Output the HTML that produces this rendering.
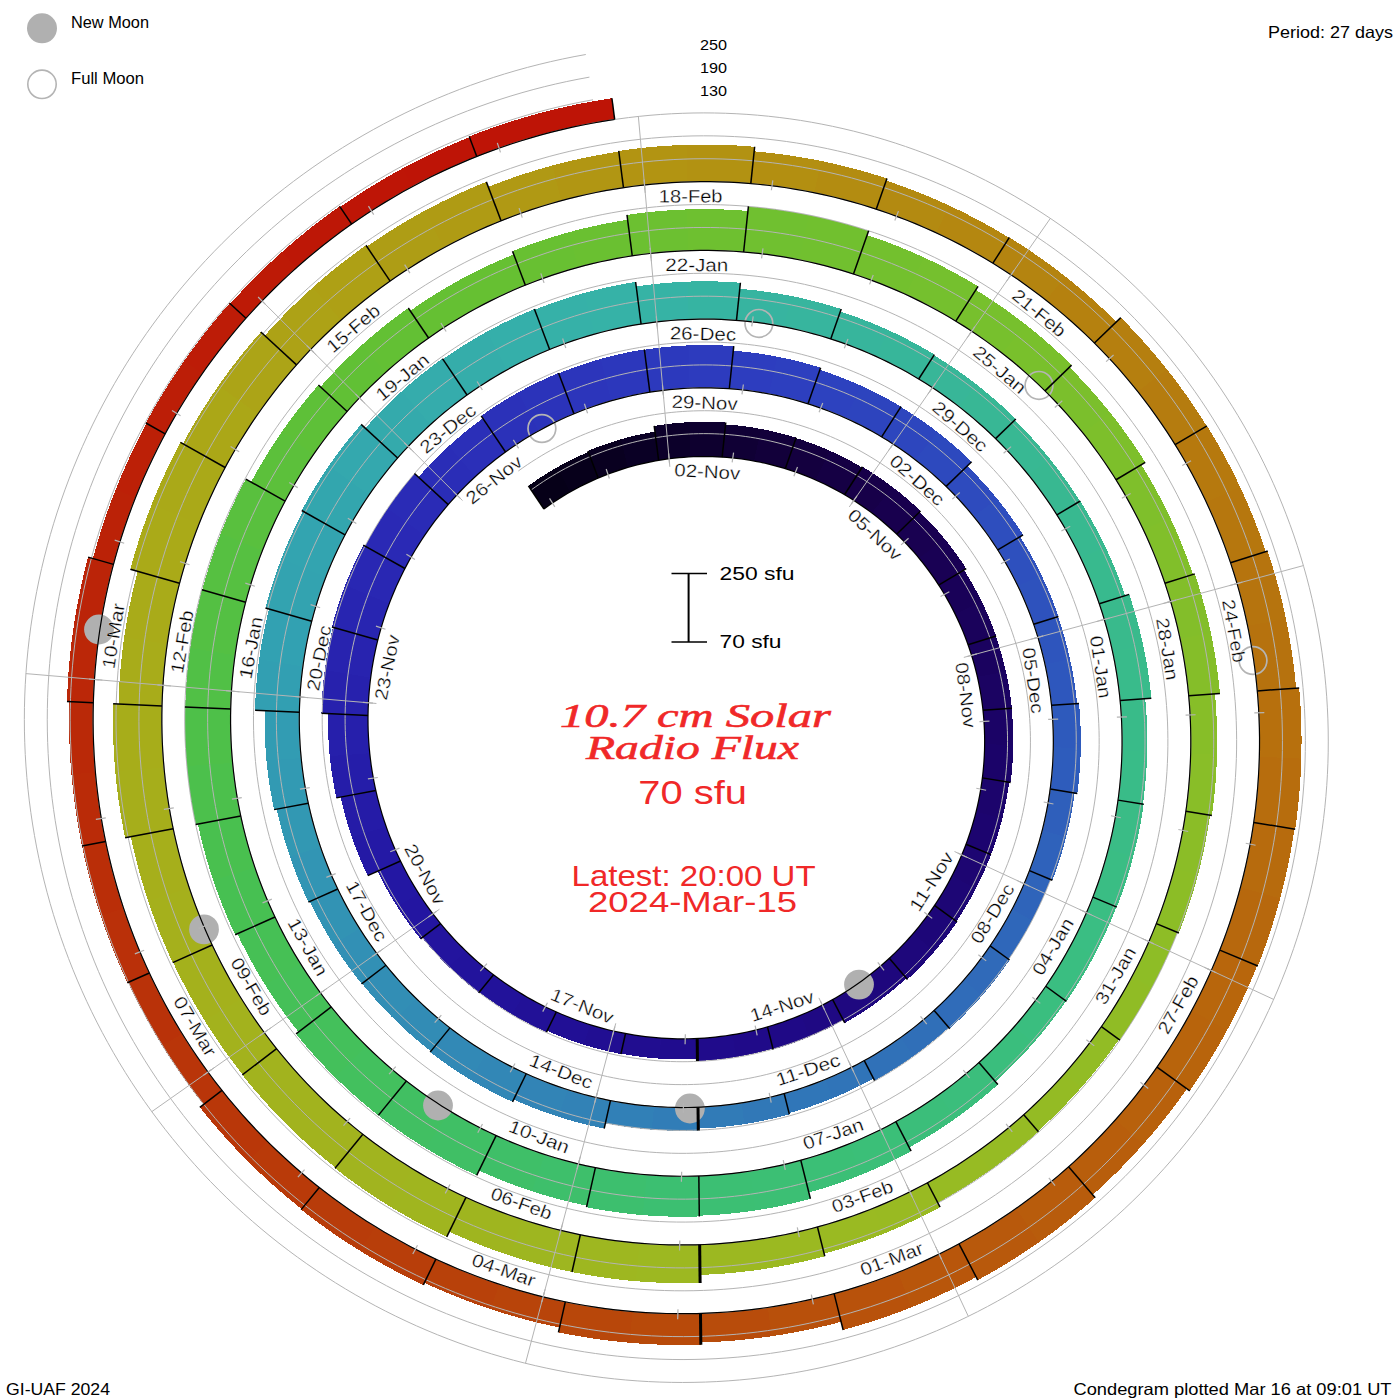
<!DOCTYPE html>
<html><head><meta charset="utf-8"><title>10.7 cm Solar Radio Flux Condegram</title>
<style>
html,body{margin:0;padding:0;background:#fff;}
svg{display:block;}
text{font-family:"Liberation Sans",sans-serif;fill:#000;}
.lab{font-size:18px;text-anchor:middle;dominant-baseline:central;stroke:#fff;stroke-width:0.3px;}
.thin{stroke:#fff;stroke-width:0.3px;}
.red{fill:#f02828;}
.ttl{font-family:"Liberation Serif",serif;font-style:italic;font-weight:normal;font-size:34px;stroke:#f02828;stroke-width:0.6px;}
</style></head><body>
<svg width="1400" height="1400" viewBox="0 0 1400 1400" xmlns="http://www.w3.org/2000/svg">
<rect width="1400" height="1400" fill="#fff"/>
<g shape-rendering="crispEdges">
<polygon fill="#060018" points="528.38,485.88 532.37,483.01 536.41,480.22 540.5,477.48 544.63,474.82 548.81,472.22 553.04,469.69 557.31,467.23 570.12,492 566.26,494.24 562.44,496.55 558.66,498.91 554.93,501.34 551.23,503.83 547.58,506.38 543.98,508.99"/>
<polygon fill="#07001b" points="557.31,467.23 561.63,464.84 565.98,462.52 570.38,460.27 574.81,458.1 579.29,455.99 583.8,453.96 588.35,452.01 598.2,478.09 594.08,479.88 590,481.74 585.95,483.66 581.94,485.65 577.96,487.7 574.02,489.81 570.12,492"/>
<polygon fill="#090020" points="587.94,450.94 592.54,449.05 597.18,447.24 601.84,445.5 606.54,443.85 611.27,442.26 616.02,440.76 620.8,439.34 627.83,467.5 623.52,468.8 619.23,470.18 614.97,471.62 610.73,473.14 606.52,474.72 602.34,476.37 598.2,478.09"/>
<polygon fill="#0a0025" points="620.8,439.34 625.61,437.99 630.44,436.73 635.3,435.54 640.18,434.44 645.08,433.41 650,432.47 654.93,431.6 658.65,460.39 654.19,461.19 649.75,462.06 645.32,463 640.92,464.02 636.54,465.11 632.17,466.27 627.83,467.5"/>
<polygon fill="#0c002a" points="654.2,425.92 659.25,425.13 664.31,424.42 669.39,423.8 674.48,423.26 679.58,422.8 684.69,422.43 689.81,422.15 690.23,456.9 685.68,457.17 681.15,457.52 676.63,457.95 672.11,458.45 667.61,459.02 663.12,459.67 658.65,460.39"/>
<polygon fill="#0e002f" points="689.81,422.15 694.94,421.95 700.07,421.83 705.21,421.8 710.35,421.86 715.49,422 720.63,422.22 725.77,422.54 722.14,457.1 717.58,456.85 713.02,456.67 708.45,456.56 703.89,456.53 699.33,456.58 694.78,456.7 690.23,456.9"/>
<polygon fill="#100035" points="725.57,424.44 730.67,424.83 735.77,425.31 740.87,425.88 745.95,426.53 751.03,427.26 756.1,428.08 761.16,428.99 753.97,461.04 749.44,460.25 744.91,459.53 740.37,458.89 735.82,458.33 731.27,457.85 726.71,457.44 722.14,457.1"/>
<polygon fill="#12003a" points="761.16,428.99 766.21,429.98 771.24,431.05 776.25,432.21 781.25,433.45 786.23,434.78 791.19,436.19 796.13,437.68 785.26,468.68 780.84,467.36 776.4,466.12 771.94,464.95 767.47,463.86 762.98,462.84 758.48,461.9 753.97,461.04"/>
<polygon fill="#14003f" points="796,438.04 800.91,439.61 805.8,441.27 810.66,443.01 815.49,444.83 820.3,446.73 825.07,448.71 829.82,450.77 815.6,479.96 811.34,478.13 807.05,476.37 802.74,474.68 798.41,473.07 794.05,471.53 789.67,470.07 785.26,468.68"/>
<polygon fill="#150044" points="829.82,450.77 834.53,452.91 839.21,455.14 843.86,457.44 848.46,459.81 853.03,462.27 857.57,464.81 862.06,467.42 844.54,494.75 840.51,492.43 836.44,490.17 832.33,487.99 828.2,485.87 824.03,483.83 819.83,481.86 815.6,479.96"/>
<polygon fill="#170049" points="862.47,466.77 866.93,469.47 871.35,472.24 875.72,475.08 880.05,478 884.33,480.99 888.57,484.05 892.75,487.19 871.7,512.9 867.94,510.11 864.15,507.38 860.31,504.72 856.42,502.13 852.5,499.6 848.54,497.14 844.54,494.75"/>
<polygon fill="#18004e" points="892.75,487.19 896.89,490.39 900.97,493.67 905,497.02 908.97,500.43 912.89,503.91 916.76,507.46 920.57,511.08 896.67,534.17 893.25,530.95 889.78,527.79 886.26,524.69 882.69,521.64 879.07,518.67 875.41,515.75 871.7,512.9"/>
<polygon fill="#190151" points="919.74,511.88 923.48,515.54 927.15,519.27 930.77,523.07 934.32,526.92 937.82,530.84 941.24,534.81 944.61,538.85 919.1,558.31 916.07,554.7 912.97,551.14 909.82,547.63 906.62,544.18 903.35,540.79 900.04,537.45 896.67,534.17"/>
<polygon fill="#190154" points="944.61,538.85 947.9,542.94 951.13,547.09 954.3,551.29 957.39,555.55 960.42,559.86 963.37,564.23 966.25,568.64 938.66,585.02 936.05,581.06 933.38,577.15 930.65,573.28 927.85,569.46 925,565.7 922.08,561.98 919.1,558.31"/>
<polygon fill="#190158" points="963.95,570.01 966.74,574.44 969.46,578.91 972.1,583.43 974.67,588 977.16,592.62 979.58,597.27 981.92,601.97 955.06,613.94 952.92,609.69 950.71,605.47 948.43,601.3 946.09,597.16 943.68,593.07 941.2,589.02 938.66,585.02"/>
<polygon fill="#1a025b" points="981.92,601.97 984.18,606.71 986.37,611.49 988.48,616.31 990.5,621.17 992.45,626.06 994.32,630.99 996.11,635.95 968.03,644.72 966.4,640.22 964.69,635.76 962.9,631.33 961.05,626.93 959.12,622.57 957.12,618.24 955.06,613.94"/>
<polygon fill="#1a025f" points="995.74,636.06 997.44,641.05 999.06,646.06 1000.6,651.11 1002.05,656.18 1003.42,661.28 1004.71,666.4 1005.91,671.55 977.39,676.93 976.28,672.26 975.09,667.61 973.83,662.98 972.5,658.37 971.08,653.79 969.6,649.24 968.03,644.72"/>
<polygon fill="#1b0362" points="1005.91,671.55 1007.03,676.72 1008.06,681.91 1009,687.12 1009.86,692.35 1010.63,697.6 1011.32,702.86 1011.91,708.13 982.96,710.16 982.4,705.37 981.76,700.59 981.04,695.83 980.25,691.08 979.37,686.34 978.42,681.63 977.39,676.93"/>
<polygon fill="#1b0366" points="1011.53,708.16 1012.04,713.44 1012.46,718.73 1012.8,724.02 1013.04,729.33 1013.2,734.65 1013.27,739.96 1013.25,745.29 984.63,743.96 984.63,739.12 984.55,734.27 984.4,729.44 984.16,724.61 983.84,719.78 983.44,714.97 982.96,710.16"/>
<polygon fill="#1b0369" points="1013.25,745.29 1013.14,750.61 1012.94,755.94 1012.66,761.26 1012.28,766.58 1011.82,771.9 1011.27,777.21 1010.62,782.51 982.36,777.88 982.92,773.04 983.41,768.2 983.82,763.36 984.14,758.51 984.39,753.66 984.55,748.81 984.63,743.96"/>
<polygon fill="#1c046c" points="1009.12,782.27 1008.39,787.54 1007.58,792.8 1006.68,798.05 1005.69,803.29 1004.61,808.51 1003.45,813.72 1002.2,818.91 976.13,811.44 977.26,806.69 978.31,801.91 979.28,797.13 980.17,792.33 980.98,787.52 981.71,782.7 982.36,777.88"/>
<polygon fill="#1c046f" points="1002.2,818.91 1000.86,824.08 999.43,829.23 997.92,834.36 996.33,839.47 994.64,844.55 992.87,849.61 991.02,854.64 965.99,844.2 967.68,839.58 969.28,834.95 970.81,830.29 972.26,825.6 973.63,820.9 974.92,816.18 976.13,811.44"/>
<polygon fill="#1d0572" points="991.02,854.64 989.08,859.64 987.06,864.61 984.96,869.55 982.77,874.45 980.5,879.33 978.14,884.16 975.71,888.96 952.06,875.68 954.28,871.28 956.42,866.84 958.49,862.37 960.48,857.87 962.4,853.34 964.23,848.78 965.99,844.2"/>
<polygon fill="#1d0675" points="975.71,888.96 973.19,893.72 970.6,898.44 967.92,903.12 965.17,907.76 962.33,912.35 959.42,916.9 956.43,921.4 934.49,905.47 937.22,901.33 939.87,897.16 942.46,892.94 944.97,888.68 947.41,884.39 949.77,880.05 952.06,875.68"/>
<polygon fill="#1d0678" points="957.05,921.85 953.98,926.31 950.83,930.73 947.61,935.09 944.32,939.4 940.95,943.66 937.51,947.87 933.99,952.01 913.48,933.12 916.69,929.32 919.82,925.46 922.89,921.56 925.89,917.61 928.83,913.61 931.69,909.56 934.49,905.47"/>
<polygon fill="#1e077b" points="933.99,952.01 930.41,956.11 926.76,960.14 923.03,964.12 919.25,968.03 915.39,971.88 911.47,975.67 907.48,979.4 889.3,958.26 892.94,954.84 896.52,951.36 900.04,947.82 903.49,944.23 906.89,940.58 910.22,936.88 913.48,933.12"/>
<polygon fill="#1e077d" points="906.48,978.24 902.45,981.89 898.36,985.47 894.21,988.98 889.99,992.43 885.72,995.81 881.38,999.11 877,1002.35 862.25,980.51 866.28,977.52 870.25,974.46 874.18,971.35 878.04,968.17 881.85,964.92 885.61,961.62 889.3,958.26"/>
<polygon fill="#1f0880" points="877,1002.35 872.55,1005.51 868.05,1008.61 863.5,1011.62 858.89,1014.57 854.24,1017.44 849.53,1020.23 844.78,1022.94 832.67,999.54 837.04,997.03 841.36,994.44 845.63,991.79 849.86,989.07 854.04,986.28 858.17,983.43 862.25,980.51"/>
<polygon fill="#1f0983" points="843.38,1020.23 838.62,1022.84 833.82,1025.38 828.97,1027.84 824.09,1030.22 819.16,1032.51 814.19,1034.73 809.18,1036.86 800.95,1015.07 805.59,1013.07 810.21,1011 814.78,1008.86 819.31,1006.64 823.81,1004.34 828.26,1001.98 832.67,999.54"/>
<polygon fill="#1f0986" points="809.18,1036.86 804.13,1038.91 799.05,1040.88 793.93,1042.77 788.78,1044.57 783.59,1046.28 778.38,1047.91 773.14,1049.45 767.49,1026.85 772.36,1025.4 777.2,1023.88 782.01,1022.27 786.8,1020.59 791.55,1018.82 796.26,1016.98 800.95,1015.07"/>
<polygon fill="#200a89" points="772.95,1048.71 767.69,1050.17 762.41,1051.53 757.1,1052.81 751.76,1054.01 746.41,1055.11 741.03,1056.12 735.63,1057.05 732.75,1034.7 737.78,1033.82 742.78,1032.87 747.77,1031.83 752.73,1030.71 757.68,1029.5 762.6,1028.22 767.49,1026.85"/>
<polygon fill="#200b8b" points="735.63,1057.05 730.22,1057.88 724.79,1058.63 719.35,1059.29 713.89,1059.85 708.42,1060.33 702.94,1060.71 697.45,1061.01 697.19,1038.47 702.3,1038.19 707.4,1037.82 712.5,1037.36 717.58,1036.82 722.65,1036.2 727.71,1035.49 732.75,1034.7"/>
<polygon fill="#200c8e" points="697.43,1059.1 691.97,1059.3 686.5,1059.41 681.03,1059.43 675.55,1059.36 670.08,1059.19 664.6,1058.94 659.13,1058.6 661.27,1038.08 666.41,1038.4 671.54,1038.62 676.68,1038.76 681.81,1038.82 686.94,1038.79 692.06,1038.67 697.19,1038.47"/>
<polygon fill="#210d90" points="659.13,1058.6 653.65,1058.16 648.19,1057.63 642.73,1057.01 637.28,1056.3 631.84,1055.5 626.41,1054.61 620.99,1053.63 625.51,1033.5 630.59,1034.42 635.68,1035.24 640.79,1035.98 645.9,1036.63 651.02,1037.2 656.14,1037.69 661.27,1038.08"/>
<polygon fill="#210e92" points="620.91,1054 615.5,1052.93 610.1,1051.76 604.72,1050.51 599.37,1049.16 594.03,1047.73 588.71,1046.2 583.42,1044.59 590.37,1024.76 595.33,1026.26 600.31,1027.68 605.32,1029.02 610.34,1030.26 615.38,1031.43 620.44,1032.51 625.51,1033.5"/>
<polygon fill="#210f95" points="583.42,1044.59 578.15,1042.89 572.91,1041.1 567.69,1039.22 562.51,1037.25 557.35,1035.2 552.23,1033.06 547.14,1030.83 556.34,1011.95 561.12,1014.02 565.92,1016.02 570.76,1017.93 575.62,1019.76 580.51,1021.51 585.43,1023.18 590.37,1024.76"/>
<polygon fill="#221197" points="546.47,1032.2 541.4,1029.88 536.36,1027.47 531.35,1024.98 526.39,1022.4 521.47,1019.74 516.59,1016.99 511.75,1014.17 523.91,995.19 528.43,997.82 532.99,1000.37 537.59,1002.84 542.22,1005.24 546.9,1007.55 551.6,1009.79 556.34,1011.95"/>
<polygon fill="#22129a" points="511.75,1014.17 506.96,1011.26 502.22,1008.27 497.52,1005.2 492.88,1002.05 488.28,998.82 483.74,995.52 479.25,992.13 493.52,974.7 497.72,977.85 501.97,980.92 506.27,983.92 510.61,986.85 515,989.71 519.43,992.49 523.91,995.19"/>
<polygon fill="#22139c" points="478.76,992.72 474.31,989.26 469.92,985.72 465.59,982.1 461.32,978.41 457.1,974.65 452.95,970.81 448.86,966.91 465.61,950.72 469.43,954.35 473.31,957.91 477.24,961.4 481.23,964.83 485.28,968.19 489.37,971.48 493.52,974.7"/>
<polygon fill="#23149e" points="448.86,966.91 444.83,962.93 440.86,958.89 436.96,954.78 433.13,950.6 429.37,946.36 425.68,942.05 422.05,937.68 440.57,923.54 443.96,927.61 447.41,931.61 450.93,935.56 454.51,939.44 458.15,943.26 461.85,947.02 465.61,950.72"/>
<polygon fill="#2315a1" points="420.53,938.84 416.96,934.38 413.46,929.86 410.04,925.28 406.69,920.64 403.41,915.95 400.22,911.2 397.1,906.39 418.78,893.52 421.68,897.97 424.65,902.37 427.7,906.71 430.81,911.01 434,915.24 437.25,919.42 440.57,923.54"/>
<polygon fill="#2317a3" points="397.1,906.39 394.06,901.53 391.1,896.62 388.22,891.65 385.42,886.64 382.7,881.57 380.07,876.46 377.52,871.31 400.55,861.05 402.92,865.82 405.37,870.55 407.9,875.24 410.51,879.88 413.19,884.48 415.95,889.03 418.78,893.52"/>
<polygon fill="#2419a5" points="367.75,875.66 365.22,870.3 362.77,864.89 360.41,859.44 358.14,853.95 355.97,848.42 353.88,842.85 351.89,837.24 386.16,826.53 387.97,831.57 389.86,836.58 391.84,841.55 393.89,846.48 396.03,851.37 398.25,856.23 400.55,861.05"/>
<polygon fill="#251ba7" points="351.89,837.24 349.99,831.6 348.18,825.93 346.46,820.22 344.84,814.48 343.32,808.71 341.89,802.92 340.55,797.1 375.83,790.44 377.05,795.68 378.36,800.89 379.75,806.07 381.22,811.23 382.78,816.36 384.43,821.46 386.16,826.53"/>
<polygon fill="#251da9" points="336.43,797.88 335.18,791.96 334.02,786.03 332.97,780.07 332.02,774.09 331.16,768.1 330.4,762.08 329.75,756.06 369.75,753.25 370.36,758.61 371.05,763.96 371.83,769.29 372.7,774.61 373.66,779.9 374.7,785.18 375.83,790.44"/>
<polygon fill="#261fab" points="329.75,756.06 329.19,750.02 328.74,743.97 328.38,737.9 328.13,731.84 327.97,725.76 327.92,719.68 327.97,713.6 368.03,715.45 368.01,720.87 368.07,726.28 368.23,731.69 368.48,737.09 368.81,742.49 369.24,747.87 369.75,753.25"/>
<polygon fill="#2721ad" points="321.48,713.3 321.64,707.1 321.9,700.91 322.26,694.72 322.72,688.54 323.29,682.35 323.96,676.18 324.74,670.02 370.72,677.56 370.07,682.96 369.5,688.36 369.03,693.78 368.64,699.19 368.35,704.61 368.14,710.03 368.03,715.45"/>
<polygon fill="#2823af" points="324.74,670.02 325.62,663.86 326.6,657.72 327.68,651.6 328.86,645.49 330.15,639.39 331.54,633.32 333.03,627.27 377.83,640.09 376.54,645.4 375.35,650.73 374.24,656.07 373.23,661.42 372.3,666.79 371.47,672.17 370.72,677.56"/>
<polygon fill="#2825b1" points="331.93,626.95 333.53,620.9 335.22,614.88 337.02,608.88 338.92,602.91 340.92,596.97 343.02,591.06 345.22,585.18 389.28,603.57 387.38,608.71 385.57,613.88 383.85,619.07 382.21,624.3 380.66,629.54 379.2,634.81 377.83,640.09"/>
<polygon fill="#2927b3" points="345.22,585.18 347.52,579.34 349.91,573.54 352.4,567.77 354.99,562.04 357.68,556.35 360.46,550.71 363.33,545.11 404.96,568.49 402.47,573.39 400.06,578.33 397.74,583.31 395.49,588.33 393.34,593.38 391.27,598.46 389.28,603.57"/>
<polygon fill="#2a29b5" points="365,546.05 367.95,540.52 371,535.04 374.14,529.61 377.37,524.23 380.69,518.9 384.1,513.63 387.6,508.41 424.69,535.34 421.64,539.94 418.66,544.58 415.76,549.28 412.94,554.01 410.2,558.8 407.54,563.62 404.96,568.49"/>
<polygon fill="#2a2bb6" points="387.6,508.41 391.19,503.24 394.87,498.14 398.63,493.09 402.48,488.11 406.41,483.19 410.42,478.33 414.52,473.53 448.23,504.59 444.65,508.82 441.13,513.1 437.69,517.44 434.33,521.84 431.04,526.29 427.83,530.79 424.69,535.34"/>
<polygon fill="#2a2db7" points="418.45,477.16 422.57,472.5 426.77,467.9 431.04,463.37 435.39,458.92 439.82,454.53 444.32,450.21 448.89,445.97 475.29,476.67 471.22,480.47 467.22,484.34 463.28,488.26 459.41,492.25 455.62,496.3 451.89,500.42 448.23,504.59"/>
<polygon fill="#2b2fb8" points="448.89,445.97 453.54,441.81 458.26,437.72 463.05,433.7 467.9,429.77 472.82,425.91 477.81,422.14 482.87,418.45 505.52,452 501.02,455.31 496.58,458.7 492.2,462.16 487.88,465.68 483.62,469.28 479.42,472.94 475.29,476.67"/>
<polygon fill="#2b31b9" points="481.16,415.91 486.32,412.27 491.54,408.72 496.82,405.25 502.16,401.87 507.56,398.58 513.02,395.37 518.53,392.26 538.54,430.93 533.66,433.71 528.84,436.57 524.07,439.5 519.35,442.51 514.68,445.6 510.07,448.76 505.52,452"/>
<polygon fill="#2b33ba" points="518.53,392.26 524.09,389.23 529.71,386.3 535.38,383.46 541.1,380.71 546.86,378.06 552.67,375.5 558.53,373.04 573.91,413.78 568.73,415.98 563.59,418.26 558.49,420.63 553.43,423.08 548.42,425.62 543.45,428.23 538.54,430.93"/>
<polygon fill="#2c35bb" points="558.67,373.4 564.56,371.04 570.49,368.77 576.47,366.6 582.48,364.53 588.53,362.56 594.61,360.69 600.73,358.92 611.18,400.8 605.76,402.39 600.37,404.07 595.01,405.83 589.68,407.69 584.39,409.63 579.13,411.66 573.91,413.78"/>
<polygon fill="#2c37bc" points="600.73,358.92 606.87,357.26 613.05,355.69 619.26,354.23 625.49,352.87 631.75,351.61 638.03,350.45 644.33,349.4 649.85,392.21 644.26,393.16 638.69,394.21 633.14,395.34 627.61,396.57 622.11,397.89 616.63,399.3 611.18,400.8"/>
<polygon fill="#2c39bd" points="644.38,349.78 650.69,348.84 657.02,348 663.37,347.26 669.73,346.63 676.11,346.11 682.5,345.69 688.89,345.38 689.4,388.16 683.72,388.45 678.04,388.84 672.38,389.33 666.72,389.91 661.08,390.58 655.46,391.35 649.85,392.21"/>
<polygon fill="#2d3bbe" points="688.89,345.38 695.29,345.18 701.7,345.08 708.11,345.08 714.53,345.2 720.94,345.42 727.36,345.75 733.77,346.18 729.31,388.73 723.61,388.36 717.9,388.09 712.2,387.91 706.49,387.83 700.79,387.84 695.1,387.95 689.4,388.16"/>
<polygon fill="#2d3dbf" points="733.29,350.74 739.62,351.28 745.94,351.91 752.25,352.66 758.55,353.51 764.85,354.46 771.12,355.52 777.38,356.69 769.02,393.95 763.38,392.92 757.73,391.99 752.06,391.15 746.38,390.4 740.7,389.75 735.01,389.19 729.31,388.73"/>
<polygon fill="#2d3fbf" points="777.38,356.69 783.63,357.96 789.85,359.33 796.06,360.81 802.24,362.39 808.4,364.07 814.53,365.86 820.64,367.75 808,403.8 802.5,402.11 796.97,400.52 791.42,399.02 785.85,397.61 780.26,396.3 774.65,395.08 769.02,393.95"/>
<polygon fill="#2d42bf" points="819.88,369.91 825.92,371.89 831.92,373.97 837.9,376.16 843.84,378.44 849.75,380.82 855.61,383.3 861.44,385.88 845.71,418.15 840.42,415.83 835.1,413.6 829.74,411.46 824.35,409.4 818.93,407.44 813.48,405.57 808,403.8"/>
<polygon fill="#2d44be" points="861.44,385.88 867.23,388.56 872.97,391.33 878.67,394.2 884.33,397.17 889.94,400.23 895.49,403.38 901,406.63 881.63,436.86 876.63,433.93 871.58,431.09 866.49,428.33 861.36,425.65 856.18,423.06 850.97,420.56 845.71,418.15"/>
<polygon fill="#2d46be" points="900.8,406.96 906.25,410.29 911.64,413.72 916.98,417.25 922.27,420.86 927.49,424.56 932.66,428.35 937.76,432.22 915.26,459.71 910.61,456.2 905.91,452.77 901.16,449.43 896.35,446.16 891.5,442.98 886.59,439.88 881.63,436.86"/>
<polygon fill="#2d49be" points="937.76,432.22 942.8,436.19 947.78,440.23 952.69,444.37 957.54,448.58 962.31,452.88 967.02,457.26 971.65,461.71 946.11,486.4 941.89,482.36 937.6,478.4 933.26,474.51 928.85,470.69 924.37,466.95 919.84,463.29 915.26,459.71"/>
<polygon fill="#2e4bbe" points="967.26,465.96 971.75,470.42 976.17,474.96 980.52,479.58 984.79,484.26 988.98,489.02 993.09,493.86 997.13,498.76 973.75,516.6 970.02,512.08 966.21,507.63 962.33,503.25 958.37,498.93 954.35,494.68 950.27,490.5 946.11,486.4"/>
<polygon fill="#2e4ebe" points="997.13,498.76 1001.09,503.73 1004.96,508.77 1008.75,513.87 1012.46,519.04 1016.09,524.27 1019.63,529.57 1023.08,534.92 997.78,549.93 994.59,545 991.31,540.11 987.95,535.29 984.52,530.53 981,525.82 977.42,521.18 973.75,516.6"/>
<polygon fill="#2e50be" points="1020.12,536.68 1023.45,542.04 1026.7,547.47 1029.86,552.95 1032.93,558.48 1035.9,564.06 1038.79,569.7 1041.58,575.39 1017.85,585.96 1015.24,580.67 1012.54,575.42 1009.76,570.22 1006.89,565.07 1003.94,559.97 1000.9,554.93 997.78,549.93"/>
<polygon fill="#2e52bd" points="1041.58,575.39 1044.27,581.12 1046.88,586.91 1049.38,592.73 1051.8,598.61 1054.11,604.52 1056.33,610.47 1058.45,616.47 1033.65,624.21 1031.67,618.63 1029.59,613.09 1027.42,607.58 1025.16,602.11 1022.81,596.68 1020.38,591.3 1017.85,585.96"/>
<polygon fill="#2e55bd" points="1058.08,616.58 1060.1,622.61 1062.02,628.67 1063.83,634.76 1065.55,640.89 1067.17,647.04 1068.68,653.23 1070.09,659.44 1044.95,664.19 1043.62,658.39 1042.19,652.62 1040.67,646.88 1039.06,641.16 1037.35,635.48 1035.55,629.83 1033.65,624.21"/>
<polygon fill="#2e57bd" points="1070.09,659.44 1071.4,665.68 1072.6,671.94 1073.71,678.23 1074.7,684.53 1075.6,690.85 1076.38,697.2 1077.06,703.55 1051.54,705.34 1050.89,699.41 1050.14,693.5 1049.3,687.59 1048.35,681.71 1047.31,675.85 1046.18,670.01 1044.95,664.19"/>
<polygon fill="#2e5abc" points="1078.97,703.42 1079.55,709.82 1080.02,716.23 1080.39,722.65 1080.64,729.09 1080.8,735.52 1080.84,741.96 1080.78,748.41 1053.31,747.14 1053.35,741.15 1053.3,735.17 1053.15,729.19 1052.89,723.21 1052.54,717.25 1052.09,711.29 1051.54,705.34"/>
<polygon fill="#2e5cbc" points="1080.78,748.41 1080.61,754.86 1080.33,761.3 1079.95,767.74 1079.46,774.18 1078.86,780.62 1078.15,787.04 1077.34,793.46 1050.2,789 1050.94,783.04 1051.59,777.07 1052.13,771.09 1052.58,765.11 1052.92,759.12 1053.16,753.13 1053.31,747.14"/>
<polygon fill="#2f5fbb" points="1074.7,793.02 1073.79,799.38 1072.77,805.73 1071.64,812.06 1070.41,818.38 1069.08,824.67 1067.63,830.95 1066.09,837.2 1042.22,830.37 1043.66,824.51 1044.99,818.64 1046.23,812.74 1047.37,806.83 1048.42,800.9 1049.36,794.96 1050.2,789"/>
<polygon fill="#2f62bb" points="1066.09,837.2 1064.44,843.44 1062.68,849.64 1060.82,855.82 1058.86,861.97 1056.79,868.09 1054.63,874.18 1052.36,880.23 1029.44,870.67 1031.56,865 1033.58,859.3 1035.5,853.56 1037.33,847.8 1039.05,842.02 1040.69,836.2 1042.22,830.37"/>
<polygon fill="#2f64ba" points="1050.59,879.49 1048.23,885.48 1045.77,891.43 1043.21,897.34 1040.56,903.21 1037.8,909.04 1034.94,914.83 1031.99,920.56 1012.01,909.34 1014.78,903.94 1017.45,898.49 1020.04,893 1022.53,887.47 1024.93,881.91 1027.23,876.31 1029.44,870.67"/>
<polygon fill="#2f67ba" points="1031.99,920.56 1028.94,926.26 1025.8,931.9 1022.56,937.49 1019.22,943.03 1015.8,948.52 1012.28,953.95 1008.67,959.32 990.12,945.86 993.51,940.8 996.82,935.68 1000.03,930.51 1003.16,925.29 1006.2,920.02 1009.15,914.71 1012.01,909.34"/>
<polygon fill="#306ab9" points="1009.6,960 1005.88,965.33 1002.08,970.6 998.19,975.81 994.21,980.96 990.14,986.04 985.99,991.06 981.75,996 964.05,979.7 968.02,975.05 971.91,970.33 975.72,965.56 979.44,960.72 983.09,955.82 986.65,950.87 990.12,945.86"/>
<polygon fill="#306cb9" points="981.75,996 977.43,1000.88 973.03,1005.69 968.54,1010.43 963.98,1015.1 959.33,1019.69 954.61,1024.2 949.81,1028.64 934.12,1010.39 938.62,1006.22 943.05,1001.97 947.4,997.65 951.68,993.27 955.88,988.81 960,984.29 964.05,979.7"/>
<polygon fill="#306fb8" points="948.81,1027.48 943.96,1031.82 939.03,1036.09 934.03,1040.27 928.95,1044.37 923.81,1048.39 918.6,1052.32 913.32,1056.17 900.71,1037.49 905.68,1033.85 910.59,1030.14 915.43,1026.34 920.21,1022.47 924.91,1018.52 929.55,1014.49 934.12,1010.39"/>
<polygon fill="#3071b8" points="913.32,1056.17 907.98,1059.93 902.57,1063.6 897.1,1067.19 891.56,1070.68 885.97,1074.09 880.32,1077.4 874.61,1080.62 864.26,1060.6 869.64,1057.56 874.96,1054.42 880.23,1051.21 885.44,1047.9 890.59,1044.52 895.68,1041.04 900.71,1037.49"/>
<polygon fill="#3074b8" points="873.56,1078.58 867.83,1081.69 862.05,1084.7 856.21,1087.62 850.33,1090.44 844.39,1093.17 838.41,1095.79 832.38,1098.32 825.23,1079.38 830.95,1076.98 836.62,1074.48 842.24,1071.88 847.82,1069.2 853.35,1066.42 858.83,1063.56 864.26,1060.6"/>
<polygon fill="#3076b8" points="832.38,1098.32 826.31,1100.75 820.2,1103.08 814.04,1105.31 807.85,1107.43 801.62,1109.46 795.35,1111.38 789.05,1113.19 784.15,1093.55 790.12,1091.82 796.06,1089.99 801.97,1088.06 807.84,1086.04 813.68,1083.91 819.48,1081.7 825.23,1079.38"/>
<polygon fill="#3178b7" points="789.33,1114.3 782.98,1116.02 776.59,1117.63 770.18,1119.14 763.74,1120.54 757.28,1121.83 750.79,1123.02 744.29,1124.1 741.55,1102.88 747.71,1101.85 753.84,1100.72 759.95,1099.49 766.04,1098.16 772.11,1096.72 778.14,1095.19 784.15,1093.55"/>
<polygon fill="#317bb7" points="744.29,1124.1 737.76,1125.07 731.21,1125.93 724.65,1126.68 718.07,1127.33 711.48,1127.86 704.87,1128.29 698.26,1128.6 698.01,1107.22 704.26,1106.91 710.51,1106.5 716.75,1105.98 722.97,1105.36 729.18,1104.64 735.37,1103.81 741.55,1102.88"/>
<polygon fill="#317db7" points="698.29,1130.51 691.64,1130.72 684.98,1130.82 678.32,1130.8 671.66,1130.67 665,1130.44 658.34,1130.09 651.68,1129.63 654.11,1106.46 660.38,1106.88 666.65,1107.2 672.93,1107.41 679.2,1107.52 685.48,1107.52 691.74,1107.42 698.01,1107.22"/>
<polygon fill="#3180b7" points="651.68,1129.63 645.03,1129.06 638.39,1128.38 631.76,1127.59 625.13,1126.69 618.52,1125.68 611.93,1124.55 605.35,1123.32 610.45,1100.59 616.65,1101.74 622.87,1102.79 629.1,1103.73 635.34,1104.57 641.59,1105.3 647.84,1105.93 654.11,1106.46"/>
<polygon fill="#3282b6" points="604.18,1128.54 597.53,1127.17 590.91,1125.7 584.3,1124.12 577.73,1122.42 571.17,1120.62 564.65,1118.7 558.15,1116.68 567.63,1089.64 573.67,1091.51 579.74,1093.28 585.84,1094.95 591.96,1096.51 598.11,1097.97 604.27,1099.33 610.45,1100.59"/>
<polygon fill="#3284b6" points="558.15,1116.68 551.69,1114.55 545.26,1112.31 538.87,1109.96 532.51,1107.5 526.19,1104.94 519.91,1102.27 513.68,1099.5 526.23,1073.75 532.03,1076.32 537.88,1078.79 543.76,1081.16 549.68,1083.43 555.63,1085.6 561.61,1087.67 567.63,1089.64"/>
<polygon fill="#3287b6" points="512.51,1101.9 506.28,1099 500.09,1096 493.96,1092.9 487.87,1089.69 481.83,1086.38 475.85,1082.96 469.93,1079.45 486.82,1053.08 492.31,1056.32 497.84,1059.46 503.43,1062.51 509.06,1065.46 514.74,1068.32 520.46,1071.08 526.23,1073.75"/>
<polygon fill="#3289b6" points="469.93,1079.45 464.06,1075.84 458.25,1072.13 452.49,1068.32 446.8,1064.41 441.18,1060.41 435.62,1056.31 430.12,1052.12 449.96,1027.89 455.05,1031.75 460.2,1035.53 465.41,1039.22 470.68,1042.82 476.01,1046.33 481.39,1049.75 486.82,1053.08"/>
<polygon fill="#328cb5" points="430.85,1051.23 425.43,1046.96 420.09,1042.6 414.82,1038.15 409.62,1033.61 404.5,1028.98 399.45,1024.26 394.47,1019.46 416.17,998.49 420.79,1002.93 425.48,1007.3 430.25,1011.58 435.08,1015.79 439.97,1019.9 444.94,1023.94 449.96,1027.89"/>
<polygon fill="#328eb5" points="394.47,1019.46 389.58,1014.57 384.76,1009.6 380.03,1004.55 375.38,999.42 370.81,994.21 366.33,988.93 361.94,983.56 385.92,965.26 390.01,970.22 394.18,975.12 398.42,979.94 402.75,984.69 407.15,989.37 411.62,993.97 416.17,998.49"/>
<polygon fill="#3290b5" points="361.63,983.79 357.32,978.35 353.1,972.83 348.97,967.25 344.93,961.59 340.98,955.86 337.13,950.06 333.38,944.2 359.65,928.61 363.15,934.04 366.73,939.4 370.4,944.7 374.15,949.94 377.99,955.11 381.92,960.22 385.92,965.26"/>
<polygon fill="#3293b4" points="333.38,944.2 329.72,938.28 326.15,932.29 322.69,926.24 319.32,920.13 316.06,913.97 312.9,907.75 309.84,901.47 337.75,889.03 340.6,894.85 343.54,900.61 346.58,906.32 349.71,911.98 352.93,917.58 356.25,923.12 359.65,928.61"/>
<polygon fill="#3295b4" points="308.44,902.09 305.48,895.74 302.62,889.33 299.86,882.88 297.21,876.38 294.67,869.83 292.24,863.24 289.91,856.61 320.53,847.04 322.7,853.16 324.96,859.25 327.32,865.3 329.78,871.3 332.34,877.26 335,883.17 337.75,889.03"/>
<polygon fill="#3298b3" points="289.91,856.61 287.7,849.93 285.59,843.22 283.6,836.47 281.72,829.68 279.95,822.87 278.29,816.02 276.75,809.14 308.28,803.19 309.72,809.54 311.26,815.87 312.91,822.17 314.66,828.44 316.52,834.67 318.47,840.87 320.53,847.04"/>
<polygon fill="#329ab3" points="274.12,809.63 272.69,802.68 271.36,795.71 270.16,788.7 269.07,781.68 268.1,774.64 267.24,767.58 266.5,760.5 301.17,758.06 301.87,764.57 302.67,771.05 303.58,777.52 304.59,783.97 305.71,790.4 306.94,796.81 308.28,803.19"/>
<polygon fill="#329cb3" points="266.5,760.5 265.88,753.41 265.38,746.3 264.99,739.19 264.72,732.07 264.57,724.94 264.54,717.8 264.63,710.67 299.35,712.27 299.29,718.83 299.33,725.39 299.48,731.94 299.74,738.49 300.11,745.02 300.59,751.55 301.17,758.06"/>
<polygon fill="#329fb2" points="255.09,710.23 255.31,702.93 255.65,695.64 256.11,688.35 256.69,681.06 257.39,673.78 258.21,666.52 259.16,659.26 302.88,666.43 302.05,672.96 301.32,679.5 300.71,686.04 300.21,692.6 299.81,699.15 299.53,705.71 299.35,712.27"/>
<polygon fill="#32a1b2" points="259.16,659.26 260.22,652.02 261.41,644.79 262.71,637.58 264.14,630.4 265.69,623.23 267.35,616.09 269.14,608.97 311.73,621.17 310.14,627.57 308.66,634 307.29,640.46 306.02,646.93 304.87,653.41 303.82,659.92 302.88,666.43"/>
<polygon fill="#33a3b0" points="265.47,607.92 267.39,600.77 269.43,593.65 271.59,586.56 273.87,579.5 276.27,572.48 278.79,565.5 281.42,558.56 325.83,577.09 323.5,583.29 321.28,589.53 319.16,595.8 317.14,602.1 315.23,608.43 313.43,614.78 311.73,621.17"/>
<polygon fill="#33a4b0" points="281.42,558.56 284.17,551.67 287.03,544.81 290.01,538 293.1,531.24 296.31,524.53 299.63,517.87 303.06,511.26 345.02,534.83 341.97,540.73 339.03,546.68 336.19,552.68 333.44,558.72 330.8,564.81 328.27,570.93 325.83,577.09"/>
<polygon fill="#33a6ae" points="301.72,510.52 305.28,503.94 308.94,497.43 312.71,490.97 316.6,484.57 320.58,478.24 324.68,471.97 328.88,465.77 369.06,494.94 365.34,500.47 361.71,506.06 358.18,511.71 354.74,517.41 351.4,523.16 348.16,528.97 345.02,534.83"/>
<polygon fill="#34a8ae" points="328.88,465.77 333.19,459.64 337.59,453.58 342.1,447.58 346.72,441.67 351.43,435.82 356.24,430.06 361.14,424.37 397.66,458.01 393.31,463.08 389.05,468.23 384.87,473.44 380.78,478.72 376.78,484.07 372.87,489.47 369.06,494.94"/>
<polygon fill="#34aaac" points="365.36,428.25 370.29,422.71 375.32,417.26 380.45,411.88 385.66,406.59 390.96,401.38 396.36,396.26 401.83,391.23 430.47,424.54 425.54,429.09 420.69,433.72 415.92,438.43 411.23,443.21 406.63,448.07 402.1,453 397.66,458.01"/>
<polygon fill="#35acac" points="401.83,391.23 407.4,386.29 413.04,381.44 418.77,376.69 424.58,372.02 430.47,367.46 436.44,362.99 442.48,358.61 467.05,395.02 461.61,398.98 456.24,403.03 450.94,407.16 445.71,411.38 440.56,415.68 435.47,420.07 430.47,424.54"/>
<polygon fill="#35adaa" points="442.91,359.25 449.01,354.98 455.19,350.81 461.44,346.75 467.76,342.79 474.15,338.93 480.6,335.18 487.12,331.53 506.95,369.87 501.07,373.18 495.24,376.59 489.48,380.09 483.78,383.68 478.14,387.37 472.56,391.15 467.05,395.02"/>
<polygon fill="#35afaa" points="487.12,331.53 493.7,328 500.34,324.57 507.03,321.25 513.79,318.04 520.6,314.94 527.46,311.95 534.38,309.08 549.63,349.46 543.38,352.07 537.18,354.79 531.03,357.6 524.93,360.52 518.88,363.54 512.89,366.65 506.95,369.87"/>
<polygon fill="#36b1a8" points="534.65,309.79 541.6,307.04 548.6,304.4 555.65,301.88 562.74,299.47 569.87,297.19 577.05,295.02 584.26,292.96 594.53,334.1 588,335.97 581.51,337.95 575.05,340.04 568.63,342.24 562.25,344.54 555.92,346.95 549.63,349.46"/>
<polygon fill="#36b2a7" points="584.26,292.96 591.5,291.03 598.78,289.22 606.1,287.53 613.44,285.96 620.81,284.51 628.21,283.18 635.63,281.98 641.05,324.02 634.33,325.13 627.63,326.35 620.95,327.68 614.3,329.12 607.68,330.67 601.09,332.33 594.53,334.1"/>
<polygon fill="#36b3a5" points="636.21,286.52 643.58,285.45 650.97,284.5 658.37,283.67 665.79,282.97 673.23,282.39 680.67,281.93 688.13,281.6 688.58,319.41 681.75,319.73 674.94,320.16 668.13,320.71 661.34,321.37 654.56,322.14 647.8,323.03 641.05,324.02"/>
<polygon fill="#36b4a2" points="688.13,281.6 695.59,281.39 703.06,281.31 710.53,281.35 718,281.51 725.48,281.8 732.95,282.21 740.41,282.75 736.47,320.35 729.63,319.88 722.79,319.51 715.94,319.27 709.1,319.13 702.26,319.11 695.42,319.2 688.58,319.41"/>
<polygon fill="#37b4a0" points="739.77,288.82 747.13,289.47 754.48,290.25 761.82,291.14 769.14,292.16 776.45,293.3 783.74,294.56 791.02,295.94 784.07,326.87 777.32,325.6 770.54,324.44 763.75,323.4 756.95,322.47 750.13,321.65 743.3,320.94 736.47,320.35"/>
<polygon fill="#37b59e" points="791.02,295.94 798.27,297.44 805.5,299.07 812.7,300.82 819.88,302.68 827.03,304.67 834.14,306.77 841.23,309 830.74,338.92 824.16,336.86 817.54,334.92 810.9,333.08 804.23,331.36 797.53,329.75 790.81,328.26 784.07,326.87"/>
<polygon fill="#37b59c" points="840.34,311.52 847.35,313.85 854.32,316.29 861.25,318.86 868.14,321.53 874.99,324.33 881.79,327.24 888.55,330.26 875.83,356.35 869.51,353.54 863.15,350.83 856.74,348.23 850.3,345.74 843.81,343.35 837.29,341.08 830.74,338.92"/>
<polygon fill="#37b69a" points="888.55,330.26 895.26,333.39 901.91,336.64 908.52,340 915.07,343.47 921.57,347.05 928,350.74 934.38,354.54 918.72,378.98 912.75,375.44 906.73,372 900.65,368.66 894.52,365.43 888.34,362.3 882.11,359.27 875.83,356.35"/>
<polygon fill="#38b698" points="933.97,355.18 940.28,359.08 946.52,363.08 952.7,367.19 958.81,371.4 964.85,375.71 970.82,380.13 976.72,384.65 958.81,406.52 953.28,402.29 947.68,398.16 942.01,394.13 936.28,390.2 930.49,386.36 924.63,382.62 918.72,378.98"/>
<polygon fill="#38b795" points="976.72,384.65 982.55,389.26 988.3,393.98 993.98,398.79 999.57,403.7 1005.09,408.7 1010.52,413.8 1015.87,418.98 995.55,438.62 990.53,433.77 985.43,429.01 980.25,424.33 975,419.74 969.68,415.24 964.28,410.83 958.81,406.52"/>
<polygon fill="#38b893" points="1014.78,420.04 1020.02,425.3 1025.19,430.65 1030.26,436.08 1035.25,441.61 1040.14,447.21 1044.95,452.9 1049.66,458.67 1028.4,474.89 1023.97,469.47 1019.44,464.13 1014.83,458.87 1010.13,453.68 1005.35,448.58 1000.49,443.56 995.55,438.62"/>
<polygon fill="#38b891" points="1049.66,458.67 1054.27,464.52 1058.79,470.45 1063.21,476.45 1067.54,482.53 1071.76,488.68 1075.88,494.91 1079.9,501.2 1056.91,514.85 1053.12,508.93 1049.23,503.08 1045.25,497.3 1041.18,491.59 1037.01,485.95 1032.75,480.38 1028.4,474.89"/>
<polygon fill="#38b990" points="1080.23,501.01 1084.15,507.38 1087.96,513.81 1091.67,520.32 1095.27,526.88 1098.76,533.51 1102.15,540.19 1105.42,546.94 1080.65,557.98 1077.56,551.64 1074.37,545.36 1071.08,539.14 1067.69,532.98 1064.19,526.87 1060.6,520.83 1056.91,514.85"/>
<polygon fill="#38ba8e" points="1105.42,546.94 1108.58,553.74 1111.63,560.59 1114.57,567.5 1117.39,574.46 1120.09,581.47 1122.69,588.52 1125.16,595.62 1099.28,603.71 1096.94,597.04 1094.49,590.41 1091.94,583.83 1089.28,577.29 1086.51,570.8 1083.63,564.36 1080.65,557.98"/>
<polygon fill="#39ba8c" points="1129.17,594.37 1131.55,601.58 1133.8,608.83 1135.94,616.12 1137.96,623.44 1139.85,630.81 1141.63,638.2 1143.28,645.63 1112.5,651.44 1110.95,644.52 1109.29,637.63 1107.51,630.78 1105.62,623.96 1103.62,617.17 1101.5,610.42 1099.28,603.71"/>
<polygon fill="#39bb8b" points="1143.28,645.63 1144.81,653.09 1146.21,660.57 1147.49,668.08 1148.65,675.61 1149.68,683.17 1150.58,690.74 1151.36,698.33 1120.12,700.53 1119.38,693.46 1118.52,686.4 1117.55,679.36 1116.46,672.35 1115.26,665.35 1113.94,658.38 1112.5,651.44"/>
<polygon fill="#39bb89" points="1145.26,698.76 1145.91,706.26 1146.43,713.78 1146.83,721.31 1147.1,728.84 1147.25,736.38 1147.27,743.93 1147.17,751.48 1121.99,750.32 1122.07,743.19 1122.04,736.06 1121.89,728.93 1121.63,721.82 1121.24,714.71 1120.74,707.61 1120.12,700.53"/>
<polygon fill="#39bc88" points="1147.17,751.48 1146.94,759.03 1146.58,766.58 1146.1,774.12 1145.49,781.66 1144.76,789.19 1143.9,796.71 1142.92,804.21 1118.04,800.13 1118.96,793.04 1119.76,785.94 1120.44,778.82 1121.01,771.7 1121.45,764.58 1121.78,757.45 1121.99,750.32"/>
<polygon fill="#3abc86" points="1143.67,804.34 1142.56,811.84 1141.33,819.33 1139.97,826.8 1138.48,834.25 1136.87,841.67 1135.14,849.07 1133.28,856.45 1108.31,849.3 1110.06,842.34 1111.68,835.36 1113.19,828.35 1114.58,821.32 1115.85,814.28 1117.01,807.21 1118.04,800.13"/>
<polygon fill="#3abd84" points="1133.28,856.45 1131.3,863.79 1129.2,871.11 1126.97,878.39 1124.63,885.64 1122.16,892.84 1119.57,900.01 1116.86,907.14 1092.89,897.14 1095.44,890.41 1097.87,883.65 1100.19,876.84 1102.39,870 1104.48,863.13 1106.46,856.23 1108.31,849.3"/>
<polygon fill="#3abe83" points="1116.51,907 1113.68,914.08 1110.74,921.11 1107.68,928.1 1104.5,935.03 1101.2,941.92 1097.79,948.76 1094.27,955.53 1071.96,943 1075.28,936.6 1078.49,930.14 1081.59,923.63 1084.58,917.08 1087.46,910.48 1090.23,903.83 1092.89,897.14"/>
<polygon fill="#3abe81" points="1094.27,955.53 1090.63,962.26 1086.88,968.92 1083.02,975.52 1079.04,982.06 1074.96,988.54 1070.76,994.95 1066.46,1001.29 1045.76,986.25 1049.81,980.26 1053.76,974.2 1057.61,968.08 1061.35,961.9 1064.99,955.66 1068.53,949.36 1071.96,943"/>
<polygon fill="#3abe7f" points="1066.16,1001.06 1061.75,1007.33 1057.24,1013.52 1052.63,1019.64 1047.91,1025.69 1043.1,1031.66 1038.18,1037.55 1033.16,1043.36 1014.62,1026.28 1019.36,1020.78 1024,1015.21 1028.55,1009.56 1033,1003.83 1037.35,998.04 1041.6,992.18 1045.76,986.25"/>
<polygon fill="#3abe7d" points="1033.16,1043.36 1028.05,1049.09 1022.83,1054.73 1017.53,1060.29 1012.13,1065.76 1006.63,1071.14 1001.05,1076.44 995.37,1081.64 978.94,1062.53 984.3,1057.6 989.57,1052.59 994.76,1047.49 999.86,1042.31 1004.87,1037.05 1009.79,1031.7 1014.62,1026.28"/>
<polygon fill="#3bbe7c" points="997.86,1084.54 992.05,1089.69 986.16,1094.74 980.17,1099.7 974.11,1104.56 967.96,1109.32 961.73,1113.98 955.42,1118.53 939.18,1094.47 945.09,1090.19 950.93,1085.81 956.69,1081.34 962.37,1076.77 967.98,1072.11 973.5,1067.36 978.94,1062.53"/>
<polygon fill="#3bbe7a" points="955.42,1118.53 949.03,1122.98 942.57,1127.33 936.03,1131.57 929.42,1135.71 922.75,1139.73 916,1143.64 909.18,1147.45 895.85,1121.66 902.23,1118.09 908.56,1114.4 914.82,1110.62 921.01,1106.73 927.14,1102.75 933.19,1098.66 939.18,1094.47"/>
<polygon fill="#3bbf78" points="911.11,1151.18 904.17,1154.9 897.17,1158.51 890.1,1162 882.97,1165.37 875.79,1168.63 868.55,1171.77 861.25,1174.79 849.52,1143.7 856.3,1140.88 863.02,1137.95 869.7,1134.91 876.32,1131.76 882.89,1128.5 889.4,1125.14 895.85,1121.66"/>
<polygon fill="#3bbf76" points="861.25,1174.79 853.91,1177.69 846.51,1180.46 839.07,1183.12 831.58,1185.65 824.04,1188.06 816.47,1190.34 808.85,1192.49 800.8,1160.25 807.88,1158.24 814.93,1156.1 821.93,1153.85 828.89,1151.48 835.81,1149 842.69,1146.41 849.52,1143.7"/>
<polygon fill="#3cbf74" points="810.42,1198.79 802.66,1200.85 794.87,1202.78 787.04,1204.58 779.18,1206.24 771.29,1207.78 763.37,1209.19 755.43,1210.46 750.35,1171.07 757.64,1169.88 764.9,1168.58 772.14,1167.15 779.35,1165.6 786.53,1163.94 793.68,1162.16 800.8,1160.25"/>
<polygon fill="#3cbf73" points="755.43,1210.46 747.46,1211.61 739.48,1212.62 731.47,1213.5 723.45,1214.24 715.41,1214.86 707.36,1215.34 699.31,1215.68 698.83,1175.96 706.23,1175.63 713.62,1175.18 720.99,1174.6 728.36,1173.9 735.71,1173.08 743.04,1172.13 750.35,1171.07"/>
<polygon fill="#3cbf71" points="699.31,1216.45 691.24,1216.66 683.15,1216.73 675.06,1216.68 666.98,1216.48 658.89,1216.16 650.81,1215.7 642.73,1215.1 646.95,1174.84 654.35,1175.37 661.77,1175.77 669.18,1176.06 676.6,1176.22 684.01,1176.26 691.42,1176.17 698.83,1175.96"/>
<polygon fill="#3dbf6e" points="642.73,1215.1 634.66,1214.37 626.6,1213.51 618.55,1212.51 610.52,1211.37 602.5,1210.11 594.51,1208.71 586.53,1207.17 595.4,1167.67 602.72,1169.06 610.05,1170.33 617.4,1171.48 624.77,1172.5 632.15,1173.4 639.55,1174.18 646.95,1174.84"/>
<polygon fill="#3ebf6b" points="586.87,1205.68 578.94,1204.02 571.04,1202.23 563.17,1200.3 555.33,1198.24 547.52,1196.06 539.74,1193.74 532,1191.29 544.89,1154.53 552.01,1156.76 559.17,1158.88 566.36,1160.88 573.58,1162.76 580.83,1164.52 588.1,1166.15 595.4,1167.67"/>
<polygon fill="#3fbf68" points="532,1191.29 524.3,1188.71 516.64,1186.01 509.03,1183.17 501.46,1180.21 493.94,1177.12 486.46,1173.91 479.04,1170.57 496.11,1135.55 502.95,1138.61 509.83,1141.55 516.76,1144.38 523.73,1147.1 530.75,1149.69 537.8,1152.17 544.89,1154.53"/>
<polygon fill="#40bf65" points="476.7,1175.38 469.25,1171.87 461.86,1168.25 454.53,1164.5 447.26,1160.62 440.05,1156.63 432.91,1152.51 425.83,1148.27 449.73,1110.97 456.19,1114.81 462.7,1118.55 469.27,1122.17 475.9,1125.69 482.59,1129.09 489.32,1132.37 496.11,1135.55"/>
<polygon fill="#41bf62" points="425.83,1148.27 418.82,1143.92 411.89,1139.44 405.02,1134.86 398.23,1130.15 391.52,1125.33 384.89,1120.4 378.33,1115.36 406.41,1081.08 412.39,1085.66 418.44,1090.14 424.56,1094.52 430.76,1098.79 437.02,1102.95 443.34,1107.01 449.73,1110.97"/>
<polygon fill="#43c05e" points="378.33,1115.36 371.86,1110.21 365.48,1104.94 359.18,1099.57 352.96,1094.1 346.84,1088.52 340.81,1082.84 334.87,1077.05 366.73,1046.26 372.15,1051.52 377.66,1056.69 383.25,1061.76 388.92,1066.74 394.67,1071.62 400.5,1076.4 406.41,1081.08"/>
<polygon fill="#44c05b" points="334.87,1077.05 329.03,1071.17 323.28,1065.18 317.63,1059.1 312.08,1052.93 306.64,1046.66 301.29,1040.3 296.05,1033.85 331.27,1006.97 336.06,1012.84 340.94,1018.62 345.92,1024.33 350.99,1029.94 356.15,1035.47 361.4,1040.91 366.73,1046.26"/>
<polygon fill="#45c058" points="298.48,1031.99 293.38,1025.49 288.38,1018.91 283.49,1012.24 278.72,1005.48 274.05,998.65 269.5,991.74 265.06,984.75 300.53,963.69 304.61,970.1 308.8,976.43 313.1,982.69 317.49,988.88 321.99,994.98 326.58,1001.02 331.27,1006.97"/>
<polygon fill="#46c055" points="265.06,984.75 260.73,977.68 256.52,970.54 252.43,963.33 248.46,956.05 244.61,948.7 240.88,941.28 237.27,933.81 274.95,917.02 278.27,923.87 281.71,930.66 285.26,937.4 288.91,944.07 292.68,950.68 296.55,957.22 300.53,963.69"/>
<polygon fill="#47c052" points="235.18,934.74 231.68,927.16 228.31,919.53 225.06,911.84 221.94,904.09 218.95,896.29 216.09,888.43 213.35,880.53 254.91,867.54 257.42,874.76 260.05,881.93 262.8,889.05 265.67,896.12 268.65,903.14 271.74,910.1 274.95,917.02"/>
<polygon fill="#49c04f" points="213.35,880.53 210.75,872.58 208.28,864.58 205.94,856.55 203.74,848.47 201.67,840.35 199.73,832.2 197.93,824.01 240.72,815.94 242.38,823.41 244.16,830.86 246.07,838.27 248.1,845.65 250.25,852.99 252.52,860.29 254.91,867.54"/>
<polygon fill="#4cc04c" points="195.68,824.43 194.01,816.18 192.47,807.89 191.08,799.58 189.82,791.24 188.7,782.88 187.71,774.5 186.87,766.09 232.59,762.88 233.37,770.52 234.28,778.15 235.32,785.75 236.48,793.33 237.77,800.89 239.18,808.43 240.72,815.94"/>
<polygon fill="#4ec049" points="186.87,766.09 186.17,757.68 185.6,749.25 185.18,740.81 184.9,732.36 184.76,723.9 184.75,715.44 184.89,706.98 230.68,709.1 230.57,716.8 230.58,724.5 230.73,732.19 231,739.88 231.41,747.56 231.93,755.23 232.59,762.88"/>
<polygon fill="#51c046" points="185.27,707 185.55,698.54 185.97,690.09 186.53,681.64 187.24,673.2 188.08,664.77 189.06,656.35 190.18,647.95 235.03,655.3 234.03,662.96 233.15,670.63 232.4,678.31 231.78,686 231.28,693.7 230.91,701.4 230.68,709.1"/>
<polygon fill="#54c043" points="190.18,647.95 191.44,639.56 192.85,631.19 194.39,622.85 196.07,614.53 197.89,606.23 199.85,597.96 201.95,589.72 245.64,602.24 243.75,609.75 241.98,617.28 240.33,624.85 238.82,632.43 237.43,640.04 236.17,647.66 235.03,655.3"/>
<polygon fill="#56c041" points="202.31,589.83 204.54,581.63 206.91,573.47 209.42,565.34 212.06,557.26 214.84,549.22 217.75,541.22 220.79,533.27 262.38,550.62 259.62,557.88 256.98,565.18 254.47,572.52 252.07,579.9 249.8,587.31 247.66,594.76 245.64,602.24"/>
<polygon fill="#59c03e" points="220.79,533.27 223.97,525.36 227.28,517.51 230.72,509.71 234.29,501.97 237.99,494.29 241.82,486.66 245.77,479.1 285.07,501.17 281.48,508.07 278,515.03 274.64,522.05 271.39,529.12 268.27,536.24 265.27,543.41 262.38,550.62"/>
<polygon fill="#5cc03b" points="251.1,482.09 255.13,474.68 259.29,467.34 263.57,460.06 267.97,452.85 272.5,445.71 277.14,438.65 281.9,431.66 313.43,454.55 309.04,461.01 304.77,467.54 300.6,474.14 296.55,480.8 292.61,487.53 288.78,494.32 285.07,501.17"/>
<polygon fill="#5ec038" points="281.9,431.66 286.78,424.75 291.77,417.92 296.88,411.18 302.11,404.51 307.44,397.93 312.89,391.44 318.44,385.04 347.1,411.43 341.98,417.35 336.96,423.36 332.04,429.44 327.23,435.61 322.52,441.85 317.92,448.16 313.43,454.55"/>
<polygon fill="#61c035" points="320.41,386.85 326.04,380.57 331.78,374.38 337.62,368.29 343.56,362.29 349.61,356.39 355.75,350.59 362,344.89 385.65,372.41 379.86,377.71 374.16,383.11 368.56,388.59 363.05,394.17 357.63,399.84 352.32,405.59 347.1,411.43"/>
<polygon fill="#63c034" points="362,344.89 368.33,339.3 374.77,333.8 381.29,328.42 387.91,323.14 394.62,317.97 401.41,312.91 408.29,307.96 428.59,338.04 422.21,342.64 415.91,347.35 409.68,352.16 403.55,357.08 397.49,362.09 391.53,367.2 385.65,372.41"/>
<polygon fill="#65c033" points="410.21,310.81 417.13,306.01 424.13,301.32 431.2,296.74 438.36,292.29 445.59,287.95 452.89,283.73 460.27,279.63 475.36,308.8 468.47,312.65 461.64,316.61 454.89,320.67 448.2,324.85 441.59,329.14 435.05,333.53 428.59,338.04"/>
<polygon fill="#66c032" points="460.27,279.63 467.71,275.65 475.23,271.8 482.81,268.07 490.45,264.46 498.15,260.98 505.92,257.63 513.74,254.41 525.34,285.14 518.03,288.17 510.77,291.31 503.57,294.58 496.42,297.96 489.34,301.46 482.32,305.07 475.36,308.8"/>
<polygon fill="#68c032" points="512.52,251.19 520.45,248.08 528.44,245.1 536.47,242.25 544.56,239.53 552.69,236.95 560.86,234.5 569.08,232.19 577.87,267.39 570.24,269.56 562.64,271.84 555.09,274.26 547.58,276.79 540.12,279.45 532.71,282.24 525.34,285.14"/>
<polygon fill="#6ac031" points="569.08,232.19 577.34,230.01 585.64,227.97 593.97,226.07 602.34,224.31 610.73,222.68 619.16,221.2 627.61,219.85 632.25,255.84 624.4,257.1 616.57,258.5 608.77,260.02 600.99,261.67 593.25,263.45 585.54,265.36 577.87,267.39"/>
<polygon fill="#6cc031" points="626.98,214.93 635.53,213.71 644.11,212.64 652.72,211.71 661.33,210.92 669.96,210.28 678.61,209.78 687.26,209.42 687.76,250.67 679.79,251.01 671.83,251.48 663.88,252.09 655.95,252.83 648.03,253.7 640.13,254.71 632.25,255.84"/>
<polygon fill="#6ec030" points="687.26,209.42 695.93,209.2 704.6,209.14 713.27,209.21 721.94,209.43 730.61,209.79 739.27,210.3 747.93,210.95 743.64,251.98 735.66,251.39 727.68,250.94 719.69,250.62 711.7,250.43 703.72,250.38 695.74,250.45 687.76,250.67"/>
<polygon fill="#70c030" points="748.41,206.39 757.14,207.2 765.85,208.15 774.55,209.24 783.24,210.48 791.9,211.87 800.54,213.4 809.16,215.07 799.13,259.79 791.25,258.28 783.36,256.9 775.44,255.65 767.51,254.53 759.56,253.55 751.6,252.7 743.64,251.98"/>
<polygon fill="#71c02f" points="809.16,215.07 817.76,216.89 826.32,218.85 834.86,220.95 843.36,223.2 851.83,225.58 860.25,228.11 868.64,230.78 853.48,274.03 845.81,271.61 838.11,269.32 830.37,267.15 822.61,265.12 814.81,263.21 806.98,261.43 799.13,259.79"/>
<polygon fill="#73c02e" points="867.12,235.11 875.4,237.89 883.63,240.81 891.81,243.87 899.94,247.07 908.02,250.4 916.05,253.87 924.02,257.47 905.95,294.55 898.6,291.24 891.19,288.06 883.74,285 876.24,282.07 868.7,279.27 861.11,276.59 853.48,274.03"/>
<polygon fill="#75c02e" points="924.02,257.47 931.93,261.2 939.79,265.07 947.58,269.07 955.3,273.2 962.96,277.46 970.55,281.84 978.06,286.36 955.81,321.09 948.87,316.94 941.87,312.91 934.81,309 927.68,305.2 920.49,301.53 913.25,297.98 905.95,294.55"/>
<polygon fill="#77c02d" points="975.8,289.89 983.18,294.5 990.49,299.22 997.73,304.07 1004.88,309.04 1011.95,314.13 1018.94,319.34 1025.85,324.66 1002.37,353.32 995.95,348.39 989.45,343.56 982.86,338.84 976.21,334.23 969.48,329.73 962.68,325.35 955.81,321.09"/>
<polygon fill="#79c02c" points="1025.85,324.66 1032.66,330.1 1039.39,335.66 1046.03,341.33 1052.57,347.11 1059.02,353 1065.38,359 1071.63,365.1 1044.99,390.85 1039.17,385.18 1033.25,379.61 1027.25,374.15 1021.16,368.79 1014.98,363.53 1008.72,358.37 1002.37,353.32"/>
<polygon fill="#7bbf2c" points="1069.43,367.23 1075.55,373.4 1081.57,379.68 1087.48,386.06 1093.29,392.54 1099,399.11 1104.59,405.79 1110.08,412.55 1083.05,433.18 1077.92,426.86 1072.67,420.62 1067.33,414.48 1061.89,408.43 1056.35,402.47 1050.72,396.61 1044.99,390.85"/>
<polygon fill="#7dbf2b" points="1110.08,412.55 1115.45,419.41 1120.71,426.36 1125.86,433.4 1130.89,440.53 1135.8,447.74 1140.59,455.04 1145.27,462.42 1116.03,479.76 1111.65,472.87 1107.16,466.05 1102.55,459.31 1097.84,452.66 1093.02,446.08 1088.09,439.59 1083.05,433.18"/>
<polygon fill="#7fbf2b" points="1141.32,464.75 1145.84,472.14 1150.23,479.61 1154.5,487.15 1158.64,494.77 1162.66,502.45 1166.55,510.2 1170.31,518.02 1143.45,529.99 1139.89,522.62 1136.21,515.31 1132.41,508.06 1128.49,500.88 1124.45,493.77 1120.3,486.73 1116.03,479.76"/>
<polygon fill="#81bf2a" points="1170.31,518.02 1173.94,525.91 1177.45,533.85 1180.82,541.86 1184.06,549.92 1187.16,558.04 1190.13,566.21 1192.97,574.43 1164.9,583.2 1162.21,575.45 1159.4,567.74 1156.46,560.08 1153.39,552.47 1150.2,544.92 1146.88,537.43 1143.45,529.99"/>
<polygon fill="#83be2a" points="1194.79,573.86 1197.5,582.17 1200.07,590.52 1202.5,598.91 1204.8,607.35 1206.95,615.82 1208.97,624.33 1210.84,632.88 1180.06,638.69 1178.29,630.65 1176.39,622.65 1174.35,614.68 1172.18,606.75 1169.88,598.86 1167.45,591.01 1164.9,583.2"/>
<polygon fill="#85be29" points="1210.84,632.88 1212.57,641.46 1214.16,650.08 1215.6,658.72 1216.9,667.38 1218.06,676.07 1219.07,684.78 1219.94,693.51 1188.7,695.71 1187.87,687.5 1186.91,679.31 1185.81,671.13 1184.57,662.98 1183.2,654.86 1181.7,646.76 1180.06,638.69"/>
<polygon fill="#87be28" points="1214.99,693.86 1215.71,702.52 1216.28,711.2 1216.71,719.89 1217,728.59 1217.14,737.29 1217.14,746 1216.99,754.71 1190.66,753.49 1190.79,745.22 1190.79,736.95 1190.64,728.68 1190.36,720.42 1189.95,712.17 1189.39,703.93 1188.7,695.71"/>
<polygon fill="#89be28" points="1216.99,754.71 1216.69,763.42 1216.26,772.12 1215.67,780.82 1214.95,789.52 1214.07,798.2 1213.06,806.87 1211.89,815.52 1185.89,811.26 1186.98,803.04 1187.94,794.8 1188.76,786.55 1189.44,778.3 1189.99,770.03 1190.39,761.76 1190.66,753.49"/>
<polygon fill="#8bbd27" points="1210.01,815.22 1208.71,823.82 1207.27,832.41 1205.68,840.97 1203.95,849.51 1202.08,858.02 1200.06,866.51 1197.91,874.96 1174.41,868.23 1176.45,860.17 1178.37,852.08 1180.14,843.96 1181.78,835.82 1183.29,827.65 1184.66,819.46 1185.89,811.26"/>
<polygon fill="#8cbd26" points="1197.91,874.96 1195.61,883.37 1193.17,891.75 1190.6,900.1 1187.88,908.4 1185.02,916.65 1182.03,924.86 1178.9,933.03 1156.34,923.61 1159.32,915.83 1162.16,908 1164.88,900.12 1167.46,892.2 1169.91,884.25 1172.22,876.25 1174.41,868.23"/>
<polygon fill="#8ebd26" points="1177.49,932.44 1174.23,940.53 1170.84,948.57 1167.32,956.55 1163.66,964.47 1159.86,972.34 1155.94,980.14 1151.88,987.89 1131.9,976.67 1135.77,969.26 1139.52,961.79 1143.14,954.26 1146.63,946.68 1150,939.04 1153.23,931.35 1156.34,923.61"/>
<polygon fill="#90bc25" points="1151.88,987.89 1147.7,995.56 1143.39,1003.17 1138.95,1010.7 1134.38,1018.17 1129.69,1025.56 1124.87,1032.87 1119.93,1040.11 1101.39,1026.64 1106.11,1019.72 1110.71,1012.72 1115.19,1005.65 1119.55,998.5 1123.79,991.29 1127.91,984.01 1131.9,976.67"/>
<polygon fill="#92bc25" points="1119.01,1039.43 1113.96,1046.57 1108.79,1053.63 1103.5,1060.6 1098.1,1067.49 1092.58,1074.29 1086.95,1080.99 1081.2,1087.61 1065.19,1072.86 1070.69,1066.51 1076.09,1060.08 1081.37,1053.56 1086.55,1046.95 1091.61,1040.26 1096.56,1033.49 1101.39,1026.64"/>
<polygon fill="#94bb24" points="1081.2,1087.61 1075.34,1094.13 1069.38,1100.55 1063.3,1106.88 1057.12,1113.1 1050.83,1119.23 1044.44,1125.25 1037.95,1131.17 1023.76,1114.66 1029.98,1108.98 1036.1,1103.2 1042.12,1097.32 1048.04,1091.35 1053.86,1085.28 1059.58,1079.11 1065.19,1072.86"/>
<polygon fill="#96bb24" points="1038.45,1131.75 1031.85,1137.56 1025.15,1143.27 1018.36,1148.87 1011.47,1154.36 1004.48,1159.73 997.41,1164.99 990.25,1170.13 977.64,1151.46 984.49,1146.53 991.26,1141.49 997.94,1136.33 1004.53,1131.07 1011.04,1125.71 1017.44,1120.23 1023.76,1114.66"/>
<polygon fill="#97bb23" points="990.25,1170.13 983,1175.16 975.66,1180.06 968.25,1184.85 960.75,1189.51 953.17,1194.05 945.52,1198.46 937.79,1202.74 927.43,1182.73 934.83,1178.62 942.16,1174.38 949.41,1170.03 956.59,1165.56 963.69,1160.98 970.7,1156.27 977.64,1151.46"/>
<polygon fill="#99ba22" points="940.07,1207.15 932.19,1211.35 924.25,1215.41 916.23,1219.35 908.15,1223.15 900,1226.82 891.79,1230.35 883.52,1233.75 873.8,1208.02 881.65,1204.79 889.43,1201.43 897.16,1197.94 904.83,1194.32 912.43,1190.58 919.97,1186.72 927.43,1182.73"/>
<polygon fill="#9aba22" points="883.52,1233.75 875.19,1237.01 866.8,1240.13 858.36,1243.11 849.87,1245.96 841.33,1248.66 832.75,1251.22 824.12,1253.64 817.45,1226.96 825.64,1224.65 833.79,1222.21 841.89,1219.64 849.94,1216.93 857.95,1214.09 865.9,1211.12 873.8,1208.02"/>
<polygon fill="#9bb921" points="824.76,1256.23 816.05,1258.52 807.29,1260.66 798.5,1262.66 789.67,1264.51 780.81,1266.21 771.92,1267.77 763.01,1269.18 759.14,1239.25 767.57,1237.91 775.96,1236.43 784.33,1234.81 792.66,1233.05 800.96,1231.16 809.23,1229.13 817.45,1226.96"/>
<polygon fill="#9cb821" points="763.01,1269.18 754.06,1270.44 745.1,1271.55 736.11,1272.52 727.11,1273.33 718.09,1274 709.06,1274.51 700.01,1274.88 699.65,1244.71 708.19,1244.35 716.72,1243.86 725.24,1243.22 733.75,1242.44 742.23,1241.52 750.7,1240.45 759.14,1239.25"/>
<polygon fill="#9db821" points="700.11,1282.9 690.93,1283.11 681.74,1283.18 672.55,1283.09 663.35,1282.84 654.16,1282.45 644.98,1281.9 635.8,1281.2 639.78,1243.21 648.33,1243.85 656.88,1244.35 665.44,1244.71 673.99,1244.92 682.55,1244.99 691.1,1244.92 699.65,1244.71"/>
<polygon fill="#9eb720" points="635.8,1281.2 626.64,1280.34 617.48,1279.34 608.34,1278.18 599.22,1276.86 590.12,1275.4 581.04,1273.78 571.98,1272.02 580.35,1234.75 588.78,1236.38 597.24,1237.88 605.71,1239.23 614.21,1240.44 622.72,1241.5 631.25,1242.43 639.78,1243.21"/>
<polygon fill="#9eb620" points="571.98,1272.02 562.96,1270.1 553.96,1268.03 544.99,1265.81 536.07,1263.45 527.18,1260.93 518.32,1258.26 509.52,1255.45 522.15,1219.41 530.36,1222.01 538.6,1224.48 546.89,1226.82 555.21,1229.01 563.56,1231.06 571.94,1232.98 580.35,1234.75"/>
<polygon fill="#9fb51f" points="509.52,1255.45 500.75,1252.49 492.04,1249.38 483.37,1246.13 474.76,1242.74 466.2,1239.2 457.7,1235.51 449.26,1231.69 465.99,1197.35 473.86,1200.9 481.78,1204.32 489.76,1207.61 497.79,1210.76 505.86,1213.78 513.98,1216.66 522.15,1219.41"/>
<polygon fill="#a0b51f" points="446.75,1236.84 438.29,1232.83 429.89,1228.68 421.55,1224.39 413.29,1219.95 405.1,1215.39 396.99,1210.68 388.95,1205.84 412.65,1168.85 420.07,1173.31 427.56,1177.64 435.12,1181.84 442.74,1185.91 450.43,1189.85 458.18,1193.67 465.99,1197.35"/>
<polygon fill="#a1b41f" points="388.95,1205.84 380.99,1200.86 373.11,1195.75 365.32,1190.51 357.61,1185.14 349.99,1179.64 342.46,1174.01 335.02,1168.25 362.85,1134.27 369.72,1139.57 376.67,1144.75 383.71,1149.81 390.83,1154.75 398.02,1159.58 405.3,1164.28 412.65,1168.85"/>
<polygon fill="#a2b31e" points="335.5,1167.66 328.17,1161.79 320.93,1155.8 313.79,1149.68 306.75,1143.44 299.81,1137.09 292.98,1130.62 286.26,1124.03 317.29,1094.04 323.52,1100.11 329.84,1106.08 336.25,1111.94 342.77,1117.69 349.37,1123.33 356.06,1128.86 362.85,1134.27"/>
<polygon fill="#a2b31e" points="286.26,1124.03 279.64,1117.33 273.13,1110.52 266.74,1103.6 260.45,1096.57 254.29,1089.44 248.24,1082.2 242.31,1074.86 276.62,1048.68 282.11,1055.45 287.71,1062.13 293.42,1068.71 299.23,1075.19 305.15,1081.58 311.17,1087.86 317.29,1094.04"/>
<polygon fill="#a3b21d" points="242.62,1074.63 236.81,1067.2 231.13,1059.67 225.57,1052.04 220.14,1044.32 214.84,1036.5 209.66,1028.6 204.62,1020.61 241.41,998.78 246.08,1006.16 250.88,1013.46 255.8,1020.68 260.83,1027.81 265.98,1034.86 271.24,1041.81 276.62,1048.68"/>
<polygon fill="#a4b11c" points="204.62,1020.61 199.71,1012.53 194.93,1004.38 190.28,996.14 185.77,987.82 181.4,979.42 177.17,970.95 173.08,962.41 212.15,945 215.95,952.89 219.88,960.72 223.93,968.48 228.11,976.17 232.42,983.78 236.85,991.32 241.41,998.78"/>
<polygon fill="#a5b01c" points="172.73,962.57 168.78,953.95 164.97,945.27 161.3,936.52 157.78,927.71 154.41,918.83 151.18,909.9 148.1,900.92 189.29,888.05 192.15,896.35 195.15,904.6 198.28,912.8 201.55,920.94 204.95,929.02 208.49,937.04 212.15,945"/>
<polygon fill="#a6af1b" points="148.1,900.92 145.16,891.88 142.38,882.79 139.75,873.66 137.27,864.48 134.94,855.25 132.77,845.99 130.75,836.69 173.16,828.68 175.04,837.28 177.07,845.84 179.23,854.37 181.54,862.86 183.98,871.3 186.57,879.7 189.29,888.05"/>
<polygon fill="#a6ae1b" points="125.12,837.75 123.24,828.32 121.51,818.85 119.94,809.36 118.53,799.84 117.27,790.29 116.18,780.72 115.24,771.13 164.01,767.7 164.88,776.48 165.9,785.24 167.06,793.98 168.37,802.7 169.82,811.39 171.42,820.05 173.16,828.68"/>
<polygon fill="#a7ad1a" points="115.24,771.13 114.46,761.52 113.85,751.9 113.39,742.26 113.09,732.62 112.96,722.97 112.98,713.32 113.16,703.66 162,705.92 161.85,714.76 161.84,723.61 161.98,732.44 162.27,741.27 162.7,750.09 163.28,758.9 164.01,767.7"/>
<polygon fill="#a8ac1a" points="118.5,703.91 118.84,694.34 119.34,684.78 120,675.23 120.82,665.68 121.8,656.15 122.93,646.63 124.22,637.13 167.19,644.18 166.01,652.96 164.97,661.77 164.08,670.58 163.34,679.41 162.75,688.24 162.3,697.08 162,705.92"/>
<polygon fill="#a9ab19" points="124.22,637.13 125.67,627.65 127.28,618.19 129.05,608.75 130.98,599.35 133.06,589.97 135.29,580.63 137.69,571.32 179.55,583.31 177.35,591.92 175.29,600.56 173.38,609.24 171.61,617.94 169.99,626.66 168.52,635.41 167.19,644.18"/>
<polygon fill="#aaaa18" points="130.34,569.22 132.93,559.83 135.67,550.48 138.57,541.17 141.62,531.91 144.83,522.7 148.19,513.54 151.7,504.44 198.93,524.15 195.74,532.46 192.69,540.83 189.78,549.24 187.01,557.7 184.38,566.2 181.89,574.73 179.55,583.31"/>
<polygon fill="#aaa918" points="151.7,504.44 155.37,495.39 159.18,486.41 163.15,477.48 167.27,468.62 171.53,459.82 175.94,451.1 180.5,442.45 225.12,467.5 220.98,475.41 216.97,483.39 213.09,491.42 209.34,499.52 205.74,507.67 202.27,515.88 198.93,524.15"/>
<polygon fill="#aba717" points="182.83,443.76 187.51,435.22 192.33,426.75 197.3,418.37 202.4,410.06 207.64,401.84 213.02,393.71 218.54,385.66 257.79,414.16 252.74,421.55 247.82,429.02 243.02,436.57 238.35,444.19 233.81,451.89 229.4,459.66 225.12,467.5"/>
<polygon fill="#aca417" points="218.54,385.66 224.19,377.71 229.98,369.84 235.9,362.07 241.94,354.4 248.12,346.83 254.42,339.36 260.85,331.99 296.53,364.85 290.64,371.62 284.87,378.49 279.21,385.45 273.68,392.49 268.26,399.63 262.97,406.85 257.79,414.16"/>
<polygon fill="#ada216" points="264.78,335.61 271.27,328.42 277.89,321.33 284.62,314.35 291.46,307.48 298.43,300.72 305.51,294.07 312.69,287.55 340.83,320.28 334.18,326.33 327.64,332.49 321.2,338.76 314.86,345.13 308.64,351.61 302.53,358.18 296.53,364.85"/>
<polygon fill="#aea015" points="312.69,287.55 319.99,281.14 327.4,274.85 334.91,268.69 342.53,262.64 350.25,256.73 358.07,250.94 365.98,245.28 390.13,281.05 382.8,286.31 375.57,291.68 368.43,297.17 361.38,302.78 354.43,308.5 347.58,314.33 340.83,320.28"/>
<polygon fill="#ae9d15" points="366.84,246.54 374.83,241.03 382.91,235.65 391.08,230.4 399.35,225.28 407.69,220.3 416.13,215.46 424.64,210.76 443.77,247.74 435.87,252.12 428.04,256.63 420.29,261.26 412.63,266.02 405.04,270.91 397.54,275.92 390.13,281.05"/>
<polygon fill="#af9b14" points="424.64,210.76 433.24,206.2 441.91,201.79 450.66,197.51 459.48,193.38 468.37,189.4 477.33,185.56 486.35,181.87 501.06,220.82 492.68,224.26 484.36,227.84 476.11,231.55 467.92,235.4 459.8,239.38 451.75,243.49 443.77,247.74"/>
<polygon fill="#b09914" points="488.24,186.88 497.24,183.37 506.3,180.01 515.42,176.8 524.6,173.74 533.83,170.84 543.1,168.09 552.43,165.49 561.22,200.69 552.48,203.14 543.78,205.73 535.13,208.47 526.53,211.34 517.99,214.36 509.49,217.52 501.06,220.82"/>
<polygon fill="#b19613" points="552.43,165.49 561.8,163.04 571.21,160.76 580.66,158.62 590.15,156.65 599.67,154.83 609.23,153.17 618.81,151.67 623.46,187.65 614.47,189.07 605.51,190.64 596.58,192.36 587.69,194.22 578.83,196.23 570,198.39 561.22,200.69"/>
<polygon fill="#b29412" points="618.72,150.91 628.34,149.57 637.99,148.38 647.66,147.36 657.34,146.5 667.05,145.79 676.76,145.25 686.49,144.87 686.94,181.92 677.82,182.29 668.72,182.8 659.63,183.47 650.56,184.29 641.5,185.26 632.47,186.38 623.46,187.65"/>
<polygon fill="#b29212" points="686.49,144.87 696.23,144.66 705.97,144.6 715.71,144.71 725.46,144.98 735.2,145.41 744.93,146 754.66,146.75 750.8,183.6 741.69,182.91 732.56,182.36 723.44,181.97 714.31,181.73 705.18,181.64 696.06,181.7 686.94,181.92"/>
<polygon fill="#b38f11" points="754.18,151.31 763.82,152.22 773.45,153.29 783.06,154.52 792.65,155.91 802.22,157.46 811.77,159.16 821.29,161.03 814.18,192.71 805.19,190.96 796.17,189.35 787.13,187.9 778.07,186.6 769,185.45 759.9,184.45 750.8,183.6"/>
<polygon fill="#b38c11" points="821.29,161.03 830.78,163.06 840.24,165.24 849.66,167.58 859.05,170.08 868.4,172.74 877.7,175.55 886.96,178.52 876.22,209.15 867.47,206.36 858.68,203.72 849.85,201.22 840.98,198.87 832.08,196.67 823.15,194.61 814.18,192.71"/>
<polygon fill="#b38a11" points="886.2,180.68 895.38,183.79 904.5,187.05 913.57,190.46 922.59,194.03 931.55,197.74 940.45,201.61 949.29,205.62 936.07,232.75 927.68,228.95 919.24,225.29 910.74,221.78 902.19,218.4 893.58,215.18 884.92,212.09 876.22,209.15"/>
<polygon fill="#b48710" points="949.29,205.62 958.06,209.78 966.76,214.09 975.39,218.55 983.95,223.15 992.44,227.89 1000.85,232.77 1009.18,237.79 992.9,263.2 985,258.44 977.02,253.82 968.96,249.33 960.84,244.98 952.65,240.76 944.39,236.69 936.07,232.75"/>
<polygon fill="#b48410" points="1009.38,237.47 1017.64,242.64 1025.8,247.95 1033.88,253.39 1041.87,258.96 1049.77,264.68 1057.58,270.52 1065.29,276.49 1045.93,300.13 1038.62,294.48 1031.21,288.95 1023.72,283.54 1016.14,278.26 1008.47,273.11 1000.73,268.09 992.9,263.2"/>
<polygon fill="#b5810f" points="1065.29,276.49 1072.9,282.6 1080.42,288.83 1087.83,295.19 1095.13,301.67 1102.33,308.27 1109.42,315 1116.4,321.84 1094.43,343.07 1087.8,336.59 1081.07,330.22 1074.24,323.97 1067.31,317.83 1060.28,311.81 1053.15,305.91 1045.93,300.13"/>
<polygon fill="#b57f0f" points="1120.79,317.59 1127.73,324.63 1134.55,331.78 1141.26,339.05 1147.84,346.43 1154.3,353.92 1160.64,361.51 1166.85,369.22 1137.71,391.47 1131.87,384.24 1125.91,377.12 1119.84,370.1 1113.65,363.18 1107.35,356.37 1100.94,349.67 1094.43,343.07"/>
<polygon fill="#b57c0f" points="1166.85,369.22 1172.94,377.03 1178.9,384.94 1184.72,392.95 1190.42,401.07 1195.98,409.27 1201.4,417.57 1206.69,425.97 1175.16,444.68 1170.18,436.81 1165.08,429.02 1159.86,421.33 1154.5,413.72 1149.02,406.21 1143.43,398.79 1137.71,391.47"/>
<polygon fill="#b6790e" points="1207.02,425.77 1212.17,434.26 1217.18,442.83 1222.05,451.49 1226.78,460.23 1231.36,469.06 1235.8,477.95 1240.08,486.93 1206.24,502.01 1202.21,493.59 1198.04,485.25 1193.73,476.98 1189.29,468.79 1184.71,460.67 1180,452.63 1175.16,444.68"/>
<polygon fill="#b6770e" points="1240.08,486.93 1244.22,495.98 1248.22,505.09 1252.05,514.28 1255.74,523.53 1259.28,532.84 1262.66,542.22 1265.88,551.65 1230.52,562.7 1227.48,553.85 1224.3,545.06 1220.97,536.33 1217.5,527.65 1213.89,519.04 1210.14,510.49 1206.24,502.01"/>
<polygon fill="#b6740e" points="1267.7,551.08 1270.78,560.6 1273.7,570.17 1276.46,579.79 1279.06,589.46 1281.5,599.17 1283.78,608.92 1285.9,618.72 1247.62,625.94 1245.63,616.78 1243.48,607.66 1241.19,598.58 1238.74,589.54 1236.15,580.55 1233.41,571.6 1230.52,562.7"/>
<polygon fill="#b6720e" points="1285.9,618.72 1287.86,628.55 1289.65,638.42 1291.28,648.31 1292.74,658.24 1294.04,668.19 1295.17,678.16 1296.14,688.16 1257.28,690.89 1256.36,681.54 1255.29,672.21 1254.06,662.9 1252.68,653.62 1251.15,644.36 1249.46,635.14 1247.62,625.94"/>
<polygon fill="#b7700d" points="1299.19,687.95 1300,698.01 1300.63,708.09 1301.1,718.18 1301.41,728.28 1301.54,738.39 1301.51,748.5 1301.31,758.61 1259.34,756.67 1259.51,747.25 1259.53,737.84 1259.39,728.43 1259.1,719.03 1258.65,709.64 1258.04,700.26 1257.28,690.89"/>
<polygon fill="#b76d0d" points="1301.31,758.61 1300.94,768.72 1300.4,778.82 1299.69,788.92 1298.82,799.01 1297.78,809.09 1296.57,819.15 1295.19,829.19 1253.73,822.39 1255,813.04 1256.11,803.67 1257.07,794.29 1257.87,784.89 1258.52,775.49 1259.01,766.08 1259.34,756.67"/>
<polygon fill="#b76b0d" points="1294.44,829.06 1292.89,839.07 1291.19,849.05 1289.31,859.01 1287.27,868.94 1285.06,878.83 1282.69,888.69 1280.16,898.51 1240.5,887.15 1242.85,877.99 1245.05,868.8 1247.1,859.57 1248.99,850.31 1250.72,841.03 1252.31,831.72 1253.73,822.39"/>
<polygon fill="#b7680d" points="1280.16,898.51 1277.46,908.29 1274.59,918.03 1271.57,927.72 1268.38,937.36 1265.03,946.95 1261.53,956.49 1257.86,965.97 1219.79,950.09 1223.2,941.24 1226.46,932.35 1229.57,923.4 1232.53,914.4 1235.34,905.36 1237.99,896.28 1240.5,887.15"/>
<polygon fill="#b8660c" points="1257.15,965.68 1253.33,975.09 1249.36,984.43 1245.22,993.72 1240.93,1002.93 1236.49,1012.08 1231.9,1021.15 1227.15,1030.15 1191.85,1010.33 1196.27,1001.92 1200.55,993.44 1204.69,984.89 1208.68,976.28 1212.53,967.61 1216.23,958.88 1219.79,950.09"/>
<polygon fill="#b8640c" points="1227.15,1030.15 1222.25,1039.07 1217.21,1047.91 1212.01,1056.67 1206.67,1065.34 1201.19,1073.92 1195.56,1082.42 1189.78,1090.82 1157.02,1067.04 1162.4,1059.18 1167.65,1051.24 1172.76,1043.21 1177.74,1035.11 1182.58,1026.92 1187.29,1018.66 1191.85,1010.33"/>
<polygon fill="#b8610c" points="1187,1088.8 1181.12,1097.07 1175.11,1105.23 1168.95,1113.3 1162.67,1121.26 1156.24,1129.13 1149.69,1136.89 1143.01,1144.53 1115.76,1119.43 1122.03,1112.24 1128.17,1104.95 1134.2,1097.55 1140.1,1090.06 1145.87,1082.48 1151.51,1074.8 1157.02,1067.04"/>
<polygon fill="#b85e0c" points="1143.01,1144.53 1136.19,1152.07 1129.26,1159.5 1122.19,1166.82 1115.01,1174.01 1107.7,1181.09 1100.27,1188.05 1092.73,1194.89 1068.58,1166.79 1075.66,1160.36 1082.63,1153.82 1089.48,1147.16 1096.23,1140.39 1102.85,1133.51 1109.36,1126.52 1115.76,1119.43"/>
<polygon fill="#b85c0c" points="1095.22,1197.78 1087.51,1204.53 1079.69,1211.16 1071.76,1217.66 1063.72,1224.02 1055.58,1230.25 1047.32,1236.35 1038.97,1242.31 1016.1,1208.44 1023.9,1202.86 1031.6,1197.16 1039.2,1191.33 1046.7,1185.38 1054.1,1179.3 1061.39,1173.11 1068.58,1166.79"/>
<polygon fill="#b8590c" points="1038.97,1242.31 1030.51,1248.14 1021.96,1253.82 1013.31,1259.36 1004.57,1264.76 995.73,1270.02 986.81,1275.13 977.8,1280.09 959.02,1243.79 967.43,1239.15 975.76,1234.36 984,1229.45 992.16,1224.39 1000.23,1219.21 1008.21,1213.89 1016.1,1208.44"/>
<polygon fill="#b8560b" points="976.22,1277.04 967.18,1281.82 958.05,1286.46 948.85,1290.95 939.57,1295.28 930.22,1299.46 920.8,1303.49 911.31,1307.35 898.09,1272.34 907,1268.69 915.84,1264.9 924.62,1260.97 933.33,1256.89 941.97,1252.66 950.53,1248.3 959.02,1243.79"/>
<polygon fill="#b8520b" points="911.31,1307.35 901.75,1311.07 892.13,1314.62 882.45,1318.01 872.71,1321.25 862.92,1324.32 853.07,1327.23 843.18,1329.98 834.11,1293.66 843.4,1291.07 852.65,1288.33 861.85,1285.43 870.99,1282.38 880.08,1279.18 889.11,1275.83 898.09,1272.34"/>
<polygon fill="#b8500b" points="841.14,1321.82 831.33,1324.37 821.48,1326.76 811.59,1328.98 801.66,1331.04 791.69,1332.94 781.69,1334.66 771.66,1336.23 767.94,1307.44 777.49,1305.94 787.02,1304.29 796.51,1302.47 805.97,1300.5 815.39,1298.38 824.77,1296.1 834.11,1293.66"/>
<polygon fill="#b84c0b" points="771.66,1336.23 761.6,1337.62 751.51,1338.85 741.41,1339.91 731.28,1340.81 721.14,1341.53 710.99,1342.09 700.82,1342.48 700.48,1313.45 710.16,1313.07 719.83,1312.54 729.49,1311.84 739.13,1310.98 748.76,1309.96 758.36,1308.78 767.94,1307.44"/>
<polygon fill="#b84a0a" points="700.85,1344.77 690.64,1344.99 680.42,1345.04 670.2,1344.92 659.98,1344.63 649.77,1344.17 639.56,1343.54 629.36,1342.74 632.62,1311.59 642.3,1312.34 651.99,1312.93 661.69,1313.35 671.39,1313.62 681.09,1313.73 690.78,1313.67 700.48,1313.45"/>
<polygon fill="#b8470a" points="629.36,1342.74 619.17,1341.77 608.99,1340.63 598.83,1339.32 588.7,1337.84 578.58,1336.19 568.49,1334.38 558.43,1332.39 565.29,1301.83 574.84,1303.71 584.42,1305.42 594.02,1306.97 603.65,1308.37 613.29,1309.6 622.95,1310.67 632.62,1311.59"/>
<polygon fill="#b8440a" points="559.52,1327.55 549.57,1325.41 539.66,1323.12 529.78,1320.65 519.94,1318.02 510.15,1315.23 500.4,1312.28 490.69,1309.16 499.41,1284.29 508.7,1287.26 518.03,1290.08 527.41,1292.75 536.83,1295.26 546.28,1297.61 555.77,1299.8 565.29,1301.83"/>
<polygon fill="#b8410a" points="490.69,1309.16 481.04,1305.88 471.44,1302.44 461.9,1298.83 452.41,1295.07 442.99,1291.15 433.62,1287.08 424.33,1282.84 435.87,1259.15 444.77,1263.2 453.74,1267.09 462.76,1270.84 471.84,1274.43 480.98,1277.87 490.17,1281.15 499.41,1284.29"/>
<polygon fill="#b83e0a" points="423.33,1284.9 414.06,1280.5 404.88,1275.94 395.76,1271.23 386.73,1266.36 377.77,1261.34 368.89,1256.18 360.1,1250.86 375.56,1226.74 383.94,1231.8 392.41,1236.72 400.96,1241.5 409.58,1246.13 418.27,1250.62 427.04,1254.96 435.87,1259.15"/>
<polygon fill="#b83c0a" points="360.1,1250.86 351.4,1245.4 342.78,1239.79 334.26,1234.04 325.83,1228.15 317.5,1222.11 309.27,1215.94 301.14,1209.62 319.29,1187.46 327.05,1193.48 334.91,1199.36 342.86,1205.11 350.9,1210.72 359.03,1216.2 367.25,1221.54 375.56,1226.74"/>
<polygon fill="#b93a09" points="301.62,1209.03 293.61,1202.59 285.7,1196.02 277.89,1189.31 270.2,1182.47 262.62,1175.5 255.15,1168.41 247.8,1161.19 267.85,1141.81 274.88,1148.7 282.01,1155.47 289.26,1162.12 296.61,1168.64 304.07,1175.04 311.63,1181.32 319.29,1187.46"/>
<polygon fill="#b93709" points="247.8,1161.19 240.57,1153.84 233.46,1146.38 226.48,1138.8 219.62,1131.09 212.88,1123.28 206.28,1115.35 199.81,1107.31 221.97,1090.39 228.16,1098.06 234.47,1105.63 240.91,1113.09 247.47,1120.44 254.15,1127.68 260.94,1134.81 267.85,1141.81"/>
<polygon fill="#b93509" points="203.45,1104.53 197.15,1096.44 190.99,1088.24 184.96,1079.94 179.08,1071.54 173.32,1063.04 167.71,1054.45 162.25,1045.75 182.28,1033.86 187.55,1042.22 192.95,1050.49 198.49,1058.67 204.17,1066.75 209.97,1074.73 215.91,1082.61 221.97,1090.39"/>
<polygon fill="#b93209" points="162.25,1045.75 156.92,1036.97 151.74,1028.1 146.71,1019.14 141.83,1010.09 137.09,1000.96 132.51,991.75 128.08,982.47 149.36,972.98 153.63,981.92 158.05,990.78 162.61,999.56 167.31,1008.26 172.16,1016.88 177.15,1025.42 182.28,1033.86"/>
<polygon fill="#ba3009" points="127.38,982.78 123.1,973.4 118.97,963.96 115,954.44 111.19,944.86 107.53,935.21 104.04,925.5 100.7,915.73 123.67,908.55 126.88,917.94 130.25,927.27 133.77,936.55 137.44,945.76 141.26,954.9 145.23,963.98 149.36,972.98"/>
<polygon fill="#ba2e08" points="100.7,915.73 97.53,905.9 94.52,896.02 91.68,886.09 89,876.1 86.49,866.08 84.14,856 81.96,845.89 105.6,841.43 107.71,851.15 109.97,860.83 112.39,870.47 114.98,880.06 117.72,889.61 120.62,899.11 123.67,908.55"/>
<polygon fill="#ba2b08" points="81.96,845.89 79.94,835.74 78.1,825.56 76.42,815.34 74.92,805.09 73.58,794.82 72.42,784.52 71.43,774.21 95.43,772.52 96.39,782.44 97.52,792.34 98.81,802.21 100.26,812.06 101.88,821.88 103.66,831.67 105.6,841.43"/>
<polygon fill="#ba2908" points="71.43,774.21 70.6,763.87 69.95,753.52 69.48,743.15 69.17,732.78 69.04,722.4 69.07,712.02 69.29,701.63 93.32,702.74 93.13,712.73 93.1,722.71 93.23,732.69 93.53,742.67 94,752.63 94.63,762.58 95.43,772.52"/>
<polygon fill="#bb2708" points="67,701.53 67.38,691.11 67.94,680.69 68.68,670.28 69.58,659.88 70.66,649.5 71.92,639.13 73.34,628.78 99.35,633.05 97.99,642.97 96.8,652.9 95.77,662.85 94.91,672.81 94.21,682.78 93.69,692.76 93.32,702.74"/>
<polygon fill="#bb2408" points="73.34,628.78 74.94,618.46 76.71,608.16 78.65,597.88 80.76,587.64 83.04,577.43 85.5,567.26 88.12,557.13 113.45,564.38 110.95,574.09 108.61,583.84 106.43,593.62 104.41,603.44 102.56,613.28 100.87,623.16 99.35,633.05"/>
<polygon fill="#bb2207" points="92.89,558.49 95.66,548.48 98.59,538.51 101.7,528.59 104.96,518.72 108.39,508.9 111.99,499.14 115.75,489.44 135.49,497.68 131.86,507.05 128.4,516.48 125.09,525.96 121.94,535.5 118.95,545.08 116.12,554.71 113.45,564.38"/>
<polygon fill="#bc2007" points="115.75,489.44 119.67,479.8 123.75,470.22 127.99,460.71 132.39,451.26 136.95,441.89 141.66,432.59 146.53,423.37 165.18,433.84 160.48,442.75 155.93,451.74 151.54,460.79 147.29,469.91 143.2,479.11 139.27,488.36 135.49,497.68"/>
<polygon fill="#bc1e07" points="145.86,423 150.89,413.85 156.07,404.78 161.41,395.79 166.89,386.9 172.53,378.09 178.31,369.37 184.23,360.75 202.16,373.77 196.45,382.09 190.88,390.5 185.45,399 180.16,407.59 175.02,416.26 170.03,425.01 165.18,433.84"/>
<polygon fill="#bd1c07" points="184.23,360.75 190.3,352.23 196.52,343.81 202.87,335.49 209.37,327.27 216,319.16 222.76,311.16 229.67,303.27 245.96,318.28 239.31,325.89 232.78,333.62 226.39,341.45 220.13,349.38 214,357.41 208.01,365.54 202.16,373.77"/>
<polygon fill="#bd1a06" points="230.23,303.79 237.25,296.02 244.41,288.37 251.69,280.83 259.1,273.42 266.64,266.13 274.29,258.96 282.07,251.92 296.01,268.14 288.5,274.95 281.11,281.88 273.84,288.93 266.68,296.09 259.65,303.37 252.74,310.77 245.96,318.28"/>
<polygon fill="#bd1706" points="282.07,251.92 289.96,245.01 297.98,238.23 306.1,231.58 314.34,225.06 322.68,218.68 331.14,212.44 339.7,206.34 351.66,224.07 343.4,229.97 335.23,236 327.17,242.17 319.22,248.47 311.37,254.9 303.64,261.46 296.01,268.14"/>
<polygon fill="#be1506" points="340.13,206.97 348.78,201.02 357.53,195.21 366.38,189.54 375.32,184.02 384.36,178.65 393.49,173.43 402.71,168.36 412.18,186.68 403.27,191.59 394.44,196.65 385.7,201.85 377.05,207.19 368.49,212.68 360.03,218.3 351.66,224.07"/>
<polygon fill="#be1406" points="402.71,168.36 412.01,163.44 421.4,158.67 430.86,154.07 440.41,149.61 450.03,145.32 459.72,141.18 469.48,137.21 476.77,156.5 467.33,160.35 457.95,164.36 448.65,168.52 439.41,172.83 430.26,177.3 421.18,181.91 412.18,186.68"/>
<polygon fill="#be1406" points="469.21,136.49 479.06,132.68 488.97,129.02 498.94,125.53 508.96,122.21 519.05,119.05 529.19,116.06 539.38,113.24 544.56,133.99 534.72,136.72 524.92,139.62 515.17,142.68 505.48,145.9 495.85,149.27 486.28,152.81 476.77,156.5"/>
<polygon fill="#be1406" points="539.38,113.24 549.62,110.58 559.91,108.1 570.24,105.79 580.61,103.65 591.01,101.68 601.45,99.88 611.92,98.26 614.66,119.47 604.54,121.04 594.45,122.79 584.4,124.7 574.38,126.77 564.4,129.01 554.46,131.42 544.56,133.99"/>
</g>
<polyline fill="none" stroke="#b4b4b4" stroke-width="1" points="531.16,489.99 535.28,487.03 539.45,484.15 543.67,481.33 547.95,478.59 552.28,475.92 556.65,473.33 561.07,470.81 565.54,468.37 570.05,466 574.61,463.71 579.21,461.5 583.85,459.37 588.53,457.32 593.25,455.35 598,453.46 602.79,451.66 607.62,449.93 612.48,448.29 617.36,446.74 622.28,445.27 627.23,443.88 632.2,442.58 637.2,441.37 642.22,440.24 647.26,439.2 652.33,438.25 657.41,437.39 662.51,436.61 667.63,435.93 672.76,435.33 677.9,434.82 683.06,434.4 688.23,434.07 693.4,433.84 698.58,433.69 703.77,433.63 708.95,433.67 714.15,433.79 719.34,434.01 724.53,434.31 729.72,434.71 734.9,435.2 740.08,435.78 745.25,436.45 750.41,437.21 755.56,438.06 760.69,439 765.82,440.03 770.92,441.15 776.01,442.36 781.09,443.66 786.14,445.06 791.17,446.54 796.17,448.1 801.15,449.76 806.11,451.5 811.04,453.34 815.93,455.26 820.8,457.26 825.63,459.35 830.43,461.53 835.19,463.79 839.92,466.14 844.6,468.57 849.25,471.08 853.86,473.68 858.42,476.35 862.93,479.11 867.41,481.95 871.83,484.87 876.2,487.87 880.53,490.94 884.8,494.09 889.02,497.32 893.18,500.63 897.29,504 901.34,507.46 905.34,510.98 909.27,514.57 913.15,518.24 916.96,521.98 920.7,525.78 924.39,529.65 928,533.59 931.55,537.59 935.03,541.66 938.44,545.79 941.78,549.98 945.05,554.23 948.25,558.54 951.37,562.9 954.42,567.33 957.39,571.81 960.29,576.34 963.1,580.93 965.84,585.57 968.5,590.26 971.08,594.99 973.57,599.78 975.98,604.61 978.31,609.48 980.56,614.4 982.72,619.36 984.8,624.36 986.78,629.4 988.69,634.47 990.5,639.58 992.22,644.72 993.86,649.9 995.41,655.11 996.86,660.35 998.23,665.61 999.5,670.9 1000.68,676.22 1001.77,681.56 1002.77,686.92 1003.67,692.3 1004.48,697.7 1005.19,703.11 1005.82,708.55 1006.34,713.99 1006.77,719.44 1007.11,724.91 1007.35,730.38 1007.5,735.86 1007.54,741.35 1007.5,746.84 1007.36,752.33 1007.12,757.82 1006.78,763.31 1006.35,768.8 1005.82,774.28 1005.2,779.75 1004.48,785.22 1003.67,790.67 1002.76,796.11 1001.75,801.54 1000.65,806.96 999.45,812.36 998.16,817.74 996.78,823.1 995.3,828.43 993.72,833.75 992.05,839.04 990.29,844.3 988.44,849.53 986.49,854.74 984.45,859.91 982.32,865.05 980.1,870.15 977.79,875.22 975.39,880.25 972.9,885.24 970.32,890.18 967.66,895.09 964.91,899.95 962.07,904.77 959.14,909.53 956.14,914.25 953.04,918.92 949.87,923.53 946.61,928.1 943.27,932.6 939.85,937.05 936.36,941.45 932.78,945.78 929.13,950.06 925.4,954.27 921.59,958.41 917.71,962.5 913.76,966.52 909.73,970.47 905.64,974.35 901.47,978.16 897.24,981.9 892.94,985.57 888.57,989.16 884.14,992.68 879.64,996.12 875.09,999.49 870.47,1002.78 865.79,1005.99 861.06,1009.11 856.26,1012.16 851.42,1015.13 846.51,1018.01 841.56,1020.8 836.55,1023.52 831.5,1026.14 826.4,1028.68 821.25,1031.13 816.05,1033.49 810.82,1035.76 805.54,1037.94 800.22,1040.03 794.86,1042.03 789.46,1043.93 784.03,1045.74 778.56,1047.46 773.06,1049.08 767.53,1050.6 761.98,1052.03 756.39,1053.37 750.78,1054.6 745.15,1055.74 739.49,1056.78 733.81,1057.73 728.11,1058.57 722.4,1059.31 716.67,1059.96 710.93,1060.5 705.17,1060.95 699.41,1061.29 693.63,1061.54 687.85,1061.68 682.07,1061.72 676.28,1061.66 670.49,1061.5 664.7,1061.24 658.91,1060.88 653.13,1060.41 647.35,1059.85 641.58,1059.18 635.82,1058.41 630.07,1057.54 624.33,1056.57 618.61,1055.5 612.9,1054.33 607.21,1053.06 601.54,1051.69 595.89,1050.22 590.27,1048.65 584.67,1046.98 579.1,1045.21 573.56,1043.34 568.04,1041.38 562.56,1039.32 557.12,1037.16 551.7,1034.91 546.33,1032.56 540.99,1030.11 535.7,1027.57 530.44,1024.94 525.24,1022.22 520.07,1019.4 514.96,1016.49 509.89,1013.49 504.87,1010.4 499.9,1007.22 494.99,1003.96 490.14,1000.6 485.33,997.16 480.59,993.64 475.91,990.03 471.29,986.34 466.73,982.56 462.23,978.71 457.81,974.77 453.44,970.75 449.15,966.66 444.93,962.49 440.77,958.25 436.69,953.93 432.69,949.53 428.76,945.07 424.9,940.53 421.12,935.93 417.43,931.25 413.81,926.52 410.27,921.71 406.82,916.84 403.45,911.91 400.16,906.92 396.96,901.87 393.85,896.76 390.82,891.6 387.89,886.38 385.04,881.1 382.29,875.78 379.63,870.4 377.06,864.98 374.58,859.51 372.2,853.99 369.91,848.43 367.73,842.83 365.63,837.18 363.64,831.5 361.74,825.78 359.95,820.03 358.25,814.24 356.65,808.42 355.16,802.57 353.76,796.69 352.47,790.78 351.28,784.85 350.2,778.9 349.22,772.92 348.34,766.93 347.56,760.91 346.9,754.89 346.33,748.84 345.87,742.79 345.52,736.72 345.28,730.65 345.14,724.57 345.1,718.48 345.17,712.39 345.35,706.3 345.64,700.22 346.03,694.13 346.53,688.05 347.13,681.97 347.84,675.91 348.66,669.85 349.58,663.8 350.61,657.77 351.75,651.76 352.99,645.76 354.33,639.78 355.79,633.82 357.34,627.89 359,621.98 360.77,616.09 362.63,610.24 364.61,604.41 366.68,598.62 368.85,592.86 371.13,587.14 373.51,581.46 375.99,575.81 378.57,570.21 381.24,564.64 384.02,559.13 386.89,553.66 389.86,548.23 392.92,542.86 396.08,537.54 399.34,532.27 402.69,527.06 406.13,521.9 409.66,516.81 413.28,511.77 416.99,506.79 420.79,501.88 424.68,497.03 428.65,492.24 432.71,487.53 436.85,482.88 441.08,478.3 445.39,473.8 449.77,469.37 454.24,465.01 458.79,460.73 463.41,456.53 468.1,452.41 472.87,448.37 477.72,444.41 482.63,440.53 487.61,436.74 492.66,433.03 497.78,429.41 502.96,425.88 508.21,422.44 513.52,419.09 518.89,415.83 524.32,412.66 529.8,409.58 535.35,406.6 540.94,403.72 546.59,400.93 552.29,398.24 558.04,395.65 563.83,393.16 569.68,390.77 575.56,388.48 581.49,386.29 587.46,384.21 593.46,382.23 599.51,380.35 605.59,378.58 611.7,376.91 617.84,375.35 624.02,373.9 630.22,372.55 636.44,371.31 642.69,370.18 648.97,369.16 655.26,368.25 661.57,367.44 667.9,366.75 674.24,366.17 680.59,365.7 686.96,365.34 693.33,365.09 699.71,364.95 706.1,364.92 712.49,365.01 718.88,365.2 725.26,365.51 731.65,365.93 738.03,366.46 744.4,367.11 750.77,367.86 757.12,368.73 763.46,369.71 769.78,370.8 776.09,372 782.38,373.31 788.65,374.73 794.9,376.26 801.12,377.9 807.32,379.65 813.49,381.51 819.62,383.48 825.73,385.55 831.8,387.74 837.84,390.03 843.83,392.42 849.79,394.93 855.71,397.53 861.58,400.24 867.41,403.06 873.19,405.98 878.92,409 884.6,412.12 890.23,415.34 895.8,418.66 901.32,422.08 906.78,425.6 912.18,429.21 917.52,432.92 922.8,436.73 928.01,440.62 933.16,444.61 938.24,448.7 943.24,452.87 948.18,457.13 953.05,461.48 957.84,465.91 962.55,470.43 967.19,475.04 971.75,479.73 976.23,484.5 980.62,489.34 984.94,494.27 989.16,499.28 993.31,504.36 997.36,509.51 1001.33,514.74 1005.21,520.04 1008.99,525.4 1012.69,530.84 1016.28,536.34 1019.79,541.91 1023.2,547.54 1026.51,553.23 1029.72,558.98 1032.84,564.79 1035.85,570.66 1038.76,576.58 1041.57,582.56 1044.28,588.58 1046.88,594.66 1049.37,600.78 1051.76,606.95 1054.05,613.16 1056.22,619.41 1058.29,625.71 1060.25,632.04 1062.1,638.41 1063.83,644.81 1065.46,651.25 1066.97,657.72 1068.37,664.21 1069.66,670.74 1070.84,677.28 1071.9,683.85 1072.84,690.44 1073.68,697.05 1074.39,703.68 1074.99,710.32 1075.48,716.98 1075.85,723.64 1076.1,730.31 1076.23,737 1076.25,743.68 1076.16,750.37 1075.94,757.06 1075.61,763.74 1075.16,770.43 1074.6,777.1 1073.91,783.78 1073.12,790.44 1072.2,797.08 1071.17,803.72 1070.02,810.34 1068.75,816.94 1067.37,823.52 1065.88,830.08 1064.27,836.62 1062.54,843.13 1060.7,849.61 1058.75,856.06 1056.68,862.48 1054.5,868.87 1052.21,875.22 1049.8,881.53 1047.29,887.81 1044.66,894.04 1041.92,900.23 1039.08,906.37 1036.13,912.46 1033.07,918.51 1029.9,924.5 1026.62,930.44 1023.25,936.32 1019.76,942.15 1016.18,947.92 1012.49,953.63 1008.7,959.27 1004.82,964.85 1000.83,970.37 996.74,975.81 992.56,981.19 988.29,986.5 983.92,991.73 979.45,996.89 974.9,1001.97 970.25,1006.98 965.52,1011.9 960.7,1016.75 955.79,1021.51 950.79,1026.18 945.72,1030.78 940.56,1035.28 935.32,1039.7 930,1044.02 924.61,1048.26 919.14,1052.4 913.59,1056.44 907.97,1060.4 902.28,1064.25 896.53,1068.01 890.7,1071.66 884.81,1075.22 878.85,1078.68 872.84,1082.03 866.76,1085.28 860.62,1088.42 854.43,1091.45 848.18,1094.38 841.87,1097.2 835.52,1099.92 829.12,1102.52 822.67,1105.01 816.17,1107.39 809.63,1109.65 803.05,1111.81 796.43,1113.84 789.77,1115.77 783.07,1117.58 776.34,1119.27 769.58,1120.84 762.79,1122.3 755.97,1123.63 749.13,1124.85 742.26,1125.95 735.37,1126.94 728.46,1127.8 721.54,1128.54 714.6,1129.16 707.64,1129.65 700.68,1130.03 693.7,1130.29 686.72,1130.42 679.74,1130.43 672.75,1130.32 665.76,1130.09 658.78,1129.73 651.8,1129.26 644.82,1128.66 637.85,1127.94 630.9,1127.09 623.95,1126.13 617.02,1125.04 610.11,1123.83 603.21,1122.51 596.34,1121.06 589.49,1119.48 582.66,1117.79 575.86,1115.98 569.1,1114.05 562.36,1112 555.66,1109.84 548.99,1107.55 542.36,1105.15 535.77,1102.63 529.22,1100 522.72,1097.25 516.26,1094.38 509.85,1091.4 503.49,1088.31 497.18,1085.11 490.93,1081.79 484.73,1078.37 478.59,1074.83 472.51,1071.19 466.49,1067.44 460.53,1063.58 454.64,1059.62 448.82,1055.55 443.07,1051.39 437.39,1047.11 431.78,1042.74 426.24,1038.27 420.78,1033.7 415.4,1029.04 410.1,1024.28 404.88,1019.42 399.75,1014.47 394.7,1009.43 389.73,1004.3 384.86,999.09 380.07,993.78 375.38,988.39 370.77,982.92 366.26,977.36 361.85,971.73 357.54,966.01 353.32,960.22 349.2,954.35 345.18,948.41 341.27,942.4 337.46,936.31 333.76,930.16 330.16,923.94 326.67,917.66 323.29,911.31 320.01,904.9 316.85,898.44 313.8,891.91 310.87,885.33 308.05,878.7 305.34,872.01 302.75,865.28 300.27,858.5 297.92,851.67 295.68,844.8 293.56,837.89 291.56,830.94 289.68,823.96 287.93,816.94 286.29,809.88 284.78,802.79 283.39,795.68 282.13,788.54 280.99,781.38 279.97,774.19 279.08,766.98 278.32,759.76 277.68,752.52 277.17,745.26 276.79,738 276.53,730.73 276.4,723.45 276.39,716.16 276.51,708.87 276.76,701.59 277.14,694.3 277.65,687.02 278.28,679.75 279.04,672.48 279.93,665.23 280.94,657.99 282.08,650.76 283.35,643.55 284.74,636.37 286.26,629.2 287.91,622.06 289.68,614.95 291.57,607.86 293.59,600.8 295.74,593.78 298.01,586.8 300.4,579.85 302.91,572.94 305.54,566.07 308.29,559.25 311.17,552.47 314.16,545.74 317.27,539.06 320.5,532.44 323.85,525.87 327.31,519.35 330.89,512.89 334.58,506.5 338.38,500.16 342.3,493.89 346.33,487.69 350.46,481.56 354.71,475.49 359.06,469.5 363.52,463.59 368.08,457.74 372.74,451.98 377.51,446.3 382.38,440.7 387.35,435.18 392.41,429.75 397.57,424.4 402.83,419.14 408.18,413.98 413.62,408.9 419.16,403.92 424.78,399.03 430.48,394.24 436.28,389.55 442.15,384.96 448.11,380.47 454.15,376.08 460.27,371.8 466.47,367.62 472.73,363.55 479.08,359.59 485.49,355.74 491.97,351.99 498.52,348.36 505.14,344.85 511.81,341.45 518.55,338.16 525.35,334.99 532.21,331.94 539.12,329.01 546.09,326.19 553.1,323.5 560.17,320.93 567.28,318.49 574.44,316.16 581.64,313.96 588.88,311.89 596.16,309.94 603.47,308.12 610.82,306.43 618.2,304.86 625.61,303.42 633.05,302.11 640.51,300.93 647.99,299.88 655.5,298.96 663.02,298.18 670.56,297.52 678.11,296.99 685.68,296.6 693.25,296.34 700.83,296.21 708.42,296.21 716,296.35 723.59,296.62 731.18,297.02 738.75,297.55 746.33,298.22 753.89,299.02 761.44,299.95 768.98,301.01 776.5,302.21 784,303.53 791.48,304.99 798.94,306.58 806.37,308.3 813.77,310.15 821.14,312.13 828.49,314.24 835.79,316.48 843.06,318.85 850.29,321.34 857.48,323.96 864.62,326.71 871.72,329.58 878.77,332.58 885.77,335.71 892.72,338.95 899.61,342.32 906.45,345.81 913.22,349.42 919.94,353.15 926.59,356.99 933.18,360.96 939.7,365.04 946.15,369.23 952.53,373.54 958.83,377.97 965.06,382.5 971.21,387.14 977.29,391.9 983.28,396.76 989.19,401.72 995.01,406.79 1000.74,411.97 1006.39,417.24 1011.95,422.62 1017.41,428.09 1022.78,433.66 1028.06,439.33 1033.23,445.09 1038.31,450.94 1043.29,456.89 1048.16,462.92 1052.93,469.03 1057.6,475.24 1062.15,481.52 1066.6,487.89 1070.94,494.34 1075.17,500.86 1079.29,507.46 1083.29,514.14 1087.17,520.88 1090.94,527.7 1094.59,534.58 1098.12,541.53 1101.53,548.54 1104.82,555.62 1107.99,562.75 1111.03,569.94 1113.95,577.19 1116.74,584.49 1119.41,591.84 1121.94,599.23 1124.35,606.68 1126.63,614.17 1128.78,621.7 1130.8,629.27 1132.69,636.87 1134.44,644.52 1136.06,652.19 1137.55,659.9 1138.9,667.63 1140.12,675.39 1141.21,683.17 1142.16,690.98 1142.97,698.8 1143.64,706.64 1144.18,714.49 1144.58,722.36 1144.85,730.23 1144.97,738.11 1144.96,745.99 1144.82,753.88 1144.53,761.77 1144.1,769.65 1143.54,777.53 1142.84,785.4 1142.01,793.26 1141.03,801.11 1139.92,808.94 1138.67,816.75 1137.28,824.55 1135.76,832.32 1134.1,840.07 1132.31,847.79 1130.38,855.49 1128.31,863.15 1126.11,870.77 1123.78,878.37 1121.31,885.92 1118.71,893.43 1115.98,900.9 1113.12,908.32 1110.13,915.69 1107,923.01 1103.75,930.29 1100.37,937.5 1096.87,944.66 1093.24,951.76 1089.48,958.8 1085.6,965.77 1081.59,972.68 1077.47,979.52 1073.22,986.29 1068.86,992.99 1064.37,999.61 1059.77,1006.16 1055.06,1012.62 1050.23,1019.01 1045.28,1025.32 1040.23,1031.54 1035.07,1037.67 1029.79,1043.71 1024.41,1049.67 1018.93,1055.53 1013.34,1061.3 1007.65,1066.97 1001.85,1072.54 995.96,1078.01 989.98,1083.38 983.89,1088.65 977.71,1093.82 971.45,1098.87 965.09,1103.82 958.64,1108.66 952.11,1113.39 945.49,1118.01 938.79,1122.51 932.01,1126.89 925.15,1131.16 918.22,1135.31 911.21,1139.34 904.12,1143.24 896.97,1147.03 889.75,1150.69 882.47,1154.22 875.12,1157.63 867.71,1160.91 860.24,1164.07 852.71,1167.09 845.13,1169.98 837.5,1172.74 829.81,1175.37 822.08,1177.87 814.3,1180.23 806.48,1182.45 798.62,1184.54 790.72,1186.49 782.79,1188.31 774.82,1189.99 766.81,1191.52 758.78,1192.92 750.73,1194.18 742.65,1195.3 734.54,1196.28 726.42,1197.11 718.28,1197.81 710.13,1198.36 701.97,1198.77 693.79,1199.03 685.61,1199.16 677.43,1199.14 669.24,1198.98 661.06,1198.68 652.88,1198.23 644.7,1197.64 636.53,1196.91 628.37,1196.03 620.23,1195.01 612.1,1193.85 603.99,1192.55 595.9,1191.1 587.83,1189.51 579.79,1187.78 571.78,1185.91 563.8,1183.9 555.85,1181.75 547.94,1179.46 540.06,1177.04 532.23,1174.47 524.43,1171.77 516.69,1168.93 508.99,1165.95 501.34,1162.84 493.74,1159.59 486.2,1156.21 478.72,1152.7 471.29,1149.05 463.93,1145.28 456.63,1141.38 449.4,1137.34 442.23,1133.18 435.14,1128.9 428.12,1124.49 421.17,1119.95 414.31,1115.29 407.52,1110.51 400.81,1105.62 394.19,1100.6 387.66,1095.47 381.21,1090.22 374.85,1084.85 368.58,1079.38 362.41,1073.79 356.34,1068.1 350.36,1062.29 344.48,1056.39 338.7,1050.37 333.03,1044.26 327.46,1038.04 322,1031.73 316.65,1025.32 311.41,1018.81 306.29,1012.21 301.27,1005.52 296.37,998.74 291.59,991.87 286.93,984.92 282.39,977.88 277.97,970.77 273.67,963.57 269.5,956.3 265.45,948.95 261.54,941.53 257.75,934.04 254.08,926.48 250.56,918.86 247.16,911.17 243.9,903.42 240.77,895.61 237.77,887.75 234.92,879.83 232.2,871.86 229.62,863.84 227.18,855.78 224.88,847.67 222.72,839.51 220.7,831.32 218.82,823.09 217.09,814.82 215.51,806.53 214.06,798.2 212.76,789.85 211.61,781.47 210.61,773.07 209.75,764.65 209.03,756.21 208.47,747.76 208.05,739.29 207.78,730.82 207.66,722.34 207.68,713.85 207.85,705.37 208.18,696.88 208.65,688.4 209.27,679.93 210.03,671.46 210.95,663.01 212.01,654.56 213.22,646.14 214.58,637.73 216.08,629.35 217.74,620.99 219.53,612.66 221.48,604.36 223.57,596.09 225.8,587.85 228.18,579.65 230.7,571.49 233.37,563.37 236.18,555.3 239.13,547.27 242.22,539.3 245.45,531.37 248.82,523.5 252.33,515.69 255.98,507.94 259.76,500.25 263.68,492.62 267.73,485.06 271.91,477.57 276.23,470.15 280.68,462.8 285.25,455.53 289.96,448.34 294.79,441.22 299.74,434.2 304.82,427.25 310.03,420.39 315.35,413.63 320.8,406.95 326.36,400.37 332.03,393.88 337.83,387.49 343.73,381.2 349.75,375.01 355.87,368.93 362.11,362.95 368.45,357.08 374.89,351.31 381.44,345.66 388.08,340.13 394.83,334.7 401.67,329.4 408.6,324.21 415.63,319.14 422.75,314.19 429.95,309.37 437.24,304.67 444.62,300.1 452.08,295.65 459.61,291.34 467.23,287.15 474.91,283.1 482.67,279.18 490.5,275.39 498.4,271.74 506.37,268.23 514.39,264.86 522.48,261.62 530.63,258.53 538.83,255.58 547.09,252.77 555.4,250.1 563.75,247.58 572.15,245.21 580.6,242.98 589.08,240.89 597.61,238.96 606.17,237.17 614.76,235.53 623.38,234.05 632.03,232.71 640.71,231.52 649.41,230.49 658.13,229.6 666.87,228.87 675.62,228.29 684.38,227.86 693.16,227.59 701.94,227.47 710.72,227.5 719.51,227.69 728.29,228.03 737.07,228.52 745.84,229.17 754.61,229.97 763.36,230.92 772.1,232.03 780.82,233.29 789.52,234.7 798.2,236.27 806.85,237.98 815.47,239.85 824.07,241.87 832.63,244.04 841.15,246.36 849.64,248.83 858.08,251.45 866.48,254.21 874.84,257.12 883.14,260.18 891.4,263.39 899.59,266.74 907.74,270.23 915.82,273.87 923.84,277.65 931.8,281.57 939.69,285.63 947.51,289.83 955.26,294.17 962.94,298.64 970.54,303.25 978.06,307.99 985.5,312.86 992.86,317.87 1000.13,323 1007.31,328.26 1014.4,333.65 1021.4,339.17 1028.31,344.81 1035.11,350.57 1041.82,356.45 1048.43,362.44 1054.93,368.56 1061.33,374.79 1067.62,381.13 1073.81,387.59 1079.88,394.15 1085.83,400.82 1091.68,407.6 1097.4,414.48 1103.01,421.46 1108.49,428.54 1113.86,435.72 1119.09,443 1124.21,450.36 1129.19,457.82 1134.05,465.37 1138.77,473 1143.37,480.72 1147.83,488.52 1152.15,496.4 1156.34,504.35 1160.39,512.39 1164.3,520.49 1168.07,528.66 1171.69,536.9 1175.18,545.21 1178.52,553.58 1181.71,562.01 1184.76,570.5 1187.66,579.04 1190.41,587.63 1193.01,596.28 1195.46,604.97 1197.76,613.7 1199.91,622.48 1201.91,631.3 1203.75,640.16 1205.44,649.04 1206.97,657.96 1208.35,666.91 1209.57,675.89 1210.63,684.89 1211.54,693.9 1212.29,702.94 1212.88,711.99 1213.32,721.06 1213.6,730.13 1213.71,739.21 1213.67,748.29 1213.48,757.38 1213.12,766.46 1212.6,775.54 1211.93,784.61 1211.09,793.68 1210.1,802.73 1208.95,811.76 1207.64,820.78 1206.17,829.77 1204.55,838.74 1202.77,847.69 1200.83,856.61 1198.74,865.49 1196.49,874.34 1194.09,883.15 1191.53,891.92 1188.81,900.65 1185.95,909.34 1182.93,917.97 1179.76,926.56 1176.44,935.09 1172.97,943.56 1169.35,951.98 1165.59,960.33 1161.68,968.62 1157.62,976.85 1153.41,985 1149.07,993.08 1144.58,1001.09 1139.95,1009.02 1135.18,1016.88 1130.28,1024.65 1125.23,1032.34 1120.05,1039.94 1114.74,1047.45 1109.3,1054.87 1103.72,1062.2 1098.01,1069.43 1092.18,1076.56 1086.22,1083.59 1080.14,1090.52 1073.94,1097.35 1067.61,1104.07 1061.17,1110.68 1054.61,1117.18 1047.93,1123.56 1041.14,1129.83 1034.24,1135.98 1027.24,1142.02 1020.12,1147.93 1012.9,1153.72 1005.58,1159.38 998.16,1164.92 990.64,1170.33 983.02,1175.61 975.31,1180.75 967.51,1185.77 959.61,1190.64 951.64,1195.39 943.57,1199.99 935.43,1204.45 927.2,1208.77 918.9,1212.95 910.53,1216.99 902.08,1220.88 893.56,1224.62 884.97,1228.21 876.32,1231.66 867.61,1234.95 858.84,1238.1 850.01,1241.09 841.13,1243.92 832.2,1246.61 823.22,1249.13 814.19,1251.51 805.12,1253.72 796.01,1255.77 786.86,1257.67 777.67,1259.41 768.46,1260.99 759.21,1262.4 749.94,1263.66 740.64,1264.75 731.32,1265.68 721.99,1266.45 712.64,1267.06 703.27,1267.5 693.9,1267.78 684.52,1267.9 675.13,1267.85 665.75,1267.64 656.37,1267.26 646.99,1266.72 637.62,1266.02 628.26,1265.15 618.91,1264.12 609.58,1262.93 600.27,1261.57 590.98,1260.05 581.71,1258.37 572.47,1256.52 563.26,1254.52 554.09,1252.35 544.95,1250.02 535.85,1247.53 526.79,1244.88 517.78,1242.07 508.81,1239.11 499.9,1235.99 491.03,1232.71 482.22,1229.27 473.47,1225.69 464.79,1221.94 456.16,1218.05 447.6,1214 439.11,1209.81 430.69,1205.46 422.35,1200.97 414.08,1196.33 405.89,1191.54 397.79,1186.61 389.76,1181.54 381.83,1176.33 373.98,1170.97 366.23,1165.48 358.57,1159.86 351.01,1154.09 343.55,1148.2 336.18,1142.17 328.93,1136.02 321.77,1129.73 314.73,1123.32 307.8,1116.79 300.98,1110.13 294.27,1103.35 287.69,1096.45 281.22,1089.44 274.87,1082.31 268.64,1075.08 262.55,1067.73 256.57,1060.27 250.73,1052.71 245.02,1045.04 239.44,1037.27 233.99,1029.4 228.69,1021.44 223.52,1013.38 218.48,1005.23 213.6,996.99 208.85,988.67 204.25,980.26 199.79,971.76 195.48,963.19 191.32,954.54 187.31,945.82 183.46,937.02 179.75,928.16 176.2,919.23 172.81,910.24 169.57,901.18 166.49,892.07 163.56,882.9 160.8,873.67 158.2,864.4 155.75,855.08 153.48,845.72 151.36,836.31 149.41,826.87 147.62,817.39 146,807.88 144.54,798.33 143.25,788.76 142.13,779.17 141.17,769.55 140.38,759.91 139.76,750.26 139.31,740.6 139.03,730.93 138.92,721.25 138.97,711.56 139.19,701.88 139.59,692.2 140.15,682.52 140.88,672.85 141.78,663.19 142.85,653.55 144.09,643.92 145.5,634.31 147.07,624.72 148.81,615.16 150.72,605.63 152.8,596.13 155.04,586.67 157.45,577.24 160.03,567.85 162.76,558.51 165.67,549.21 168.73,539.96 171.96,530.76 175.35,521.62 178.89,512.54 182.6,503.51 186.47,494.55 190.49,485.65 194.67,476.82 199.01,468.07 203.49,459.38 208.13,450.78 212.93,442.25 217.87,433.81 222.96,425.45 228.19,417.18 233.58,408.99 239.1,400.9 244.77,392.91 250.58,385.01 256.53,377.22 262.62,369.52 268.84,361.93 275.19,354.45 281.68,347.07 288.3,339.81 295.04,332.67 301.91,325.64 308.91,318.72 316.02,311.93 323.26,305.26 330.62,298.72 338.09,292.31 345.67,286.02 353.36,279.86 361.17,273.84 369.08,267.96 377.09,262.21 385.21,256.6 393.43,251.13 401.74,245.8 410.15,240.61 418.65,235.58 427.24,230.69 435.91,225.95 444.68,221.36 453.52,216.92 462.44,212.63 471.44,208.5 480.51,204.53 489.65,200.72 498.86,197.06 508.14,193.56 517.48,190.23 526.88,187.06 536.34,184.05 545.85,181.2 555.41,178.53 565.02,176.01 574.68,173.67 584.38,171.49 594.12,169.49 603.89,167.65 613.7,165.98 623.54,164.49 633.41,163.16 643.31,162.01 653.22,161.03 663.16,160.22 673.11,159.59 683.07,159.13 693.04,158.84 703.02,158.73 713.01,158.79 722.99,159.03 732.97,159.44 742.95,160.03 752.92,160.79 762.87,161.72 772.82,162.83 782.74,164.11 792.65,165.57 802.53,167.2 812.38,169 822.2,170.97 832,173.12 841.75,175.43 851.47,177.92 861.14,180.58 870.77,183.41 880.36,186.41 889.89,189.57 899.37,192.9 908.79,196.4 918.15,200.06 927.45,203.89 936.69,207.88 945.86,212.03 954.95,216.34 963.98,220.82 972.92,225.45 981.79,230.23 990.57,235.18 999.27,240.28 1007.89,245.53 1016.41,250.93 1024.84,256.48 1033.17,262.18 1041.41,268.03 1049.55,274.02 1057.58,280.15 1065.5,286.43 1073.32,292.85 1081.03,299.4 1088.63,306.09 1096.1,312.91 1103.47,319.87 1110.71,326.95 1117.83,334.16 1124.82,341.5 1131.69,348.96 1138.43,356.54 1145.03,364.25 1151.51,372.06 1157.84,380 1164.04,388.04 1170.11,396.2 1176.03,404.46 1181.8,412.82 1187.43,421.29 1192.92,429.86 1198.25,438.53 1203.44,447.29 1208.47,456.14 1213.35,465.08 1218.08,474.11 1222.65,483.23 1227.05,492.42 1231.3,501.69 1235.39,511.04 1239.32,520.47 1243.08,529.96 1246.68,539.52 1250.11,549.14 1253.37,558.83 1256.46,568.57 1259.39,578.37 1262.14,588.22 1264.73,598.13 1267.14,608.08 1269.37,618.07 1271.43,628.1 1273.32,638.17 1275.03,648.28 1276.57,658.42 1277.93,668.59 1279.11,678.78 1280.11,688.99 1280.94,699.23 1281.59,709.48 1282.06,719.74 1282.34,730.01 1282.45,740.29 1282.38,750.58 1282.14,760.86 1281.71,771.14 1281.1,781.42 1280.31,791.68 1279.34,801.94 1278.2,812.18 1276.87,822.4 1275.36,832.6 1273.68,842.78 1271.82,852.92 1269.78,863.04 1267.57,873.12 1265.17,883.17 1262.61,893.18 1259.86,903.14 1256.95,913.06 1253.86,922.92 1250.59,932.74 1247.16,942.5 1243.55,952.2 1239.77,961.84 1235.83,971.42 1231.71,980.92 1227.43,990.36 1222.98,999.73 1218.37,1009.02 1213.6,1018.23 1208.67,1027.36 1203.57,1036.4 1198.32,1045.36 1192.9,1054.22 1187.34,1062.99 1181.62,1071.67 1175.74,1080.25 1169.72,1088.73 1163.54,1097.1 1157.22,1105.37 1150.76,1113.53 1144.15,1121.57 1137.39,1129.51 1130.5,1137.32 1123.47,1145.02 1116.31,1152.6 1109.01,1160.05 1101.58,1167.37 1094.02,1174.57 1086.34,1181.64 1078.53,1188.57 1070.59,1195.37 1062.54,1202.03 1054.37,1208.55 1046.09,1214.93 1037.69,1221.17 1029.18,1227.26 1020.56,1233.2 1011.84,1238.99 1003.02,1244.63 994.09,1250.12 985.07,1255.46 975.95,1260.63 966.75,1265.65 957.45,1270.51 948.07,1275.21 938.6,1279.74 929.05,1284.11 919.42,1288.32 909.72,1292.35 899.95,1296.22 890.11,1299.92 880.2,1303.44 870.23,1306.8 860.2,1309.98 850.11,1312.98 839.96,1315.81 829.77,1318.46 819.53,1320.94 809.24,1323.24 798.91,1325.35 788.55,1327.29 778.14,1329.05 767.71,1330.62 757.24,1332.02 746.75,1333.23 736.24,1334.26 725.7,1335.1 715.16,1335.76 704.59,1336.24 694.02,1336.53 683.44,1336.64 672.86,1336.56 662.27,1336.3 651.69,1335.85 641.12,1335.22 630.55,1334.41 620,1333.41 609.46,1332.22 598.94,1330.85 588.45,1329.3 577.98,1327.56 567.53,1325.64 557.12,1323.54 546.75,1321.25 536.41,1318.78 526.12,1316.14 515.87,1313.31 505.66,1310.3 495.51,1307.12 485.41,1303.75 475.37,1300.21 465.39,1296.5 455.47,1292.6 445.62,1288.54 435.84,1284.3 426.13,1279.89 416.5,1275.31 406.94,1270.56 397.47,1265.65 388.08,1260.57 378.78,1255.32 369.56,1249.91 360.44,1244.34 351.42,1238.6 342.5,1232.71 333.67,1226.66 324.95,1220.46 316.34,1214.11 307.84,1207.6 299.45,1200.94 291.17,1194.14 283.02,1187.19 274.98,1180.09 267.06,1172.86 259.27,1165.48 251.61,1157.97 244.08,1150.33 236.68,1142.55 229.41,1134.64 222.28,1126.6 215.29,1118.44 208.45,1110.15 201.74,1101.74 195.18,1093.21 188.77,1084.57 182.51,1075.82 176.4,1066.95 170.45,1057.98 164.65,1048.9 159.01,1039.71 153.53,1030.43 148.21,1021.05 143.05,1011.58 138.05,1002.01 133.23,992.36 128.57,982.62 124.08,972.8 119.76,962.89 115.61,952.91 111.64,942.86 107.84,932.73 104.22,922.54 100.78,912.28 97.51,901.97 94.42,891.59 91.52,881.15 88.8,870.67 86.25,860.13 83.9,849.55 81.72,838.93 79.74,828.27 77.94,817.57 76.32,806.83 74.89,796.07 73.65,785.28 72.6,774.47 71.74,763.64 71.06,752.79 70.58,741.92 70.28,731.05 70.18,720.17 70.26,709.29 70.53,698.41 71,687.53 71.65,676.65 72.5,665.79 73.53,654.94 74.76,644.1 76.17,633.29 77.77,622.49 79.56,611.73 81.54,600.99 83.71,590.29 86.06,579.62 88.61,569 91.33,558.41 94.24,547.87 97.34,537.38 100.62,526.95 104.09,516.57 107.73,506.24 111.56,495.98 115.56,485.79 119.75,475.66 124.11,465.61 128.65,455.63 133.36,445.72 138.24,435.9 143.3,426.16 148.53,416.51 153.93,406.95 159.5,397.48 165.23,388.11 171.13,378.84 177.19,369.67 183.41,360.6 189.79,351.64 196.33,342.79 203.02,334.05 209.87,325.43 216.87,316.92 224.02,308.54 231.31,300.28 238.75,292.15 246.34,284.14 254.06,276.27 261.93,268.53 269.93,260.93 278.06,253.46 286.33,246.14 294.72,238.96 303.24,231.92 311.89,225.04 320.66,218.3 329.54,211.71 338.55,205.28 347.66,199.01 356.89,192.89 366.22,186.93 375.66,181.14 385.21,175.51 394.85,170.05 404.59,164.75 414.42,159.62 424.35,154.67 434.36,149.88 444.46,145.27 454.64,140.84 464.9,136.58 475.23,132.5 485.64,128.6 496.12,124.89 506.66,121.35 517.27,118 527.93,114.83 538.66,111.85 549.43,109.06 560.26,106.45 571.13,104.03 582.05,101.8 593.01,99.77"/>
<polyline fill="none" stroke="#b4b4b4" stroke-width="1" points="518.34,471 522.79,467.82 527.3,464.72 531.86,461.69 536.48,458.75 541.16,455.88 545.88,453.1 550.66,450.39 555.49,447.77 560.36,445.23 565.28,442.78 570.25,440.41 575.26,438.13 580.31,435.93 585.4,433.82 590.54,431.8 595.71,429.86 600.91,428.02 606.15,426.27 611.43,424.6 616.73,423.03 622.06,421.55 627.43,420.17 632.82,418.87 638.23,417.67 643.67,416.57 649.13,415.56 654.61,414.64 660.11,413.82 665.62,413.1 671.15,412.47 676.7,411.94 682.25,411.5 687.82,411.16 693.39,410.92 698.97,410.78 704.56,410.73 710.15,410.78 715.74,410.93 721.33,411.18 726.92,411.52 732.5,411.96 738.08,412.5 743.65,413.14 749.22,413.88 754.77,414.71 760.31,415.64 765.84,416.67 771.35,417.79 776.85,419.01 782.32,420.33 787.78,421.75 793.21,423.26 798.62,424.86 804,426.57 809.36,428.36 814.69,430.25 819.98,432.24 825.25,434.32 830.48,436.49 835.67,438.75 840.83,441.11 845.94,443.55 851.02,446.09 856.06,448.72 861.05,451.43 865.99,454.24 870.89,457.13 875.74,460.11 880.54,463.17 885.29,466.33 889.99,469.56 894.63,472.88 899.22,476.28 903.74,479.76 908.21,483.33 912.62,486.97 916.97,490.69 921.25,494.49 925.47,498.36 929.62,502.32 933.71,506.34 937.73,510.44 941.68,514.61 945.55,518.85 949.35,523.16 953.08,527.54 956.74,531.99 960.32,536.5 963.82,541.08 967.24,545.72 970.59,550.42 973.85,555.18 977.03,560 980.13,564.88 983.14,569.81 986.07,574.8 988.91,579.85 991.67,584.94 994.34,590.09 996.92,595.28 999.41,600.52 1001.8,605.81 1004.11,611.14 1006.33,616.51 1008.45,621.93 1010.48,627.38 1012.41,632.87 1014.25,638.4 1015.99,643.96 1017.64,649.56 1019.19,655.18 1020.64,660.84 1021.99,666.52 1023.25,672.23 1024.4,677.97 1025.46,683.72 1026.41,689.5 1027.27,695.3 1028.02,701.11 1028.68,706.94 1029.23,712.78 1029.68,718.64 1030.02,724.5 1030.27,730.38 1030.41,736.26 1030.45,742.14 1030.38,748.03 1030.22,753.92 1029.95,759.81 1029.57,765.7 1029.1,771.58 1028.52,777.46 1027.84,783.33 1027.05,789.19 1026.17,795.03 1025.18,800.87 1024.08,806.69 1022.89,812.49 1021.59,818.28 1020.19,824.05 1018.69,829.79 1017.09,835.51 1015.39,841.2 1013.59,846.87 1011.69,852.5 1009.69,858.11 1007.59,863.68 1005.39,869.22 1003.1,874.72 1000.7,880.19 998.21,885.61 995.63,891 992.95,896.34 990.17,901.64 987.31,906.89 984.35,912.09 981.29,917.24 978.15,922.34 974.91,927.39 971.59,932.38 968.18,937.32 964.68,942.2 961.09,947.02 957.41,951.78 953.66,956.48 949.82,961.11 945.89,965.68 941.89,970.18 937.8,974.61 933.64,978.98 929.39,983.27 925.07,987.49 920.68,991.64 916.21,995.71 911.67,999.7 907.05,1003.62 902.37,1007.46 897.62,1011.21 892.8,1014.89 887.91,1018.48 882.96,1021.99 877.94,1025.42 872.87,1028.75 867.73,1032 862.53,1035.17 857.28,1038.24 851.97,1041.22 846.61,1044.11 841.19,1046.91 835.73,1049.61 830.21,1052.22 824.65,1054.73 819.04,1057.15 813.38,1059.47 807.68,1061.69 801.95,1063.82 796.17,1065.84 790.35,1067.77 784.5,1069.59 778.62,1071.31 772.7,1072.93 766.75,1074.45 760.77,1075.86 754.77,1077.17 748.74,1078.38 742.69,1079.48 736.61,1080.47 730.52,1081.36 724.41,1082.14 718.28,1082.82 712.13,1083.39 705.98,1083.85 699.81,1084.21 693.64,1084.45 687.46,1084.59 681.27,1084.62 675.09,1084.55 668.9,1084.36 662.71,1084.07 656.52,1083.67 650.34,1083.16 644.17,1082.54 638,1081.82 631.85,1080.98 625.7,1080.04 619.57,1078.99 613.46,1077.83 607.36,1076.57 601.29,1075.2 595.23,1073.72 589.2,1072.13 583.2,1070.44 577.22,1068.65 571.27,1066.75 565.35,1064.74 559.47,1062.63 553.62,1060.42 547.8,1058.1 542.03,1055.68 536.29,1053.16 530.6,1050.54 524.95,1047.81 519.34,1044.99 513.79,1042.07 508.28,1039.05 502.82,1035.93 497.41,1032.72 492.06,1029.41 486.77,1026 481.53,1022.5 476.35,1018.91 471.23,1015.23 466.18,1011.46 461.19,1007.59 456.26,1003.64 451.4,999.6 446.61,995.47 441.89,991.26 437.25,986.97 432.67,982.59 428.17,978.13 423.75,973.59 419.4,968.97 415.14,964.27 410.95,959.5 406.85,954.65 402.83,949.73 398.89,944.73 395.04,939.67 391.28,934.53 387.6,929.33 384.02,924.07 380.52,918.73 377.12,913.34 373.81,907.88 370.59,902.36 367.47,896.79 364.45,891.16 361.52,885.47 358.7,879.73 355.97,873.94 353.34,868.1 350.81,862.21 348.38,856.28 346.06,850.3 343.84,844.27 341.73,838.21 339.72,832.11 337.81,825.97 336.02,819.79 334.33,813.58 332.74,807.34 331.27,801.07 329.91,794.77 328.65,788.44 327.51,782.1 326.47,775.72 325.55,769.33 324.74,762.92 324.04,756.49 323.45,750.05 322.97,743.6 322.61,737.13 322.36,730.66 322.22,724.18 322.2,717.69 322.29,711.2 322.49,704.72 322.81,698.23 323.24,691.74 323.78,685.26 324.44,678.79 325.21,672.33 326.09,665.88 327.09,659.44 328.19,653.02 329.42,646.61 330.75,640.22 332.2,633.86 333.75,627.51 335.42,621.19 337.2,614.9 339.1,608.64 341.1,602.41 343.21,596.21 345.43,590.05 347.76,583.92 350.19,577.83 352.74,571.78 355.39,565.77 358.14,559.81 361,553.89 363.97,548.03 367.04,542.21 370.21,536.44 373.48,530.73 376.86,525.07 380.33,519.47 383.91,513.92 387.58,508.44 391.35,503.02 395.22,497.67 399.18,492.38 403.23,487.15 407.38,482 411.62,476.92 415.95,471.9 420.36,466.97 424.87,462.11 429.46,457.32 434.14,452.61 438.9,447.99 443.74,443.44 448.67,438.98 453.67,434.61 458.76,430.32 463.92,426.11 469.15,422 474.46,417.97 479.84,414.04 485.29,410.2 490.81,406.45 496.4,402.8 502.05,399.24 507.77,395.79 513.55,392.43 519.39,389.17 525.29,386.01 531.25,382.95 537.26,380 543.33,377.15 549.44,374.41 555.61,371.77 561.83,369.24 568.09,366.82 574.4,364.5 580.75,362.3 587.14,360.2 593.57,358.22 600.03,356.34 606.53,354.58 613.07,352.94 619.63,351.4 626.23,349.98 632.85,348.68 639.49,347.49 646.16,346.41 652.85,345.46 659.56,344.62 666.29,343.89 673.03,343.29 679.78,342.8 686.55,342.42 693.32,342.17 700.1,342.04 706.89,342.02 713.68,342.12 720.46,342.34 727.25,342.68 734.03,343.14 740.81,343.72 747.58,344.41 754.34,345.23 761.09,346.16 767.82,347.21 774.54,348.38 781.24,349.67 787.92,351.07 794.57,352.59 801.21,354.23 807.81,355.98 814.39,357.85 820.94,359.84 827.45,361.94 833.93,364.16 840.38,366.48 846.78,368.93 853.15,371.48 859.47,374.15 865.74,376.93 871.98,379.82 878.16,382.82 884.29,385.93 890.37,389.14 896.4,392.47 902.37,395.9 908.28,399.44 914.13,403.08 919.92,406.82 925.65,410.67 931.31,414.61 936.9,418.66 942.43,422.81 947.88,427.05 953.26,431.39 958.57,435.83 963.8,440.36 968.96,444.99 974.03,449.7 979.03,454.51 983.94,459.4 988.77,464.39 993.51,469.45 998.17,474.61 1002.74,479.84 1007.22,485.16 1011.6,490.56 1015.9,496.03 1020.1,501.59 1024.2,507.21 1028.21,512.91 1032.11,518.69 1035.92,524.53 1039.63,530.44 1043.24,536.42 1046.74,542.46 1050.14,548.57 1053.43,554.74 1056.61,560.97 1059.69,567.25 1062.66,573.59 1065.52,579.99 1068.27,586.43 1070.91,592.93 1073.43,599.48 1075.84,606.07 1078.14,612.7 1080.32,619.38 1082.38,626.1 1084.33,632.86 1086.16,639.65 1087.87,646.48 1089.47,653.33 1090.94,660.22 1092.29,667.14 1093.53,674.08 1094.64,681.05 1095.63,688.04 1096.5,695.05 1097.25,702.07 1097.88,709.11 1098.38,716.17 1098.76,723.23 1099.02,730.3 1099.15,737.38 1099.16,744.47 1099.04,751.56 1098.8,758.64 1098.44,765.73 1097.95,772.81 1097.34,779.89 1096.61,786.95 1095.75,794.01 1094.77,801.05 1093.67,808.08 1092.44,815.09 1091.09,822.09 1089.61,829.06 1088.02,836 1086.3,842.93 1084.46,849.82 1082.5,856.68 1080.42,863.51 1078.22,870.31 1075.9,877.07 1073.46,883.8 1070.9,890.48 1068.23,897.12 1065.43,903.71 1062.53,910.26 1059.5,916.76 1056.37,923.21 1053.11,929.61 1049.75,935.95 1046.27,942.23 1042.69,948.46 1038.99,954.62 1035.18,960.72 1031.27,966.76 1027.25,972.73 1023.13,978.63 1018.9,984.47 1014.56,990.23 1010.13,995.91 1005.59,1001.52 1000.95,1007.06 996.22,1012.51 991.39,1017.88 986.47,1023.17 981.45,1028.38 976.33,1033.5 971.13,1038.53 965.84,1043.47 960.46,1048.32 954.99,1053.08 949.44,1057.75 943.8,1062.32 938.09,1066.79 932.29,1071.16 926.41,1075.44 920.46,1079.61 914.44,1083.68 908.34,1087.64 902.17,1091.5 895.93,1095.26 889.62,1098.9 883.25,1102.44 876.81,1105.87 870.32,1109.18 863.76,1112.39 857.14,1115.47 850.47,1118.45 843.74,1121.31 836.97,1124.05 830.14,1126.67 823.26,1129.18 816.34,1131.57 809.38,1133.83 802.37,1135.98 795.32,1138 788.24,1139.9 781.12,1141.68 773.96,1143.33 766.78,1144.86 759.57,1146.27 752.33,1147.55 745.07,1148.7 737.78,1149.73 730.47,1150.62 723.15,1151.4 715.81,1152.04 708.45,1152.56 701.09,1152.94 693.72,1153.2 686.34,1153.33 678.95,1153.33 671.56,1153.21 664.18,1152.95 656.79,1152.56 649.41,1152.05 642.04,1151.41 634.67,1150.63 627.32,1149.73 619.98,1148.7 612.66,1147.54 605.35,1146.25 598.07,1144.84 590.81,1143.29 583.57,1141.62 576.36,1139.83 569.18,1137.9 562.03,1135.85 554.91,1133.68 547.83,1131.38 540.79,1128.95 533.78,1126.4 526.83,1123.73 519.91,1120.94 513.04,1118.02 506.22,1114.98 499.45,1111.83 492.74,1108.55 486.08,1105.16 479.48,1101.64 472.93,1098.02 466.45,1094.27 460.04,1090.42 453.68,1086.44 447.4,1082.36 441.18,1078.17 435.04,1073.86 428.97,1069.45 422.97,1064.93 417.06,1060.31 411.22,1055.58 405.46,1050.74 399.78,1045.81 394.19,1040.77 388.69,1035.63 383.27,1030.4 377.95,1025.07 372.71,1019.65 367.57,1014.13 362.52,1008.52 357.57,1002.82 352.72,997.04 347.97,991.16 343.32,985.21 338.77,979.16 334.33,973.04 329.99,966.84 325.76,960.56 321.63,954.21 317.62,947.78 313.72,941.28 309.93,934.71 306.25,928.07 302.69,921.37 299.25,914.6 295.92,907.77 292.71,900.88 289.62,893.93 286.65,886.92 283.81,879.86 281.08,872.75 278.48,865.59 276,858.39 273.65,851.13 271.43,843.84 269.33,836.5 267.36,829.12 265.51,821.71 263.8,814.27 262.21,806.79 260.76,799.28 259.44,791.74 258.24,784.18 257.18,776.6 256.26,768.99 255.46,761.37 254.8,753.73 254.27,746.08 253.87,738.41 253.61,730.74 253.48,723.06 253.49,715.37 253.63,707.69 253.9,700 254.31,692.32 254.86,684.64 255.53,676.97 256.34,669.3 257.29,661.65 258.37,654.02 259.58,646.4 260.93,638.8 262.41,631.22 264.02,623.67 265.77,616.14 267.65,608.64 269.66,601.17 271.8,593.74 274.07,586.33 276.47,578.97 279,571.65 281.65,564.37 284.44,557.13 287.35,549.94 290.39,542.8 293.56,535.71 296.85,528.67 300.26,521.69 303.8,514.77 307.46,507.9 311.24,501.1 315.14,494.36 319.16,487.69 323.29,481.09 327.55,474.56 331.91,468.1 336.4,461.71 340.99,455.4 345.7,449.17 350.51,443.02 355.44,436.96 360.47,430.97 365.61,425.08 370.85,419.27 376.2,413.55 381.65,407.92 387.19,402.39 392.84,396.95 398.58,391.61 404.41,386.37 410.34,381.23 416.37,376.19 422.48,371.26 428.67,366.43 434.96,361.7 441.33,357.09 447.78,352.59 454.31,348.19 460.92,343.91 467.61,339.75 474.37,335.7 481.2,331.77 488.11,327.95 495.08,324.26 502.12,320.68 509.22,317.23 516.39,313.9 523.61,310.7 530.9,307.62 538.24,304.66 545.63,301.84 553.07,299.14 560.57,296.57 568.11,294.14 575.69,291.83 583.32,289.66 590.99,287.61 598.69,285.71 606.43,283.93 614.21,282.29 622.01,280.79 629.84,279.42 637.7,278.19 645.58,277.09 653.49,276.14 661.41,275.32 669.35,274.64 677.3,274.09 685.27,273.69 693.24,273.42 701.22,273.3 709.2,273.31 717.19,273.46 725.18,273.76 733.16,274.19 741.14,274.76 749.11,275.47 757.07,276.32 765.01,277.31 772.94,278.44 780.86,279.71 788.75,281.11 796.62,282.66 804.47,284.34 812.29,286.16 820.08,288.12 827.83,290.21 835.55,292.44 843.24,294.81 850.89,297.31 858.49,299.94 866.05,302.71 873.57,305.61 881.03,308.64 888.44,311.81 895.81,315.1 903.11,318.53 910.36,322.08 917.55,325.76 924.67,329.56 931.73,333.5 938.72,337.55 945.65,341.73 952.5,346.03 959.28,350.45 965.99,355 972.61,359.66 979.16,364.43 985.62,369.33 992.01,374.33 998.3,379.45 1004.51,384.68 1010.63,390.02 1016.65,395.47 1022.59,401.03 1028.42,406.69 1034.16,412.45 1039.8,418.32 1045.34,424.29 1050.78,430.35 1056.11,436.51 1061.34,442.77 1066.46,449.11 1071.46,455.55 1076.36,462.08 1081.15,468.7 1085.82,475.4 1090.37,482.18 1094.81,489.05 1099.13,495.99 1103.32,503.02 1107.4,510.11 1111.35,517.28 1115.18,524.52 1118.89,531.83 1122.46,539.21 1125.91,546.65 1129.23,554.15 1132.42,561.72 1135.48,569.34 1138.4,577.01 1141.2,584.74 1143.85,592.52 1146.38,600.35 1148.76,608.22 1151.01,616.14 1153.13,624.1 1155.1,632.1 1156.93,640.13 1158.63,648.2 1160.18,656.3 1161.6,664.43 1162.87,672.58 1164,680.76 1164.98,688.97 1165.83,697.19 1166.53,705.43 1167.08,713.68 1167.5,721.94 1167.76,730.22 1167.89,738.5 1167.87,746.78 1167.7,755.07 1167.39,763.35 1166.94,771.63 1166.34,779.91 1165.59,788.18 1164.7,796.43 1163.67,804.68 1162.49,812.9 1161.17,821.11 1159.7,829.3 1158.09,837.46 1156.34,845.6 1154.45,853.71 1152.41,861.79 1150.23,869.83 1147.91,877.84 1145.45,885.81 1142.85,893.74 1140.11,901.63 1137.23,909.47 1134.22,917.26 1131.07,925 1127.78,932.69 1124.36,940.32 1120.8,947.89 1117.11,955.41 1113.29,962.86 1109.33,970.24 1105.25,977.56 1101.04,984.81 1096.7,991.99 1092.23,999.09 1087.64,1006.12 1082.92,1013.07 1078.08,1019.94 1073.12,1026.72 1068.05,1033.42 1062.85,1040.04 1057.53,1046.56 1052.11,1052.99 1046.56,1059.33 1040.91,1065.58 1035.14,1071.72 1029.27,1077.77 1023.29,1083.72 1017.2,1089.56 1011.01,1095.3 1004.72,1100.93 998.32,1106.45 991.83,1111.87 985.25,1117.17 978.57,1122.36 971.8,1127.43 964.93,1132.38 957.98,1137.22 950.95,1141.93 943.82,1146.53 936.62,1151 929.34,1155.34 921.98,1159.56 914.54,1163.66 907.03,1167.62 899.45,1171.45 891.8,1175.15 884.09,1178.72 876.31,1182.16 868.47,1185.46 860.56,1188.62 852.61,1191.65 844.59,1194.54 836.53,1197.28 828.41,1199.89 820.25,1202.36 812.04,1204.69 803.79,1206.87 795.5,1208.91 787.17,1210.8 778.81,1212.55 770.41,1214.16 761.99,1215.61 753.53,1216.92 745.06,1218.09 736.56,1219.1 728.04,1219.97 719.5,1220.69 710.95,1221.26 702.38,1221.68 693.81,1221.95 685.23,1222.07 676.64,1222.04 668.06,1221.87 659.47,1221.54 650.89,1221.06 642.32,1220.43 633.75,1219.65 625.2,1218.72 616.66,1217.65 608.14,1216.42 599.63,1215.04 591.15,1213.52 582.69,1211.84 574.26,1210.02 565.86,1208.05 557.5,1205.94 549.16,1203.67 540.87,1201.26 532.61,1198.71 524.4,1196.01 516.24,1193.17 508.12,1190.18 500.05,1187.05 492.03,1183.78 484.07,1180.37 476.17,1176.81 468.33,1173.12 460.55,1169.3 452.83,1165.33 445.18,1161.23 437.61,1156.99 430.1,1152.62 422.67,1148.12 415.32,1143.49 408.04,1138.73 400.85,1133.84 393.74,1128.83 386.72,1123.68 379.78,1118.42 372.94,1113.03 366.18,1107.52 359.53,1101.89 352.96,1096.15 346.5,1090.29 340.14,1084.31 333.88,1078.22 327.73,1072.03 321.68,1065.72 315.75,1059.3 309.92,1052.78 304.2,1046.16 298.6,1039.44 293.12,1032.61 287.75,1025.69 282.51,1018.67 277.38,1011.56 272.38,1004.36 267.5,997.07 262.75,989.7 258.13,982.24 253.64,974.69 249.27,967.07 245.04,959.37 240.94,951.59 236.98,943.74 233.16,935.82 229.47,927.83 225.92,919.77 222.51,911.65 219.24,903.47 216.11,895.23 213.13,886.93 210.29,878.58 207.59,870.17 205.05,861.72 202.64,853.22 200.39,844.68 198.29,836.1 196.33,827.48 194.53,818.82 192.87,810.13 191.37,801.4 190.02,792.65 188.82,783.88 187.78,775.08 186.89,766.26 186.15,757.42 185.56,748.57 185.14,739.71 184.86,730.83 184.74,721.95 184.78,713.07 184.97,704.18 185.32,695.3 185.82,686.42 186.47,677.55 187.29,668.68 188.25,659.83 189.37,650.99 190.65,642.18 192.08,633.38 193.66,624.6 195.4,615.85 197.29,607.13 199.34,598.44 201.53,589.78 203.88,581.16 206.38,572.58 209.03,564.04 211.83,555.55 214.78,547.1 217.88,538.7 221.12,530.36 224.51,522.07 228.05,513.83 231.73,505.66 235.55,497.55 239.52,489.5 243.63,481.52 247.87,473.61 252.26,465.78 256.79,458.02 261.45,450.33 266.24,442.73 271.18,435.2 276.24,427.77 281.43,420.42 286.76,413.15 292.21,405.98 297.79,398.91 303.49,391.93 309.32,385.04 315.26,378.26 321.33,371.58 327.52,365.01 333.82,358.54 340.23,352.18 346.76,345.93 353.4,339.79 360.15,333.77 367,327.86 373.96,322.08 381.02,316.41 388.19,310.87 395.45,305.44 402.8,300.15 410.25,294.98 417.8,289.94 425.43,285.03 433.15,280.26 440.95,275.62 448.84,271.11 456.81,266.74 464.85,262.51 472.97,258.42 481.17,254.46 489.43,250.66 497.77,246.99 506.17,243.47 514.63,240.1 523.15,236.87 531.74,233.79 540.37,230.86 549.06,228.08 557.8,225.45 566.59,222.97 575.43,220.65 584.3,218.48 593.22,216.47 602.17,214.61 611.16,212.9 620.18,211.35 629.23,209.96 638.3,208.73 647.4,207.66 656.52,206.74 665.65,205.99 674.8,205.39 683.97,204.95 693.14,204.67 702.32,204.56 711.5,204.6 720.69,204.8 729.87,205.17 739.05,205.69 748.22,206.38 757.39,207.22 766.53,208.23 775.67,209.39 784.78,210.72 793.88,212.2 802.95,213.85 811.99,215.65 821,217.61 829.98,219.73 838.93,222.01 847.84,224.44 856.7,227.03 865.53,229.77 874.31,232.67 883.03,235.72 891.71,238.93 900.33,242.29 908.9,245.8 917.41,249.46 925.85,253.27 934.23,257.22 942.55,261.33 950.79,265.58 958.96,269.98 967.05,274.51 975.07,279.2 983.01,284.02 990.86,288.98 998.63,294.08 1006.31,299.32 1013.91,304.69 1021.41,310.2 1028.81,315.83 1036.12,321.6 1043.33,327.5 1050.44,333.53 1057.44,339.68 1064.34,345.95 1071.13,352.34 1077.81,358.86 1084.37,365.49 1090.83,372.24 1097.16,379.11 1103.38,386.08 1109.48,393.17 1115.45,400.36 1121.3,407.66 1127.02,415.06 1132.62,422.57 1138.08,430.17 1143.42,437.87 1148.62,445.67 1153.68,453.55 1158.61,461.53 1163.4,469.6 1168.05,477.75 1172.56,485.98 1176.93,494.29 1181.15,502.69 1185.23,511.15 1189.15,519.69 1192.93,528.3 1196.57,536.98 1200.05,545.73 1203.37,554.53 1206.55,563.4 1209.57,572.32 1212.43,581.3 1215.14,590.33 1217.7,599.41 1220.09,608.53 1222.33,617.7 1224.4,626.91 1226.32,636.16 1228.07,645.44 1229.66,654.76 1231.09,664.1 1232.36,673.48 1233.46,682.87 1234.4,692.29 1235.18,701.72 1235.79,711.18 1236.23,720.64 1236.51,730.11 1236.63,739.59 1236.58,749.08 1236.36,758.56 1235.98,768.04 1235.43,777.52 1234.72,786.99 1233.84,796.45 1232.8,805.9 1231.59,815.33 1230.21,824.74 1228.67,834.13 1226.97,843.49 1225.1,852.83 1223.07,862.13 1220.88,871.4 1218.52,880.64 1216.01,889.84 1213.33,898.99 1210.49,908.1 1207.49,917.16 1204.33,926.17 1201.02,935.12 1197.54,944.03 1193.91,952.87 1190.13,961.65 1186.19,970.36 1182.1,979.01 1177.86,987.59 1173.47,996.1 1168.92,1004.53 1164.23,1012.88 1159.39,1021.15 1154.41,1029.34 1149.28,1037.45 1144.01,1045.47 1138.6,1053.39 1133.05,1061.23 1127.36,1068.97 1121.54,1076.61 1115.58,1084.15 1109.49,1091.58 1103.27,1098.92 1096.91,1106.14 1090.43,1113.26 1083.83,1120.26 1077.1,1127.15 1070.25,1133.92 1063.28,1140.58 1056.19,1147.11 1048.99,1153.53 1041.67,1159.82 1034.24,1165.98 1026.71,1172.01 1019.06,1177.91 1011.32,1183.68 1003.46,1189.32 995.51,1194.82 987.47,1200.18 979.32,1205.4 971.09,1210.48 962.76,1215.42 954.35,1220.22 945.85,1224.86 937.27,1229.36 928.6,1233.71 919.86,1237.92 911.05,1241.96 902.16,1245.86 893.2,1249.6 884.18,1253.19 875.09,1256.62 865.94,1259.89 856.73,1263 847.46,1265.95 838.15,1268.74 828.78,1271.37 819.36,1273.83 809.9,1276.13 800.4,1278.27 790.85,1280.24 781.27,1282.04 771.66,1283.68 762.02,1285.15 752.35,1286.45 742.65,1287.58 732.94,1288.54 723.2,1289.34 713.45,1289.96 703.69,1290.42 693.92,1290.7 684.14,1290.81 674.35,1290.76 664.57,1290.53 654.79,1290.13 645.01,1289.56 635.24,1288.81 625.48,1287.9 615.74,1286.82 606.01,1285.57 596.3,1284.14 586.62,1282.55 576.96,1280.79 567.33,1278.86 557.74,1276.76 548.17,1274.49 538.65,1272.05 529.17,1269.45 519.73,1266.68 510.33,1263.75 500.99,1260.65 491.7,1257.39 482.46,1253.96 473.29,1250.38 464.17,1246.63 455.12,1242.72 446.13,1238.65 437.21,1234.43 428.37,1230.05 419.6,1225.51 410.9,1220.82 402.29,1215.98 393.76,1210.98 385.32,1205.84 376.96,1200.55 368.7,1195.11 360.53,1189.52 352.45,1183.8 344.48,1177.93 336.6,1171.91 328.83,1165.77 321.16,1159.48 313.61,1153.06 306.16,1146.5 298.82,1139.82 291.61,1133 284.51,1126.06 277.53,1118.99 270.67,1111.8 263.93,1104.49 257.32,1097.06 250.85,1089.51 244.5,1081.85 238.28,1074.07 232.2,1066.19 226.26,1058.2 220.45,1050.1 214.78,1041.9 209.26,1033.6 203.88,1025.2 198.65,1016.71 193.56,1008.12 188.62,999.44 183.84,990.68 179.2,981.83 174.72,972.89 170.4,963.88 166.23,954.79 162.22,945.63 158.36,936.39 154.67,927.08 151.14,917.71 147.78,908.28 144.57,898.78 141.54,889.23 138.67,879.62 135.96,869.96 133.43,860.25 131.06,850.5 128.87,840.7 126.84,830.87 124.99,820.99 123.31,811.08 121.8,801.14 120.46,791.17 119.3,781.18 118.31,771.17 117.5,761.13 116.86,751.08 116.4,741.02 116.11,730.95 116,720.87 116.07,710.78 116.31,700.7 116.73,690.62 117.32,680.54 118.09,670.47 119.04,660.42 120.16,650.37 121.45,640.35 122.93,630.35 124.57,620.37 126.4,610.42 128.39,600.5 130.56,590.61 132.9,580.75 135.42,570.94 138.11,561.17 140.96,551.44 143.99,541.77 147.19,532.14 150.56,522.57 154.09,513.05 157.79,503.6 161.66,494.21 165.69,484.88 169.89,475.62 174.24,466.44 178.76,457.32 183.44,448.29 188.28,439.34 193.27,430.46 198.42,421.68 203.73,412.98 209.19,404.38 214.79,395.86 220.55,387.45 226.46,379.13 232.51,370.92 238.71,362.81 245.05,354.8 251.53,346.91 258.15,339.13 264.91,331.46 271.8,323.91 278.82,316.47 285.98,309.16 293.26,301.98 300.68,294.91 308.21,287.98 315.87,281.18 323.65,274.51 331.55,267.97 339.56,261.57 347.68,255.31 355.92,249.19 364.26,243.22 372.71,237.39 381.27,231.7 389.92,226.16 398.67,220.78 407.52,215.54 416.46,210.46 425.49,205.54 434.61,200.77 443.82,196.16 453.1,191.71 462.47,187.42 471.91,183.29 481.42,179.33 491.01,175.53 500.66,171.9 510.38,168.44 520.16,165.15 530,162.03 539.9,159.07 549.85,156.3 559.85,153.69 569.9,151.26 579.99,149 590.12,146.92 600.29,145.02 610.5,143.29 620.73,141.74 631,140.37 641.29,139.18 651.6,138.17 661.94,137.34 672.29,136.69 682.65,136.22 693.02,135.93 703.4,135.82 713.79,135.89 724.17,136.14 734.55,136.58 744.93,137.2 755.29,137.99 765.65,138.97 775.99,140.13 786.31,141.47 796.61,142.99 806.88,144.7 817.13,146.58 827.34,148.64 837.52,150.88 847.66,153.29 857.77,155.89 867.83,158.66 877.84,161.61 887.8,164.73 897.71,168.03 907.56,171.5 917.36,175.14 927.09,178.96 936.76,182.95 946.36,187.1 955.89,191.43 965.34,195.92 974.72,200.57 984.02,205.39 993.23,210.38 1002.36,215.53 1011.4,220.83 1020.35,226.3 1029.21,231.92 1037.97,237.7 1046.63,243.63 1055.19,249.71 1063.64,255.95 1071.98,262.33 1080.22,268.86 1088.34,275.54 1096.35,282.36 1104.24,289.32 1112.01,296.41 1119.66,303.65 1127.18,311.02 1134.57,318.52 1141.84,326.15 1148.97,333.91 1155.97,341.8 1162.83,349.81 1169.55,357.94 1176.13,366.19 1182.57,374.56 1188.87,383.04 1195.01,391.63 1201.01,400.33 1206.86,409.13 1212.55,418.04 1218.09,427.05 1223.47,436.16 1228.7,445.37 1233.76,454.66 1238.67,464.05 1243.41,473.52 1247.98,483.08 1252.39,492.72 1256.63,502.44 1260.71,512.24 1264.61,522.1 1268.34,532.04 1271.9,542.04 1275.28,552.11 1278.49,562.24 1281.52,572.42 1284.37,582.66 1287.05,592.95 1289.55,603.29 1291.86,613.68 1294,624.1 1295.95,634.57 1297.72,645.07 1299.31,655.61 1300.72,666.17 1301.94,676.76 1302.97,687.37 1303.82,698.01 1304.49,708.66 1304.97,719.32 1305.26,729.99 1305.37,740.67 1305.29,751.36 1305.02,762.04 1304.57,772.72 1303.93,783.4 1303.1,794.06 1302.09,804.71 1300.89,815.35 1299.51,825.97 1297.94,836.56 1296.18,847.13 1294.24,857.67 1292.12,868.18 1289.81,878.65 1287.32,889.08 1284.64,899.47 1281.79,909.82 1278.75,920.12 1275.53,930.37 1272.13,940.56 1268.56,950.69 1264.8,960.77 1260.87,970.78 1256.77,980.72 1252.49,990.59 1248.04,1000.39 1243.41,1010.11 1238.62,1019.76 1233.65,1029.32 1228.52,1038.8 1223.22,1048.19 1217.76,1057.48 1212.13,1066.69 1206.35,1075.79 1200.4,1084.8 1194.29,1093.71 1188.03,1102.5 1181.61,1111.2 1175.04,1119.78 1168.32,1128.24 1161.45,1136.6 1154.44,1144.83 1147.28,1152.94 1139.97,1160.93 1132.53,1168.79 1124.94,1176.52 1117.22,1184.12 1109.37,1191.59 1101.39,1198.92 1093.27,1206.11 1085.03,1213.17 1076.67,1220.08 1068.18,1226.84 1059.57,1233.46 1050.85,1239.93 1042.01,1246.24 1033.06,1252.41 1024,1258.42 1014.84,1264.27 1005.57,1269.96 996.2,1275.49 986.73,1280.86 977.17,1286.06 967.51,1291.1 957.77,1295.97 947.94,1300.67 938.02,1305.2 928.03,1309.56 917.95,1313.74 907.81,1317.75 897.59,1321.58 887.3,1325.23 876.95,1328.71 866.53,1332 856.06,1335.11 845.53,1338.04 834.94,1340.79 824.31,1343.35 813.63,1345.73 802.91,1347.92 792.15,1349.92 781.35,1351.74 770.52,1353.37 759.66,1354.81 748.77,1356.06 737.86,1357.12 726.92,1357.99 715.97,1358.67 705.01,1359.15 694.04,1359.45 683.06,1359.55 672.08,1359.47 661.09,1359.19 650.11,1358.72 639.14,1358.05 628.18,1357.2 617.23,1356.15 606.29,1354.92 595.38,1353.49 584.49,1351.87 573.62,1350.06 562.79,1348.06 551.99,1345.87 541.22,1343.49 530.5,1340.93 519.82,1338.17 509.19,1335.23 498.6,1332.1 488.07,1328.79 477.59,1325.29 467.18,1321.61 456.83,1317.75 446.54,1313.71 436.32,1309.48 426.17,1305.08 416.1,1300.5 406.11,1295.74 396.2,1290.81 386.38,1285.7 376.64,1280.42 366.99,1274.97 357.44,1269.35 347.98,1263.57 338.62,1257.61 329.37,1251.5 320.22,1245.22 311.18,1238.78 302.25,1232.18 293.43,1225.42 284.73,1218.51 276.15,1211.45 267.7,1204.23 259.36,1196.87 251.16,1189.36 243.08,1181.7 235.14,1173.91 227.33,1165.97 219.66,1157.9 212.13,1149.69 204.74,1141.34 197.5,1132.87 190.4,1124.27 183.45,1115.55 176.66,1106.7 170.01,1097.73 163.52,1088.65 157.2,1079.45 151.03,1070.14 145.02,1060.72 139.17,1051.19 133.49,1041.56 127.98,1031.83 122.64,1022 117.47,1012.08 112.47,1002.06 107.64,991.96 102.99,981.77 98.52,971.5 94.23,961.14 90.11,950.72 86.18,940.21 82.43,929.64 78.87,919 75.49,908.3 72.29,897.54 69.29,886.72 66.47,875.84 63.84,864.92 61.41,853.95 59.16,842.93 57.11,831.87 55.24,820.78 53.58,809.65 52.1,798.49 50.82,787.3 49.74,776.09 48.85,764.86 48.16,753.61 47.66,742.35 47.36,731.07 47.26,719.79 47.36,708.51 47.65,697.23 48.14,685.95 48.82,674.67 49.7,663.41 50.78,652.16 52.06,640.93 53.53,629.72 55.2,618.54 57.06,607.38 59.12,596.25 61.38,585.15 63.82,574.1 66.46,563.08 69.3,552.11 72.32,541.19 75.54,530.32 78.95,519.51 82.54,508.75 86.33,498.05 90.3,487.42 94.46,476.85 98.8,466.36 103.33,455.94 108.04,445.6 112.93,435.34 118,425.16 123.25,415.07 128.68,405.07 134.28,395.17 140.05,385.36 146,375.65 152.12,366.04 158.41,356.54 164.86,347.14 171.48,337.86 178.26,328.69 185.2,319.64 192.3,310.71 199.56,301.9 206.97,293.22 214.54,284.67 222.26,276.24 230.12,267.95 238.13,259.8 246.28,251.78 254.58,243.91 263.01,236.18 271.58,228.6 280.28,221.16 289.12,213.88 298.08,206.75 307.17,199.77 316.38,192.95 325.71,186.29 335.16,179.8 344.73,173.47 354.4,167.3 364.19,161.3 374.08,155.48 384.07,149.82 394.17,144.34 404.36,139.03 414.64,133.9 425.02,128.95 435.49,124.18 446.03,119.6 456.66,115.19 467.37,110.97 478.16,106.94 489.01,103.1 499.94,99.44 510.93,95.98 521.98,92.7 533.09,89.62 544.26,86.73 555.48,84.04 566.74,81.54 578.05,79.24 589.41,77.14"/>
<polyline fill="none" stroke="#b4b4b4" stroke-width="1" points="505.52,452 510.3,448.6 515.15,445.29 520.06,442.06 525.02,438.91 530.04,435.84 535.12,432.87 540.25,429.98 545.44,427.18 550.67,424.47 555.96,421.85 561.29,419.32 566.67,416.88 572.09,414.54 577.56,412.29 583.07,410.13 588.62,408.07 594.2,406.11 599.83,404.24 605.49,402.47 611.18,400.8 616.9,399.23 622.66,397.75 628.44,396.38 634.24,395.11 640.08,393.94 645.93,392.87 651.81,391.9 657.7,391.03 663.62,390.27 669.55,389.61 675.49,389.05 681.44,388.6 687.41,388.25 693.38,388 699.36,387.86 705.35,387.83 711.34,387.89 717.33,388.07 723.32,388.35 729.3,388.73 735.29,389.22 741.26,389.81 747.23,390.5 753.19,391.31 759.14,392.21 765.07,393.22 770.99,394.34 776.89,395.55 782.77,396.88 788.63,398.3 794.47,399.83 800.29,401.46 806.07,403.19 811.83,405.03 817.56,406.97 823.26,409 828.93,411.14 834.56,413.38 840.15,415.71 845.71,418.15 851.22,420.68 856.7,423.32 862.12,426.04 867.51,428.87 872.84,431.79 878.13,434.8 883.37,437.91 888.55,441.11 893.68,444.4 898.76,447.78 903.77,451.25 908.73,454.81 913.63,458.46 918.47,462.2 923.24,466.02 927.95,469.93 932.59,473.92 937.17,478 941.67,482.15 946.1,486.39 950.46,490.71 954.75,495.1 958.97,499.57 963.1,504.11 967.16,508.73 971.14,513.43 975.04,518.19 978.85,523.02 982.59,527.92 986.24,532.89 989.8,537.93 993.28,543.03 996.67,548.19 999.97,553.41 1003.18,558.7 1006.3,564.04 1009.33,569.43 1012.26,574.89 1015.1,580.39 1017.85,585.95 1020.5,591.56 1023.05,597.21 1025.5,602.92 1027.86,608.67 1030.11,614.46 1032.27,620.29 1034.32,626.16 1036.28,632.08 1038.13,638.02 1039.87,644.01 1041.52,650.02 1043.05,656.07 1044.49,662.14 1045.82,668.24 1047.04,674.37 1048.15,680.52 1049.16,686.7 1050.06,692.89 1050.85,699.1 1051.54,705.33 1052.11,711.57 1052.58,717.83 1052.94,724.09 1053.18,730.37 1053.32,736.65 1053.35,742.93 1053.27,749.22 1053.08,755.51 1052.78,761.8 1052.37,768.08 1051.85,774.36 1051.21,780.64 1050.47,786.9 1049.62,793.16 1048.66,799.4 1047.59,805.63 1046.41,811.84 1045.13,818.03 1043.73,824.2 1042.22,830.35 1040.61,836.48 1038.89,842.58 1037.06,848.65 1035.13,854.7 1033.09,860.71 1030.94,866.69 1028.69,872.63 1026.33,878.54 1023.87,884.4 1021.3,890.23 1018.64,896.01 1015.87,901.75 1013,907.44 1010.03,913.09 1006.95,918.68 1003.78,924.22 1000.52,929.71 997.15,935.15 993.69,940.53 990.13,945.84 986.48,951.1 982.74,956.3 978.9,961.43 974.98,966.5 970.96,971.5 966.85,976.44 962.66,981.3 958.38,986.09 954.01,990.81 949.56,995.46 945.03,1000.02 940.41,1004.51 935.72,1008.93 930.95,1013.26 926.1,1017.51 921.17,1021.67 916.17,1025.75 911.09,1029.75 905.95,1033.66 900.73,1037.48 895.45,1041.21 890.09,1044.85 884.68,1048.39 879.2,1051.85 873.65,1055.2 868.05,1058.47 862.38,1061.63 856.66,1064.7 850.89,1067.67 845.06,1070.54 839.17,1073.31 833.24,1075.98 827.26,1078.54 821.23,1081 815.15,1083.36 809.04,1085.61 802.88,1087.76 796.68,1089.79 790.44,1091.72 784.17,1093.55 777.86,1095.26 771.52,1096.86 765.15,1098.36 758.76,1099.74 752.33,1101.01 745.88,1102.17 739.41,1103.22 732.92,1104.15 726.41,1104.97 719.88,1105.68 713.34,1106.27 706.79,1106.75 700.22,1107.12 693.65,1107.37 687.07,1107.51 680.48,1107.53 673.9,1107.43 667.31,1107.23 660.72,1106.9 654.14,1106.46 647.56,1105.91 640.99,1105.24 634.43,1104.45 627.88,1103.55 621.34,1102.54 614.82,1101.41 608.31,1100.16 601.83,1098.81 595.37,1097.34 588.93,1095.75 582.51,1094.05 576.12,1092.24 569.77,1090.32 563.44,1088.28 557.15,1086.14 550.89,1083.88 544.67,1081.51 538.49,1079.04 532.35,1076.45 526.25,1073.76 520.2,1070.96 514.2,1068.05 508.24,1065.04 502.34,1061.92 496.48,1058.7 490.68,1055.37 484.94,1051.94 479.26,1048.41 473.63,1044.78 468.07,1041.05 462.57,1037.22 457.13,1033.29 451.76,1029.27 446.46,1025.15 441.23,1020.94 436.08,1016.64 430.99,1012.24 425.98,1007.75 421.05,1003.18 416.19,998.51 411.42,993.76 406.73,988.93 402.11,984.01 397.59,979.01 393.15,973.93 388.8,968.76 384.53,963.53 380.36,958.21 376.27,952.82 372.28,947.36 368.39,941.82 364.59,936.22 360.88,930.54 357.28,924.8 353.77,919 350.37,913.13 347.06,907.2 343.86,901.21 340.76,895.17 337.76,889.06 334.87,882.9 332.09,876.69 329.42,870.43 326.85,864.12 324.4,857.77 322.05,851.36 319.81,844.92 317.69,838.43 315.68,831.91 313.78,825.34 312,818.75 310.33,812.11 308.78,805.45 307.34,798.76 306.02,792.04 304.81,785.29 303.73,778.53 302.76,771.74 301.91,764.93 301.18,758.1 300.56,751.26 300.07,744.41 299.7,737.54 299.44,730.67 299.31,723.79 299.29,716.9 299.4,710.02 299.63,703.13 299.98,696.24 300.44,689.36 301.03,682.48 301.74,675.61 302.57,668.75 303.52,661.91 304.59,655.08 305.78,648.26 307.08,641.46 308.51,634.69 310.06,627.93 311.72,621.21 313.51,614.5 315.41,607.83 317.42,601.19 319.56,594.58 321.81,588.01 324.18,581.47 326.66,574.97 329.25,568.52 331.96,562.1 334.78,555.74 337.72,549.42 340.76,543.14 343.92,536.92 347.19,530.76 350.56,524.65 354.04,518.59 357.63,512.6 361.33,506.66 365.13,500.79 369.04,494.98 373.04,489.24 377.15,483.56 381.36,477.96 385.67,472.43 390.08,466.97 394.58,461.59 399.18,456.28 403.87,451.06 408.66,445.91 413.53,440.84 418.5,435.86 423.56,430.97 428.7,426.16 433.93,421.43 439.24,416.8 444.64,412.26 450.12,407.82 455.67,403.46 461.31,399.21 467.02,395.05 472.8,390.98 478.66,387.02 484.59,383.16 490.59,379.4 496.65,375.75 502.78,372.2 508.98,368.75 515.24,365.42 521.55,362.19 527.93,359.07 534.36,356.06 540.85,353.16 547.39,350.38 553.98,347.71 560.62,345.15 567.31,342.71 574.04,340.38 580.81,338.17 587.63,336.08 594.48,334.11 601.37,332.26 608.29,330.52 615.25,328.91 622.24,327.42 629.25,326.04 636.29,324.8 643.36,323.67 650.45,322.67 657.56,321.79 664.68,321.03 671.82,320.4 678.97,319.89 686.14,319.51 693.31,319.26 700.49,319.12 707.68,319.12 714.87,319.24 722.05,319.48 729.24,319.85 736.42,320.35 743.59,320.97 750.76,321.72 757.91,322.59 765.06,323.59 772.18,324.71 779.29,325.96 786.38,327.33 793.45,328.83 800.5,330.45 807.51,332.2 814.5,334.06 821.46,336.05 828.39,338.17 835.28,340.4 842.14,342.76 848.95,345.23 855.73,347.83 862.46,350.54 869.14,353.38 875.78,356.33 882.37,359.4 888.91,362.58 895.39,365.88 901.82,369.29 908.19,372.82 914.5,376.46 920.75,380.21 926.93,384.07 933.05,388.04 939.11,392.12 945.09,396.3 951,400.6 956.84,404.99 962.6,409.49 968.29,414.09 973.9,418.79 979.42,423.59 984.87,428.49 990.23,433.49 995.51,438.58 1000.7,443.77 1005.79,449.04 1010.8,454.41 1015.72,459.87 1020.54,465.41 1025.27,471.04 1029.9,476.76 1034.43,482.55 1038.86,488.43 1043.19,494.39 1047.42,500.42 1051.54,506.53 1055.56,512.72 1059.47,518.97 1063.27,525.3 1066.97,531.7 1070.55,538.16 1074.02,544.68 1077.38,551.27 1080.62,557.92 1083.75,564.63 1086.76,571.39 1089.66,578.21 1092.44,585.08 1095.09,592.01 1097.63,598.98 1100.05,605.99 1102.34,613.05 1104.51,620.16 1106.56,627.3 1108.49,634.48 1110.29,641.7 1111.96,648.95 1113.51,656.23 1114.93,663.54 1116.22,670.88 1117.39,678.25 1118.42,685.63 1119.33,693.04 1120.11,700.46 1120.76,707.9 1121.28,715.35 1121.67,722.82 1121.93,730.29 1122.06,737.77 1122.06,745.26 1121.93,752.74 1121.67,760.23 1121.27,767.72 1120.75,775.2 1120.09,782.67 1119.3,790.13 1118.39,797.58 1117.34,805.02 1116.16,812.44 1114.86,819.85 1113.42,827.23 1111.85,834.59 1110.16,841.92 1108.33,849.23 1106.38,856.51 1104.3,863.75 1102.09,870.96 1099.76,878.14 1097.3,885.28 1094.71,892.37 1092,899.42 1089.17,906.43 1086.21,913.39 1083.13,920.3 1079.93,927.15 1076.6,933.96 1073.16,940.71 1069.6,947.4 1065.92,954.02 1062.13,960.59 1058.22,967.09 1054.19,973.53 1050.05,979.9 1045.8,986.19 1041.43,992.42 1036.96,998.57 1032.38,1004.64 1027.69,1010.64 1022.89,1016.55 1017.99,1022.38 1012.99,1028.13 1007.88,1033.79 1002.68,1039.37 997.37,1044.86 991.97,1050.25 986.47,1055.55 980.88,1060.76 975.2,1065.87 969.42,1070.89 963.56,1075.8 957.6,1080.61 951.57,1085.32 945.44,1089.93 939.24,1094.43 932.95,1098.82 926.59,1103.11 920.15,1107.28 913.64,1111.35 907.05,1115.3 900.39,1119.13 893.66,1122.85 886.87,1126.46 880.01,1129.95 873.09,1133.32 866.11,1136.56 859.07,1139.69 851.97,1142.7 844.81,1145.58 837.61,1148.34 830.35,1150.97 823.05,1153.48 815.7,1155.86 808.31,1158.11 800.88,1160.23 793.4,1162.23 785.89,1164.09 778.35,1165.83 770.77,1167.43 763.16,1168.9 755.53,1170.24 747.87,1171.44 740.19,1172.51 732.48,1173.45 724.76,1174.26 717.02,1174.92 709.27,1175.46 701.5,1175.86 693.73,1176.12 685.95,1176.25 678.16,1176.24 670.38,1176.09 662.59,1175.81 654.81,1175.39 647.03,1174.84 639.26,1174.15 631.5,1173.33 623.75,1172.37 616.01,1171.27 608.3,1170.04 600.6,1168.67 592.92,1167.17 585.27,1165.53 577.65,1163.76 570.05,1161.86 562.49,1159.82 554.96,1157.65 547.46,1155.35 540,1152.91 532.59,1150.35 525.21,1147.65 517.88,1144.83 510.6,1141.88 503.37,1138.79 496.19,1135.59 489.06,1132.25 481.99,1128.79 474.98,1125.21 468.03,1121.5 461.14,1117.67 454.32,1113.71 447.56,1109.64 440.88,1105.45 434.26,1101.14 427.72,1096.71 421.26,1092.17 414.87,1087.52 408.56,1082.75 402.33,1077.87 396.19,1072.88 390.13,1067.78 384.16,1062.57 378.28,1057.26 372.49,1051.85 366.8,1046.33 361.19,1040.71 355.69,1034.99 350.28,1029.17 344.98,1023.26 339.77,1017.25 334.67,1011.15 329.67,1004.96 324.79,998.69 320,992.32 315.33,985.87 310.78,979.33 306.33,972.72 302,966.02 297.78,959.25 293.68,952.4 289.7,945.48 285.84,938.49 282.1,931.42 278.49,924.29 274.99,917.1 271.62,909.84 268.38,902.52 265.26,895.15 262.28,887.71 259.42,880.23 256.69,872.69 254.09,865.1 251.63,857.46 249.29,849.78 247.09,842.06 245.03,834.29 243.1,826.49 241.31,818.65 239.65,810.78 238.13,802.88 236.74,794.94 235.5,786.99 234.39,779 233.43,771 232.6,762.98 231.91,754.94 231.37,746.89 230.96,738.82 230.69,730.75 230.57,722.67 230.58,714.59 230.74,706.5 231.04,698.41 231.48,690.33 232.06,682.25 232.79,674.19 233.65,666.13 234.65,658.08 235.8,650.05 237.09,642.04 238.51,634.05 240.08,626.08 241.79,618.14 243.63,610.22 245.61,602.34 247.74,594.48 250,586.67 252.39,578.89 254.93,571.14 257.6,563.45 260.4,555.79 263.34,548.19 266.41,540.63 269.62,533.12 272.96,525.67 276.43,518.28 280.02,510.94 283.75,503.67 287.61,496.46 291.59,489.31 295.7,482.23 299.93,475.22 304.29,468.29 308.77,461.42 313.37,454.64 318.09,447.93 322.92,441.31 327.88,434.76 332.95,428.3 338.14,421.93 343.43,415.65 348.84,409.46 354.36,403.36 359.98,397.36 365.72,391.45 371.55,385.64 377.49,379.93 383.53,374.33 389.67,368.82 395.91,363.43 402.25,358.14 408.67,352.96 415.19,347.89 421.8,342.94 428.5,338.1 435.29,333.37 442.16,328.77 449.11,324.28 456.14,319.91 463.25,315.66 470.43,311.54 477.69,307.54 485.02,303.66 492.42,299.92 499.89,296.3 507.42,292.81 515.02,289.45 522.67,286.23 530.39,283.13 538.16,280.18 545.98,277.35 553.86,274.66 561.78,272.11 569.75,269.7 577.76,267.42 585.82,265.29 593.92,263.29 602.05,261.44 610.21,259.73 618.41,258.16 626.64,256.73 634.9,255.44 643.18,254.3 651.48,253.31 659.8,252.46 668.14,251.75 676.49,251.19 684.85,250.78 693.23,250.51 701.61,250.38 709.99,250.41 718.38,250.58 726.76,250.89 735.14,251.36 743.52,251.97 751.89,252.72 760.24,253.63 768.58,254.68 776.91,255.87 785.22,257.21 793.5,258.7 801.76,260.33 810,262.1 818.2,264.02 826.38,266.09 834.52,268.29 842.62,270.64 850.69,273.14 858.71,275.77 866.69,278.54 874.62,281.46 882.51,284.51 890.34,287.7 898.12,291.03 905.84,294.5 913.5,298.1 921.11,301.84 928.64,305.71 936.12,309.71 943.52,313.85 950.86,318.11 958.12,322.5 965.31,327.03 972.42,331.67 979.45,336.45 986.39,341.35 993.26,346.37 1000.04,351.51 1006.73,356.77 1013.33,362.15 1019.83,367.64 1026.25,373.25 1032.56,378.98 1038.78,384.81 1044.9,390.76 1050.91,396.81 1056.83,402.98 1062.63,409.24 1068.33,415.61 1073.91,422.08 1079.39,428.65 1084.75,435.31 1090,442.07 1095.13,448.93 1100.14,455.87 1105.03,462.91 1109.8,470.03 1114.44,477.23 1118.96,484.52 1123.36,491.89 1127.63,499.34 1131.77,506.87 1135.77,514.47 1139.65,522.14 1143.39,529.88 1147,537.68 1150.47,545.56 1153.81,553.49 1157.01,561.49 1160.07,569.54 1162.99,577.65 1165.77,585.81 1168.4,594.02 1170.9,602.28 1173.25,610.58 1175.45,618.93 1177.51,627.32 1179.43,635.74 1181.2,644.21 1182.82,652.7 1184.29,661.23 1185.61,669.78 1186.79,678.36 1187.81,686.96 1188.69,695.58 1189.41,704.21 1189.99,712.87 1190.41,721.53 1190.68,730.2 1190.8,738.88 1190.77,747.57 1190.59,756.25 1190.25,764.94 1189.77,773.62 1189.13,782.29 1188.34,790.96 1187.4,799.61 1186.3,808.25 1185.06,816.87 1183.67,825.47 1182.12,834.05 1180.42,842.61 1178.58,851.13 1176.58,859.63 1174.44,868.09 1172.15,876.52 1169.71,884.91 1167.12,893.26 1164.39,901.57 1161.51,909.83 1158.49,918.04 1155.32,926.2 1152.01,934.31 1148.55,942.36 1144.96,950.35 1141.22,958.28 1137.35,966.15 1133.34,973.96 1129.19,981.69 1124.9,989.35 1120.48,996.94 1115.92,1004.46 1111.24,1011.9 1106.42,1019.25 1101.47,1026.53 1096.39,1033.72 1091.19,1040.82 1085.86,1047.83 1080.41,1054.76 1074.84,1061.58 1069.14,1068.32 1063.33,1074.95 1057.4,1081.48 1051.36,1087.92 1045.2,1094.25 1038.93,1100.47 1032.54,1106.58 1026.05,1112.59 1019.46,1118.48 1012.76,1124.25 1005.95,1129.92 999.05,1135.46 992.05,1140.89 984.95,1146.19 977.76,1151.37 970.48,1156.43 963.1,1161.36 955.64,1166.16 948.09,1170.84 940.46,1175.38 932.75,1179.79 924.96,1184.07 917.09,1188.21 909.15,1192.22 901.14,1196.08 893.05,1199.81 884.91,1203.4 876.69,1206.85 868.42,1210.15 860.08,1213.31 851.69,1216.33 843.24,1219.2 834.74,1221.92 826.19,1224.49 817.6,1226.92 808.96,1229.19 800.28,1231.32 791.56,1233.29 782.8,1235.12 774.01,1236.79 765.19,1238.3 756.34,1239.67 747.47,1240.88 738.57,1241.93 729.65,1242.83 720.71,1243.57 711.76,1244.16 702.8,1244.59 693.82,1244.87 684.84,1244.99 675.86,1244.95 666.87,1244.75 657.89,1244.4 648.91,1243.89 639.94,1243.22 630.97,1242.4 622.02,1241.42 613.09,1240.28 604.17,1238.99 595.27,1237.54 586.4,1235.94 577.55,1234.18 568.73,1232.26 559.95,1230.19 551.19,1227.97 542.48,1225.59 533.8,1223.06 525.17,1220.38 516.58,1217.55 508.04,1214.57 499.55,1211.43 491.11,1208.15 482.72,1204.72 474.4,1201.14 466.14,1197.42 457.94,1193.55 449.8,1189.54 441.73,1185.38 433.74,1181.08 425.82,1176.64 417.97,1172.07 410.2,1167.35 402.51,1162.5 394.91,1157.51 387.39,1152.39 379.96,1147.14 372.62,1141.75 365.37,1136.24 358.22,1130.6 351.16,1124.83 344.2,1118.93 337.35,1112.92 330.59,1106.78 323.95,1100.53 317.41,1094.15 310.98,1087.67 304.66,1081.06 298.46,1074.35 292.37,1067.53 286.4,1060.59 280.56,1053.56 274.83,1046.42 269.22,1039.17 263.74,1031.83 258.39,1024.39 253.17,1016.86 248.08,1009.23 243.12,1001.51 238.29,993.71 233.6,985.82 229.05,977.84 224.63,969.78 220.35,961.65 216.22,953.44 212.23,945.15 208.38,936.79 204.67,928.37 201.12,919.88 197.71,911.32 194.45,902.7 191.34,894.02 188.38,885.29 185.57,876.5 182.91,867.67 180.41,858.78 178.07,849.85 175.87,840.88 173.84,831.86 171.96,822.81 170.24,813.73 168.68,804.61 167.28,795.46 166.03,786.29 164.95,777.09 164.03,767.87 163.26,758.64 162.66,749.39 162.22,740.12 161.94,730.85 161.83,721.57 161.87,712.28 162.08,703 162.45,693.72 162.99,684.44 163.68,675.17 164.54,665.91 165.56,656.66 166.74,647.42 168.08,638.21 169.58,629.02 171.25,619.85 173.07,610.71 175.05,601.6 177.2,592.52 179.5,583.48 181.96,574.48 184.58,565.51 187.36,556.6 190.29,547.72 193.38,538.9 196.62,530.13 200.02,521.42 203.57,512.76 207.27,504.16 211.12,495.63 215.12,487.16 219.28,478.75 223.57,470.42 228.02,462.17 232.61,453.99 237.34,445.88 242.22,437.86 247.24,429.92 252.39,422.07 257.69,414.31 263.12,406.64 268.69,399.06 274.39,391.57 280.22,384.19 286.18,376.9 292.28,369.72 298.49,362.64 304.84,355.67 311.3,348.81 317.89,342.06 324.59,335.43 331.42,328.91 338.36,322.51 345.41,316.22 352.57,310.06 359.84,304.03 367.22,298.12 374.7,292.33 382.29,286.68 389.97,281.16 397.76,275.77 405.64,270.52 413.61,265.4 421.68,260.42 429.83,255.58 438.07,250.88 446.39,246.33 454.79,241.92 463.28,237.65 471.83,233.54 480.47,229.57 489.17,225.75 497.94,222.08 506.78,218.57 515.68,215.21 524.64,212 533.66,208.95 542.73,206.05 551.86,203.32 561.03,200.74 570.26,198.32 579.52,196.07 588.83,193.97 598.18,192.04 607.56,190.27 616.97,188.66 626.42,187.22 635.89,185.94 645.38,184.83 654.9,183.88 664.44,183.1 673.99,182.49 683.55,182.04 693.12,181.76 702.7,181.64 712.29,181.7 721.87,181.92 731.46,182.31 741.03,182.86 750.6,183.58 760.16,184.47 769.71,185.53 779.24,186.76 788.75,188.15 798.23,189.71 807.7,191.43 817.13,193.32 826.53,195.37 835.9,197.59 845.23,199.97 854.52,202.52 863.77,205.23 872.97,208.1 882.13,211.13 891.23,214.32 900.28,217.68 909.27,221.19 918.21,224.86 927.08,228.68 935.88,232.66 944.62,236.8 953.29,241.09 961.88,245.53 970.4,250.12 978.84,254.86 987.2,259.75 995.48,264.79 1003.66,269.97 1011.76,275.3 1019.77,280.77 1027.68,286.38 1035.5,292.13 1043.22,298.02 1050.84,304.04 1058.35,310.19 1065.76,316.48 1073.06,322.9 1080.25,329.45 1087.32,336.13 1094.28,342.93 1101.12,349.85 1107.85,356.9 1114.45,364.06 1120.92,371.34 1127.28,378.73 1133.5,386.24 1139.59,393.85 1145.55,401.58 1151.38,409.41 1157.07,417.34 1162.63,425.38 1168.04,433.51 1173.32,441.74 1178.45,450.06 1183.44,458.47 1188.28,466.97 1192.97,475.56 1197.52,484.23 1201.91,492.99 1206.15,501.82 1210.24,510.72 1214.18,519.7 1217.95,528.76 1221.57,537.87 1225.04,547.06 1228.34,556.3 1231.48,565.61 1234.46,574.97 1237.28,584.38 1239.93,593.85 1242.42,603.36 1244.74,612.92 1246.89,622.52 1248.88,632.16 1250.7,641.84 1252.35,651.55 1253.84,661.29 1255.15,671.06 1256.29,680.86 1257.26,690.67 1258.06,700.51 1258.69,710.36 1259.15,720.22 1259.43,730.1 1259.54,739.98 1259.48,749.86 1259.25,759.74 1258.84,769.63 1258.26,779.5 1257.51,789.37 1256.59,799.23 1255.49,809.07 1254.22,818.9 1252.78,828.7 1251.17,838.49 1249.39,848.24 1247.44,857.97 1245.31,867.66 1243.02,877.32 1240.56,886.94 1237.93,896.52 1235.13,906.05 1232.16,915.54 1229.03,924.98 1225.73,934.36 1222.27,943.69 1218.64,952.96 1214.86,962.17 1210.91,971.32 1206.8,980.39 1202.53,989.4 1198.1,998.33 1193.52,1007.19 1188.78,1015.97 1183.88,1024.67 1178.84,1033.28 1173.64,1041.81 1168.29,1050.25 1162.8,1058.6 1157.15,1066.85 1151.36,1075.01 1145.43,1083.06 1139.36,1091.01 1133.15,1098.86 1126.8,1106.61 1120.31,1114.24 1113.69,1121.76 1106.93,1129.16 1100.04,1136.45 1093.03,1143.62 1085.89,1150.67 1078.63,1157.6 1071.24,1164.4 1063.73,1171.07 1056.11,1177.61 1048.37,1184.02 1040.51,1190.3 1032.55,1196.44 1024.47,1202.44 1016.29,1208.31 1008.01,1214.03 999.62,1219.6 991.14,1225.04 982.56,1230.32 973.89,1235.46 965.12,1240.44 956.27,1245.27 947.33,1249.95 938.3,1254.48 929.2,1258.84 920.02,1263.05 910.76,1267.1 901.43,1270.99 892.03,1274.72 882.57,1278.28 873.04,1281.68 863.45,1284.91 853.8,1287.97 844.09,1290.87 834.34,1293.6 824.53,1296.16 814.68,1298.54 804.78,1300.76 794.85,1302.8 784.88,1304.67 774.87,1306.37 764.83,1307.89 754.76,1309.24 744.67,1310.41 734.55,1311.4 724.42,1312.22 714.27,1312.86 704.11,1313.33 693.93,1313.62 683.75,1313.73 673.57,1313.66 663.39,1313.41 653.2,1312.99 643.03,1312.39 632.86,1311.61 622.7,1310.65 612.56,1309.52 602.44,1308.2 592.34,1306.71 582.26,1305.05 572.21,1303.21 562.19,1301.19 552.21,1299 542.26,1296.63 532.35,1294.09 522.48,1291.37 512.66,1288.48 502.89,1285.42 493.17,1282.19 483.5,1278.79 473.89,1275.22 464.35,1271.48 454.86,1267.57 445.45,1263.5 436.1,1259.26 426.82,1254.86 417.62,1250.29 408.5,1245.56 399.46,1240.68 390.5,1235.63 381.63,1230.43 372.85,1225.07 364.16,1219.56 355.57,1213.89 347.07,1208.07 338.67,1202.11 330.38,1195.99 322.19,1189.74 314.11,1183.33 306.14,1176.79 298.28,1170.1 290.54,1163.28 282.92,1156.31 275.41,1149.22 268.03,1141.99 260.78,1134.63 253.65,1127.15 246.65,1119.54 239.78,1111.8 233.05,1103.95 226.45,1095.97 219.99,1087.88 213.67,1079.67 207.49,1071.36 201.46,1062.93 195.57,1054.4 189.84,1045.76 184.25,1037.02 178.81,1028.18 173.53,1019.24 168.4,1010.22 163.43,1001.1 158.61,991.89 153.96,982.59 149.47,973.22 145.14,963.76 140.97,954.23 136.98,944.62 133.14,934.94 129.48,925.19 125.99,915.38 122.66,905.5 119.51,895.56 116.54,885.57 113.73,875.52 111.1,865.43 108.65,855.28 106.38,845.09 104.28,834.86 102.36,824.59 100.62,814.29 99.05,803.95 97.67,793.59 96.47,783.2 95.45,772.78 94.62,762.35 93.96,751.9 93.49,741.44 93.2,730.96 93.09,720.48 93.16,710 93.42,699.52 93.86,689.03 94.49,678.56 95.3,668.09 96.29,657.64 97.46,647.2 98.82,636.78 100.35,626.39 102.07,616.01 103.98,605.67 106.06,595.36 108.32,585.08 110.76,574.84 113.38,564.64 116.18,554.49 119.16,544.38 122.32,534.32 125.65,524.32 129.16,514.37 132.84,504.48 136.69,494.66 140.72,484.9 144.91,475.21 149.28,465.59 153.82,456.05 158.52,446.58 163.39,437.2 168.42,427.89 173.62,418.68 178.98,409.55 184.5,400.52 190.18,391.58 196.01,382.73 202,373.99 208.15,365.36 214.44,356.82 220.89,348.4 227.48,340.09 234.22,331.89 241.11,323.81 248.13,315.84 255.3,308 262.61,300.28 270.05,292.69 277.62,285.23 285.33,277.9 293.16,270.7 301.13,263.63 309.21,256.71 317.42,249.92 325.75,243.28 334.2,236.78 342.76,230.43 351.43,224.23 360.22,218.18 369.11,212.28 378.1,206.53 387.2,200.94 396.4,195.51 405.69,190.24 415.07,185.13 424.55,180.18 434.12,175.39 443.76,170.78 453.5,166.33 463.31,162.05 473.19,157.94 483.15,154 493.19,150.24 503.28,146.65 513.45,143.24 523.67,140 533.95,136.94 544.29,134.06 554.68,131.36 565.11,128.85 575.6,126.51 586.12,124.36 596.69,122.39 607.29,120.6 617.92,119 628.59,117.58 639.28,116.35 649.99,115.31 660.72,114.45 671.47,113.78 682.23,113.3 693.01,113.01 703.79,112.9 714.57,112.99 725.35,113.26 736.13,113.72 746.91,114.36 757.67,115.2 768.42,116.22 779.16,117.44 789.87,118.84 800.57,120.42 811.24,122.2 821.87,124.16 832.48,126.3 843.05,128.64 853.58,131.15 864.07,133.85 874.51,136.74 884.9,139.81 895.24,143.06 905.53,146.49 915.76,150.1 925.93,153.89 936.03,157.86 946.06,162 956.03,166.32 965.91,170.82 975.73,175.49 985.46,180.33 995.11,185.34 1004.67,190.52 1014.15,195.87 1023.53,201.39 1032.82,207.07 1042.01,212.91 1051.1,218.92 1060.08,225.08 1068.96,231.4 1077.73,237.88 1086.39,244.51 1094.94,251.3 1103.36,258.23 1111.67,265.31 1119.86,272.54 1127.92,279.92 1135.85,287.43 1143.65,295.09 1151.32,302.88 1158.86,310.8 1166.25,318.86 1173.51,327.06 1180.63,335.37 1187.6,343.82 1194.43,352.38 1201.1,361.07 1207.63,369.88 1214,378.8 1220.22,387.83 1226.28,396.97 1232.19,406.22 1237.93,415.58 1243.51,425.04 1248.92,434.59 1254.17,444.24 1259.26,453.99 1264.17,463.82 1268.91,473.74 1273.48,483.75 1277.87,493.84 1282.09,504.01 1286.14,514.25 1290,524.56 1293.69,534.94 1297.19,545.39 1300.51,555.9 1303.65,566.47 1306.61,577.1 1309.38,587.78 1311.96,598.51 1314.36,609.29 1316.56,620.11 1318.58,630.97 1320.42,641.86 1322.06,652.8 1323.51,663.76 1324.77,674.75 1325.83,685.76 1326.71,696.79 1327.39,707.84 1327.88,718.9 1328.18,729.97 1328.28,741.05 1328.19,752.14 1327.91,763.22 1327.43,774.3 1326.76,785.37 1325.9,796.44 1324.84,807.49 1323.59,818.52 1322.14,829.53 1320.51,840.52 1318.68,851.48 1316.66,862.42 1314.45,873.31 1312.05,884.17 1309.46,895 1306.68,905.77 1303.71,916.5 1300.55,927.18 1297.2,937.81 1293.67,948.38 1289.96,958.89 1286.06,969.33 1281.98,979.71 1277.71,990.02 1273.27,1000.26 1268.64,1010.42 1263.84,1020.5 1258.86,1030.5 1253.71,1040.41 1248.38,1050.24 1242.88,1059.97 1237.2,1069.61 1231.36,1079.15 1225.36,1088.59 1219.18,1097.93 1212.84,1107.16 1206.34,1116.28 1199.68,1125.29 1192.87,1134.18 1185.89,1142.96 1178.76,1151.62 1171.48,1160.15 1164.05,1168.55 1156.47,1176.83 1148.75,1184.98 1140.88,1192.99 1132.87,1200.87 1124.72,1208.61 1116.44,1216.2 1108.02,1223.66 1099.47,1230.96 1090.79,1238.12 1081.99,1245.13 1073.06,1251.99 1064.01,1258.69 1054.84,1265.23 1045.56,1271.62 1036.16,1277.84 1026.66,1283.9 1017.04,1289.8 1007.32,1295.52 997.51,1301.08 987.59,1306.47 977.58,1311.69 967.47,1316.73 957.28,1321.6 946.99,1326.29 936.63,1330.8 926.18,1335.13 915.66,1339.28 905.07,1343.24 894.4,1347.02 883.67,1350.62 872.87,1354.02 862.01,1357.24 851.09,1360.27 840.12,1363.11 829.1,1365.76 818.03,1368.22 806.91,1370.49 795.75,1372.56 784.56,1374.43 773.33,1376.11 762.07,1377.6 750.79,1378.89 739.47,1379.98 728.14,1380.87 716.79,1381.57 705.43,1382.07 694.06,1382.37 682.68,1382.47 671.3,1382.37 659.91,1382.07 648.53,1381.58 637.16,1380.88 625.8,1379.99 614.45,1378.9 603.12,1377.61 591.81,1376.13 580.53,1374.44 569.27,1372.56 558.04,1370.48 546.85,1368.2 535.7,1365.73 524.59,1363.07 513.52,1360.21 502.5,1357.15 491.54,1353.9 480.63,1350.47 469.77,1346.84 458.98,1343.02 448.26,1339.01 437.6,1334.81 427.02,1330.43 416.51,1325.86 406.08,1321.1 395.73,1316.17 385.46,1311.05 375.28,1305.75 365.2,1300.28 355.2,1294.63 345.31,1288.8 335.52,1282.8 325.82,1276.62 316.24,1270.28 306.77,1263.77 297.4,1257.09 288.16,1250.25 279.03,1243.24 270.02,1236.08 261.13,1228.75 252.38,1221.28 243.75,1213.64 235.25,1205.86 226.89,1197.92 218.67,1189.84 210.58,1181.61 202.64,1173.25 194.85,1164.74 187.2,1156.09 179.7,1147.31 172.35,1138.4 165.16,1129.36 158.13,1120.19 151.25,1110.89 144.54,1101.48 137.99,1091.95 131.6,1082.3 125.38,1072.54 119.34,1062.67 113.46,1052.69 107.76,1042.6 102.23,1032.42 96.88,1022.14 91.71,1011.76 86.71,1001.3 81.91,990.74 77.28,980.1 72.84,969.38 68.59,958.57 64.52,947.69 60.64,936.74 56.96,925.72 53.46,914.64 50.16,903.49 47.06,892.28 44.15,881.02 41.43,869.7 38.91,858.34 36.59,846.93 34.47,835.48 32.55,823.99 30.83,812.46 29.31,800.9 28,789.32 26.88,777.71 25.97,766.08 25.26,754.43 24.75,742.77 24.45,731.09 24.35,719.41 24.45,707.73 24.76,696.05 25.27,684.37 25.99,672.7 26.91,661.04 28.04,649.39 29.36,637.76 30.89,626.16 32.63,614.58 34.56,603.02 36.7,591.5 39.04,580.02 41.58,568.57 44.32,557.17 47.26,545.82 50.4,534.51 53.74,523.26 57.27,512.06 61,500.93 64.93,489.86 69.04,478.85 73.36,467.92 77.86,457.06 82.55,446.27 87.43,435.57 92.5,424.95 97.76,414.42 103.2,403.98 108.82,393.63 114.62,383.38 120.61,373.23 126.77,363.18 133.11,353.24 139.62,343.41 146.31,333.69 153.16,324.09 160.19,314.6 167.38,305.24 174.73,296 182.25,286.88 189.93,277.9 197.76,269.05 205.76,260.34 213.9,251.76 222.2,243.33 230.64,235.04 239.23,226.89 247.96,218.9 256.84,211.05 265.85,203.36 274.99,195.83 284.27,188.46 293.68,181.24 303.22,174.19 312.88,167.31 322.66,160.59 332.57,154.04 342.58,147.67 352.71,141.47 362.95,135.44 373.3,129.6 383.74,123.93 394.29,118.45 404.94,113.14 415.68,108.03 426.51,103.1 437.43,98.36 448.43,93.81 459.52,89.45 470.68,85.28 481.91,81.31 493.22,77.53 504.59,73.95 516.03,70.57 527.53,67.39 539.08,64.41 550.69,61.63 562.35,59.05 574.05,56.67 585.8,54.5"/>
<line x1="669.83" y1="466.79" x2="662.96" y2="390.35" stroke="#b4b4b4" stroke-width="1"/>
<line x1="849.24" y1="507" x2="893.12" y2="444.03" stroke="#b4b4b4" stroke-width="1"/>
<line x1="963.84" y1="657.4" x2="1037.93" y2="637.37" stroke="#b4b4b4" stroke-width="1"/>
<line x1="954.51" y1="851.49" x2="1024.14" y2="883.77" stroke="#b4b4b4" stroke-width="1"/>
<line x1="818.92" y1="997.87" x2="851.51" y2="1067.36" stroke="#b4b4b4" stroke-width="1"/>
<line x1="615.75" y1="1023.32" x2="596.06" y2="1097.5" stroke="#b4b4b4" stroke-width="1"/>
<line x1="439.47" y1="909.23" x2="376.7" y2="953.4" stroke="#b4b4b4" stroke-width="1"/>
<line x1="376.41" y1="703.48" x2="299.93" y2="696.97" stroke="#b4b4b4" stroke-width="1"/>
<line x1="462.54" y1="500.59" x2="408.15" y2="446.44" stroke="#b4b4b4" stroke-width="1"/>
<line x1="663.68" y1="398.32" x2="656.82" y2="321.87" stroke="#b4b4b4" stroke-width="1"/>
<line x1="888.55" y1="450.6" x2="932.43" y2="387.63" stroke="#b4b4b4" stroke-width="1"/>
<line x1="1030.21" y1="639.46" x2="1104.3" y2="619.43" stroke="#b4b4b4" stroke-width="1"/>
<line x1="1016.88" y1="880.4" x2="1086.52" y2="912.68" stroke="#b4b4b4" stroke-width="1"/>
<line x1="848.11" y1="1060.11" x2="880.71" y2="1129.6" stroke="#b4b4b4" stroke-width="1"/>
<line x1="598.11" y1="1089.77" x2="578.41" y2="1163.95" stroke="#b4b4b4" stroke-width="1"/>
<line x1="383.25" y1="948.79" x2="320.48" y2="992.96" stroke="#b4b4b4" stroke-width="1"/>
<line x1="307.9" y1="697.65" x2="231.43" y2="691.13" stroke="#b4b4b4" stroke-width="1"/>
<line x1="413.82" y1="452.09" x2="359.43" y2="397.94" stroke="#b4b4b4" stroke-width="1"/>
<line x1="657.53" y1="329.84" x2="650.67" y2="253.4" stroke="#b4b4b4" stroke-width="1"/>
<line x1="927.85" y1="394.19" x2="971.73" y2="331.22" stroke="#b4b4b4" stroke-width="1"/>
<line x1="1096.57" y1="621.52" x2="1170.66" y2="601.48" stroke="#b4b4b4" stroke-width="1"/>
<line x1="1079.26" y1="909.32" x2="1148.89" y2="941.6" stroke="#b4b4b4" stroke-width="1"/>
<line x1="877.31" y1="1122.36" x2="909.9" y2="1191.84" stroke="#b4b4b4" stroke-width="1"/>
<line x1="580.46" y1="1156.21" x2="560.77" y2="1230.39" stroke="#b4b4b4" stroke-width="1"/>
<line x1="327.02" y1="988.35" x2="264.25" y2="1032.52" stroke="#b4b4b4" stroke-width="1"/>
<line x1="239.4" y1="691.81" x2="162.93" y2="685.29" stroke="#b4b4b4" stroke-width="1"/>
<line x1="365.1" y1="403.58" x2="310.7" y2="349.44" stroke="#b4b4b4" stroke-width="1"/>
<line x1="651.38" y1="261.37" x2="644.52" y2="184.92" stroke="#b4b4b4" stroke-width="1"/>
<line x1="967.16" y1="337.78" x2="1011.04" y2="274.81" stroke="#b4b4b4" stroke-width="1"/>
<line x1="1162.94" y1="603.57" x2="1237.03" y2="583.54" stroke="#b4b4b4" stroke-width="1"/>
<line x1="1141.63" y1="938.23" x2="1211.26" y2="970.51" stroke="#b4b4b4" stroke-width="1"/>
<line x1="906.51" y1="1184.6" x2="939.1" y2="1254.09" stroke="#b4b4b4" stroke-width="1"/>
<line x1="562.82" y1="1222.66" x2="543.13" y2="1296.84" stroke="#b4b4b4" stroke-width="1"/>
<line x1="270.79" y1="1027.91" x2="208.02" y2="1072.08" stroke="#b4b4b4" stroke-width="1"/>
<line x1="170.9" y1="685.97" x2="94.43" y2="679.46" stroke="#b4b4b4" stroke-width="1"/>
<line x1="316.37" y1="355.08" x2="261.98" y2="300.93" stroke="#b4b4b4" stroke-width="1"/>
<line x1="645.24" y1="192.89" x2="638.37" y2="116.45" stroke="#b4b4b4" stroke-width="1"/>
<line x1="1006.46" y1="281.38" x2="1050.34" y2="218.41" stroke="#b4b4b4" stroke-width="1"/>
<line x1="1229.31" y1="585.63" x2="1303.4" y2="565.59" stroke="#b4b4b4" stroke-width="1"/>
<line x1="1204.01" y1="967.14" x2="1273.64" y2="999.42" stroke="#b4b4b4" stroke-width="1"/>
<line x1="935.7" y1="1246.84" x2="968.3" y2="1316.33" stroke="#b4b4b4" stroke-width="1"/>
<line x1="545.18" y1="1289.11" x2="525.48" y2="1363.29" stroke="#b4b4b4" stroke-width="1"/>
<line x1="214.56" y1="1067.48" x2="151.8" y2="1111.64" stroke="#b4b4b4" stroke-width="1"/>
<line x1="102.4" y1="680.14" x2="25.93" y2="673.62" stroke="#b4b4b4" stroke-width="1"/>
<circle cx="859" cy="984.6" r="14.9" fill="#b0b0b0"/>
<circle cx="689.9" cy="1108.5" r="14.9" fill="#b0b0b0"/>
<circle cx="438" cy="1105.5" r="14.9" fill="#b0b0b0"/>
<circle cx="204" cy="929.4" r="14.9" fill="#b0b0b0"/>
<circle cx="99" cy="629.5" r="14.9" fill="#b0b0b0"/>
<circle cx="541.9" cy="428.5" r="13.9" fill="none" stroke="#b4b4b4" stroke-width="1.7"/>
<circle cx="758.9" cy="323.4" r="13.9" fill="none" stroke="#b4b4b4" stroke-width="1.7"/>
<circle cx="1039" cy="385.4" r="13.9" fill="none" stroke="#b4b4b4" stroke-width="1.7"/>
<circle cx="1253" cy="660.5" r="13.9" fill="none" stroke="#b4b4b4" stroke-width="1.7"/>
<polyline fill="none" stroke="#000" stroke-width="1.2" points="543.98,508.99 547.76,506.25 551.6,503.58 555.48,500.97 559.41,498.44 563.39,495.96 567.41,493.56 571.48,491.23 575.59,488.96 579.74,486.77 583.93,484.65 588.16,482.6 592.43,480.62 596.74,478.72 601.08,476.89 605.46,475.13 609.87,473.45 614.31,471.85 618.79,470.32 623.29,468.88 627.82,467.51 632.37,466.21 636.96,465 641.56,463.87 646.19,462.81 650.84,461.84 655.5,460.95 660.19,460.14 664.89,459.41 669.61,458.76 674.34,458.19 679.09,457.71 683.84,457.31 688.61,456.99 693.38,456.75 698.16,456.6 702.95,456.54 707.73,456.55 712.53,456.65 717.32,456.83 722.11,457.1 726.9,457.45 731.68,457.89 736.47,458.41 741.24,459.01 746.01,459.7 750.76,460.47 755.51,461.32 760.24,462.26 764.96,463.28 769.67,464.39 774.35,465.57 779.02,466.84 783.67,468.19 788.3,469.63 792.91,471.14 797.49,472.74 802.05,474.42 806.58,476.18 811.08,478.02 815.55,479.93 819.99,481.93 824.4,484.01 828.77,486.16 833.11,488.39 837.41,490.7 841.67,493.09 845.9,495.55 850.08,498.09 854.22,500.7 858.32,503.38 862.37,506.14 866.38,508.97 870.34,511.87 874.25,514.85 878.11,517.89 881.92,521 885.67,524.18 889.38,527.43 893.03,530.74 896.62,534.12 900.15,537.56 903.63,541.07 907.05,544.64 910.41,548.27 913.7,551.97 916.93,555.72 920.1,559.53 923.2,563.4 926.24,567.32 929.21,571.3 932.11,575.33 934.95,579.42 937.71,583.56 940.4,587.74 943.02,591.98 945.57,596.27 948.04,600.6 950.44,604.98 952.77,609.4 955.02,613.86 957.19,618.37 959.28,622.92 961.3,627.5 963.23,632.12 965.09,636.78 966.86,641.48 968.56,646.21 970.17,650.96 971.7,655.75 973.15,660.57 974.51,665.42 975.79,670.29 976.98,675.19 978.09,680.12 979.12,685.06 980.06,690.02 980.91,695.01 981.68,700.01 982.35,705.02 982.94,710.05 983.45,715.1 983.86,720.15 984.19,725.22 984.43,730.29 984.58,735.37 984.64,740.45 984.61,745.54 984.5,750.63 984.29,755.72 984,760.81 983.61,765.9 983.14,770.98 982.58,776.06 981.93,781.13 981.19,786.19 980.36,791.25 979.44,796.28 978.44,801.31 977.34,806.32 976.16,811.31 974.89,816.29 973.53,821.25 972.08,826.18 970.55,831.09 968.93,835.98 967.23,840.84 965.44,845.67 963.56,850.48 961.6,855.25 959.55,860 957.42,864.71 955.21,869.38 952.91,874.02 950.53,878.62 948.07,883.18 945.53,887.7 942.91,892.18 940.21,896.61 937.43,901 934.57,905.34 931.64,909.64 928.63,913.88 925.54,918.08 922.38,922.22 919.14,926.31 915.83,930.35 912.45,934.32 909,938.25 905.48,942.11 901.89,945.91 898.23,949.66 894.5,953.34 890.7,956.95 886.85,960.51 882.92,963.99 878.94,967.41 874.89,970.77 870.78,974.05 866.62,977.26 862.39,980.4 858.11,983.47 853.77,986.47 849.38,989.39 844.93,992.24 840.44,995 835.89,997.7 831.29,1000.31 826.64,1002.85 821.95,1005.3 817.22,1007.67 812.44,1009.97 807.61,1012.18 802.75,1014.3 797.85,1016.35 792.9,1018.3 787.93,1020.18 782.91,1021.96 777.87,1023.66 772.79,1025.27 767.68,1026.8 762.54,1028.23 757.38,1029.58 752.18,1030.83 746.97,1032 741.73,1033.08 736.47,1034.06 731.19,1034.95 725.89,1035.75 720.58,1036.46 715.25,1037.08 709.9,1037.6 704.55,1038.03 699.18,1038.37 693.81,1038.61 688.43,1038.76 683.05,1038.82 677.66,1038.78 672.27,1038.65 666.88,1038.42 661.49,1038.1 656.1,1037.68 650.72,1037.17 645.35,1036.57 639.98,1035.87 634.63,1035.08 629.28,1034.19 623.95,1033.21 618.63,1032.13 613.33,1030.97 608.05,1029.71 602.78,1028.35 597.54,1026.91 592.32,1025.37 587.13,1023.74 581.96,1022.01 576.82,1020.2 571.71,1018.3 566.63,1016.3 561.58,1014.22 556.56,1012.04 551.59,1009.78 546.64,1007.43 541.74,1004.99 536.88,1002.47 532.06,999.86 527.28,997.16 522.55,994.38 517.87,991.52 513.23,988.57 508.64,985.54 504.11,982.43 499.62,979.23 495.19,975.96 490.81,972.61 486.5,969.18 482.23,965.67 478.03,962.09 473.89,958.43 469.81,954.7 465.8,950.9 461.85,947.02 457.96,943.08 454.15,939.06 450.4,934.97 446.72,930.82 443.11,926.6 439.57,922.32 436.11,917.97 432.72,913.56 429.41,909.09 426.17,904.56 423.02,899.97 419.94,895.32 416.94,890.62 414.02,885.86 411.18,881.05 408.43,876.19 405.76,871.27 403.17,866.31 400.67,861.3 398.26,856.25 395.93,851.15 393.69,846.01 391.54,840.83 389.48,835.6 387.52,830.34 385.64,825.04 383.85,819.71 382.16,814.34 380.56,808.94 379.05,803.51 377.64,798.05 376.32,792.57 375.1,787.06 373.97,781.52 372.94,775.97 372,770.39 371.17,764.8 370.43,759.18 369.79,753.55 369.24,747.91 368.8,742.26 368.45,736.59 368.2,730.92 368.05,725.24 368,719.56 368.05,713.87 368.2,708.18 368.45,702.49 368.8,696.8 369.25,691.12 369.79,685.44 370.44,679.77 371.19,674.11 372.03,668.46 372.98,662.82 374.02,657.19 375.16,651.58 376.41,645.99 377.74,640.42 379.18,634.87 380.72,629.34 382.35,623.83 384.08,618.36 385.9,612.91 387.83,607.49 389.84,602.1 391.95,596.74 394.16,591.42 396.46,586.13 398.86,580.88 401.34,575.68 403.92,570.51 406.59,565.39 409.35,560.31 412.2,555.27 415.14,550.29 418.17,545.35 421.29,540.47 424.49,535.63 427.78,530.85 431.15,526.13 434.61,521.46 438.15,516.86 441.77,512.31 445.48,507.82 449.26,503.4 453.12,499.04 457.06,494.74 461.08,490.52 465.17,486.36 469.34,482.27 473.58,478.25 477.89,474.31 482.27,470.44 486.73,466.64 491.25,462.92 495.84,459.28 500.49,455.71 505.21,452.23 509.99,448.83 514.83,445.5 519.73,442.27 524.69,439.11 529.71,436.04 534.78,433.06 539.91,430.17 545.09,427.36 550.32,424.65 555.6,422.02 560.93,419.49 566.3,417.04 571.72,414.69 577.19,412.44 582.69,410.27 588.24,408.21 593.82,406.24 599.44,404.37 605.1,402.59 610.79,400.91 616.51,399.33 622.26,397.85 628.03,396.47 633.84,395.19 639.67,394.01 645.52,392.94 651.4,391.96 657.29,391.09 663.2,390.32 669.13,389.65 675.07,389.09 681.02,388.63 686.99,388.27 692.96,388.02 698.94,387.87 704.92,387.83 710.91,387.89 716.9,388.05 722.89,388.32 728.87,388.7 734.85,389.18 740.83,389.76 746.8,390.45 752.75,391.24 758.7,392.14 764.64,393.14 770.55,394.25 776.46,395.46 782.34,396.78 788.2,398.19 794.04,399.71 799.85,401.34 805.64,403.06 811.41,404.89 817.14,406.82 822.84,408.85 828.51,410.98 834.14,413.21 839.73,415.54 845.29,417.96 850.81,420.49 856.28,423.11 861.71,425.83 867.1,428.65 872.44,431.56 877.73,434.57 882.97,437.66 888.15,440.86 893.29,444.14 898.37,447.52 903.39,450.98 908.35,454.54 913.25,458.18 918.09,461.91 922.87,465.72 927.58,469.62 932.23,473.61 936.81,477.68 941.32,481.82 945.76,486.05 950.12,490.36 954.42,494.75 958.63,499.21 962.78,503.75 966.84,508.36 970.82,513.05 974.73,517.81 978.55,522.63 982.29,527.53 985.95,532.49 989.52,537.52 993,542.61 996.4,547.77 999.71,552.99 1002.92,558.26 1006.05,563.6 1009.08,568.99 1012.03,574.44 1014.87,579.94 1017.63,585.49 1020.28,591.1 1022.84,596.75 1025.3,602.45 1027.67,608.19 1029.93,613.98 1032.09,619.8 1034.16,625.67 1036.12,631.58 1037.98,637.52 1039.73,643.5 1041.38,649.51 1042.93,655.56 1044.37,661.63 1045.71,667.73 1046.94,673.85 1048.06,680 1049.08,686.17 1049.99,692.36 1050.79,698.57 1051.48,704.8 1052.07,711.04 1052.54,717.29 1052.91,723.55 1053.17,729.83 1053.31,736.11 1053.35,742.39 1053.28,748.68 1053.1,754.97 1052.81,761.25 1052.41,767.54 1051.9,773.82 1051.27,780.09 1050.54,786.36 1049.7,792.61 1048.75,798.85 1047.69,805.08 1046.52,811.29 1045.24,817.48 1043.86,823.66 1042.36,829.81 1040.76,835.94 1039.05,842.04 1037.23,848.11 1035.3,854.16 1033.27,860.17 1031.14,866.15 1028.89,872.1 1026.55,878.01 1024.1,883.87 1021.54,889.7 1018.88,895.49 1016.12,901.23 1013.26,906.93 1010.3,912.57 1007.24,918.17 1004.08,923.72 1000.82,929.21 997.46,934.65 994.01,940.03 990.46,945.36 986.82,950.62 983.09,955.82 979.26,960.96 975.34,966.04 971.33,971.04 967.24,975.98 963.05,980.85 958.78,985.65 954.42,990.37 949.98,995.02 945.46,999.6 940.85,1004.1 936.16,1008.51 931.4,1012.85 926.56,1017.11 921.64,1021.28 916.65,1025.37 911.58,1029.37 906.44,1033.29 901.23,1037.12 895.95,1040.85 890.61,1044.5 885.2,1048.06 879.72,1051.52 874.19,1054.89 868.59,1058.16 862.93,1061.33 857.22,1064.41 851.45,1067.39 845.62,1070.27 839.75,1073.05 833.82,1075.72 827.84,1078.3 821.82,1080.77 815.75,1083.13 809.64,1085.4 803.48,1087.55 797.29,1089.6 791.06,1091.54 784.79,1093.37 778.49,1095.1 772.15,1096.71 765.79,1098.21 759.39,1099.61 752.97,1100.89 746.53,1102.06 740.06,1103.12 733.57,1104.06 727.06,1104.9 720.54,1105.61 714,1106.22 707.45,1106.71 700.88,1107.09 694.31,1107.35 687.73,1107.5 681.15,1107.53 674.56,1107.45 667.98,1107.25 661.39,1106.94 654.81,1106.51 648.23,1105.97 641.66,1105.31 635.1,1104.54 628.55,1103.65 622.01,1102.65 615.49,1101.53 608.98,1100.3 602.5,1098.95 596.03,1097.49 589.59,1095.92 583.17,1094.23 576.79,1092.44 570.43,1090.52 564.1,1088.5 557.8,1086.37 551.54,1084.12 545.32,1081.77 539.14,1079.3 532.99,1076.73 526.89,1074.05 520.84,1071.26 514.83,1068.36 508.87,1065.36 502.96,1062.25 497.1,1059.04 491.3,1055.73 485.55,1052.31 479.86,1048.79 474.23,1045.17 468.66,1041.45 463.15,1037.63 457.71,1033.72 452.34,1029.71 447.03,1025.6 441.79,1021.4 436.63,1017.1 431.54,1012.72 426.52,1008.24 421.58,1003.68 416.72,999.02 411.93,994.28 407.23,989.46 402.61,984.55 398.08,979.56 393.63,974.48 389.27,969.33 384.99,964.1 380.81,958.8 376.72,953.42 372.72,947.96 368.81,942.44 365,936.84 361.29,931.17 357.67,925.44 354.16,919.65 350.74,913.79 347.42,907.86 344.21,901.88 341.1,895.84 338.09,889.75 335.19,883.6 332.4,877.39 329.71,871.14 327.13,864.83 324.67,858.48 322.31,852.09 320.06,845.65 317.92,839.17 315.9,832.65 313.99,826.09 312.19,819.5 310.51,812.87 308.95,806.21 307.5,799.52 306.16,792.81 304.94,786.07 303.84,779.3 302.86,772.52 302,765.71 301.25,758.89 300.63,752.05 300.12,745.2 299.73,738.33 299.47,731.46 299.32,724.58 299.29,717.7 299.38,710.81 299.6,703.93 299.93,697.04 300.38,690.16 300.96,683.28 301.65,676.42 302.47,669.56 303.4,662.71 304.46,655.88 305.63,649.06 306.92,642.26 308.34,635.49 309.87,628.73 311.52,622 313.29,615.3 315.18,608.62 317.18,601.98 319.3,595.36 321.54,588.79 323.89,582.25 326.35,575.75 328.94,569.29 331.63,562.87 334.44,556.5 337.36,550.17 340.39,543.9 343.54,537.67 346.79,531.5 350.15,525.38 353.62,519.32 357.19,513.32 360.88,507.38 364.66,501.5 368.56,495.68 372.55,489.93 376.65,484.25 380.84,478.64 385.14,473.1 389.53,467.64 394.02,462.24 398.61,456.93 403.29,451.69 408.06,446.54 412.93,441.46 417.88,436.47 422.93,431.57 428.06,426.75 433.28,422.01 438.58,417.37 443.96,412.82 449.43,408.36 454.98,404 460.6,399.73 466.3,395.56 472.07,391.49 477.92,387.51 483.84,383.64 489.83,379.87 495.89,376.2 502.01,372.64 508.19,369.18 514.44,365.83 520.75,362.59 527.12,359.46 533.54,356.44 540.02,353.53 546.56,350.73 553.14,348.04 559.77,345.47 566.45,343.01 573.18,340.67 579.94,338.45 586.75,336.34 593.6,334.36 600.48,332.49 607.4,330.74 614.35,329.11 621.34,327.6 628.35,326.21 635.38,324.95 642.45,323.81 649.53,322.79 656.63,321.89 663.76,321.12 670.89,320.48 678.04,319.95 685.21,319.55 692.38,319.28 699.56,319.13 706.74,319.11 713.92,319.21 721.11,319.44 728.3,319.8 735.48,320.28 742.65,320.88 749.82,321.61 756.97,322.47 764.11,323.45 771.24,324.56 778.35,325.79 785.45,327.14 792.51,328.62 799.56,330.23 806.58,331.96 813.57,333.81 820.54,335.78 827.47,337.88 834.36,340.1 841.22,342.43 848.04,344.89 854.82,347.47 861.56,350.17 868.25,352.99 874.89,355.92 881.48,358.98 888.03,362.14 894.52,365.43 900.95,368.82 907.33,372.34 913.65,375.96 919.9,379.69 926.1,383.54 932.23,387.49 938.29,391.56 944.28,395.73 950.2,400 956.05,404.38 961.82,408.87 967.51,413.45 973.13,418.14 978.67,422.93 984.13,427.81 989.5,432.8 994.78,437.87 999.98,443.04 1005.09,448.31 1010.11,453.66 1015.04,459.11 1019.88,464.64 1024.62,470.25 1029.26,475.96 1033.8,481.74 1038.25,487.61 1042.59,493.55 1046.83,499.58 1050.97,505.67 1055,511.85 1058.93,518.09 1062.75,524.41 1066.46,530.79 1070.05,537.24 1073.54,543.76 1076.91,550.34 1080.17,556.98 1083.32,563.68 1086.34,570.43 1089.26,577.24 1092.05,584.11 1094.72,591.02 1097.28,597.98 1099.71,604.99 1102.02,612.05 1104.21,619.14 1106.28,626.28 1108.22,633.45 1110.04,640.66 1111.73,647.91 1113.29,655.19 1114.73,662.49 1116.04,669.83 1117.23,677.18 1118.28,684.57 1119.21,691.97 1120.01,699.39 1120.68,706.82 1121.21,714.27 1121.62,721.74 1121.9,729.21 1122.05,736.69 1122.07,744.17 1121.96,751.65 1121.71,759.14 1121.34,766.62 1120.83,774.1 1120.2,781.58 1119.43,789.04 1118.53,796.49 1117.5,803.93 1116.34,811.35 1115.06,818.76 1113.64,826.14 1112.09,833.51 1110.41,840.84 1108.61,848.15 1106.68,855.43 1104.61,862.68 1102.43,869.9 1100.11,877.08 1097.67,884.22 1095.1,891.32 1092.41,898.37 1089.6,905.39 1086.66,912.35 1083.6,919.27 1080.41,926.13 1077.11,932.94 1073.69,939.7 1070.14,946.39 1066.48,953.03 1062.71,959.61 1058.81,966.12 1054.8,972.56 1050.68,978.94 1046.45,985.25 1042.1,991.48 1037.64,997.64 1033.08,1003.72 1028.41,1009.73 1023.63,1015.66 1018.74,1021.5 1013.76,1027.26 1008.67,1032.94 1003.48,1038.53 998.19,1044.02 992.8,1049.43 987.32,1054.75 981.74,1059.97 976.07,1065.09 970.31,1070.12 964.46,1075.05 958.52,1079.88 952.5,1084.6 946.39,1089.23 940.2,1093.74 933.93,1098.15 927.58,1102.45 921.15,1106.64 914.65,1110.72 908.08,1114.69 901.43,1118.54 894.71,1122.28 887.93,1125.91 881.08,1129.41 874.17,1132.8 867.2,1136.07 860.17,1139.21 853.08,1142.24 845.94,1145.14 838.74,1147.91 831.5,1150.57 824.2,1153.09 816.86,1155.49 809.48,1157.76 802.05,1159.91 794.59,1161.92 787.08,1163.81 779.54,1165.56 771.97,1167.18 764.37,1168.68 756.74,1170.03 749.09,1171.26 741.41,1172.35 733.71,1173.31 725.99,1174.14 718.25,1174.83 710.5,1175.38 702.74,1175.8 694.97,1176.09 687.19,1176.24 679.41,1176.25 671.63,1176.13 663.84,1175.87 656.06,1175.47 648.28,1174.94 640.51,1174.27 632.75,1173.47 625,1172.53 617.26,1171.46 609.54,1170.25 601.85,1168.9 594.17,1167.42 586.51,1165.81 578.88,1164.06 571.28,1162.18 563.72,1160.16 556.18,1158.01 548.68,1155.73 541.22,1153.32 533.79,1150.78 526.41,1148.1 519.08,1145.3 511.79,1142.37 504.55,1139.31 497.36,1136.12 490.23,1132.81 483.15,1129.37 476.13,1125.8 469.17,1122.12 462.27,1118.31 455.44,1114.38 448.68,1110.32 441.98,1106.15 435.35,1101.86 428.8,1097.46 422.32,1092.94 415.92,1088.3 409.6,1083.55 403.36,1078.69 397.21,1073.72 391.14,1068.64 385.15,1063.45 379.26,1058.16 373.45,1052.76 367.74,1047.26 362.13,1041.66 356.61,1035.96 351.18,1030.16 345.86,1024.26 340.64,1018.27 335.52,1012.19 330.51,1006.01 325.6,999.75 320.8,993.4 316.12,986.96 311.54,980.45 307.07,973.84 302.72,967.16 298.49,960.4 294.37,953.57 290.37,946.66 286.49,939.68 282.73,932.63 279.09,925.52 275.58,918.33 272.19,911.09 268.93,903.78 265.79,896.41 262.78,888.99 259.9,881.51 257.15,873.99 254.53,866.41 252.04,858.78 249.69,851.11 247.46,843.39 245.38,835.63 243.42,827.84 241.61,820.01 239.93,812.14 238.38,804.25 236.97,796.32 235.71,788.37 234.58,780.39 233.59,772.39 232.73,764.38 232.02,756.34 231.45,748.29 231.02,740.23 230.73,732.16 230.58,724.08 230.57,716 230.7,707.92 230.98,699.83 231.39,691.75 231.95,683.67 232.65,675.6 233.49,667.54 234.47,659.5 235.59,651.47 236.85,643.45 238.25,635.46 239.79,627.49 241.47,619.54 243.29,611.62 245.25,603.73 247.35,595.87 249.59,588.05 251.96,580.27 254.47,572.52 257.11,564.81 259.89,557.15 262.81,549.54 265.86,541.98 269.04,534.46 272.35,527 275.79,519.6 279.37,512.25 283.07,504.97 286.91,497.75 290.86,490.59 294.95,483.5 299.16,476.48 303.49,469.53 307.95,462.66 312.53,455.86 317.22,449.14 322.04,442.5 326.97,435.94 332.02,429.47 337.19,423.08 342.46,416.78 347.85,410.58 353.35,404.46 358.95,398.44 364.66,392.52 370.48,386.69 376.4,380.97 382.42,375.34 388.54,369.82 394.76,364.41 401.08,359.1 407.49,353.9 413.99,348.82 420.58,343.84 427.26,338.98 434.03,334.23 440.88,329.61 447.82,325.1 454.83,320.7 461.93,316.44 469.1,312.29 476.34,308.27 483.66,304.37 491.04,300.6 498.5,296.96 506.02,293.45 513.6,290.07 521.24,286.82 528.95,283.7 536.7,280.72 544.52,277.87 552.38,275.15 560.29,272.58 568.26,270.14 576.26,267.84 584.31,265.68 592.39,263.66 600.52,261.78 608.68,260.04 616.87,258.44 625.09,256.99 633.34,255.67 641.61,254.51 649.91,253.48 658.23,252.61 666.56,251.87 674.91,251.28 683.27,250.84 691.64,250.55 700.02,250.4 708.4,250.39 716.78,250.53 725.17,250.82 733.55,251.26 741.92,251.84 750.29,252.57 758.65,253.44 766.99,254.46 775.32,255.63 783.63,256.94 791.92,258.4 800.18,260 808.42,261.75 816.63,263.64 824.81,265.68 832.96,267.86 841.07,270.18 849.14,272.64 857.17,275.25 865.16,278 873.1,280.88 880.99,283.91 888.83,287.07 896.62,290.38 904.35,293.82 912.02,297.39 919.64,301.1 927.19,304.95 934.67,308.92 942.09,313.03 949.43,317.27 956.71,321.64 963.91,326.13 971.03,330.76 978.08,335.51 985.04,340.38 991.92,345.37 998.72,350.49 1005.42,355.73 1012.04,361.08 1018.56,366.56 1024.99,372.14 1031.33,377.84 1037.57,383.66 1043.7,389.58 1049.74,395.61 1055.67,401.75 1061.49,407.99 1067.21,414.34 1072.82,420.79 1078.31,427.34 1083.7,433.98 1088.97,440.72 1094.12,447.56 1099.15,454.48 1104.07,461.5 1108.86,468.6 1113.53,475.79 1118.07,483.06 1122.49,490.42 1126.79,497.85 1130.95,505.36 1134.98,512.94 1138.88,520.6 1142.65,528.32 1146.29,536.11 1149.79,543.97 1153.15,551.89 1156.38,559.87 1159.46,567.91 1162.41,576.01 1165.22,584.16 1167.88,592.36 1170.41,600.61 1172.78,608.9 1175.02,617.24 1177.11,625.62 1179.05,634.04 1180.85,642.49 1182.5,650.98 1184,659.49 1185.36,668.04 1186.56,676.61 1187.62,685.2 1188.52,693.82 1189.28,702.45 1189.88,711.1 1190.33,719.76 1190.64,728.43 1190.79,737.11 1190.79,745.79 1190.64,754.47 1190.33,763.16 1189.88,771.84 1189.27,780.51 1188.51,789.18 1187.6,797.83 1186.54,806.47 1185.33,815.1 1183.97,823.7 1182.45,832.28 1180.79,840.84 1178.97,849.37 1177.01,857.88 1174.9,866.35 1172.64,874.78 1170.23,883.18 1167.67,891.53 1164.97,899.85 1162.12,908.12 1159.13,916.34 1155.99,924.51 1152.71,932.62 1149.29,940.69 1145.72,948.69 1142.02,956.63 1138.17,964.51 1134.19,972.33 1130.07,980.08 1125.81,987.76 1121.42,995.36 1116.89,1002.89 1112.23,1010.34 1107.44,1017.72 1102.52,1025.01 1097.47,1032.21 1092.3,1039.33 1087,1046.36 1081.57,1053.3 1076.03,1060.15 1070.36,1066.9 1064.57,1073.56 1058.67,1080.11 1052.64,1086.56 1046.51,1092.91 1040.26,1099.16 1033.91,1105.29 1027.44,1111.32 1020.87,1117.23 1014.19,1123.04 1007.41,1128.72 1000.53,1134.29 993.55,1139.74 986.47,1145.07 979.3,1150.28 972.04,1155.36 964.69,1160.32 957.24,1165.15 949.71,1169.85 942.1,1174.42 934.41,1178.86 926.64,1183.16 918.79,1187.33 910.86,1191.37 902.87,1195.26 894.8,1199.02 886.67,1202.64 878.47,1206.12 870.21,1209.45 861.89,1212.64 853.51,1215.69 845.07,1218.59 836.59,1221.34 828.05,1223.95 819.47,1226.4 810.84,1228.71 802.17,1230.87 793.46,1232.88 784.71,1234.73 775.93,1236.44 767.11,1237.99 758.27,1239.38 749.4,1240.63 740.51,1241.71 731.6,1242.65 722.67,1243.42 713.72,1244.05 704.76,1244.51 695.79,1244.82 686.81,1244.97 677.83,1244.97 668.85,1244.81 659.86,1244.49 650.88,1244.02 641.91,1243.38 632.95,1242.6 623.99,1241.65 615.06,1240.55 606.14,1239.29 597.24,1237.88 588.36,1236.31 579.51,1234.58 570.68,1232.7 561.89,1230.66 553.13,1228.48 544.41,1226.13 535.72,1223.64 527.08,1220.99 518.48,1218.19 509.93,1215.24 501.43,1212.14 492.98,1208.89 484.59,1205.5 476.25,1201.95 467.98,1198.26 459.76,1194.43 451.61,1190.45 443.53,1186.32 435.52,1182.06 427.59,1177.65 419.72,1173.11 411.94,1168.42 404.23,1163.6 396.61,1158.64 389.07,1153.55 381.62,1148.33 374.26,1142.98 367,1137.49 359.82,1131.88 352.74,1126.14 345.77,1120.28 338.89,1114.29 332.11,1108.18 325.44,1101.95 318.88,1095.61 312.43,1089.15 306.09,1082.57 299.86,1075.88 293.75,1069.09 287.75,1062.18 281.88,1055.17 276.12,1048.05 270.49,1040.83 264.98,1033.51 259.6,1026.1 254.35,1018.59 249.23,1010.98 244.24,1003.29 239.38,995.5 234.66,987.63 230.08,979.68 225.63,971.64 221.32,963.52 217.16,955.33 213.13,947.06 209.25,938.72 205.51,930.31 201.92,921.84 198.48,913.3 195.19,904.69 192.04,896.03 189.05,887.31 186.2,878.54 183.51,869.72 180.98,860.84 178.59,851.92 176.37,842.96 174.3,833.96 172.38,824.92 170.63,815.84 169.03,806.73 167.59,797.59 166.31,788.43 165.19,779.24 164.23,770.02 163.43,760.79 162.79,751.55 162.31,742.29 162,733.02 161.84,723.74 161.85,714.46 162.02,705.18 162.35,695.89 162.85,686.61 163.5,677.34 164.32,668.08 165.3,658.83 166.44,649.6 167.75,640.38 169.21,631.18 170.84,622.01 172.63,612.87 174.57,603.75 176.68,594.66 178.94,585.62 181.37,576.6 183.95,567.63 186.69,558.71 189.58,549.82 192.63,540.99 195.84,532.21 199.2,523.48 202.71,514.81 206.38,506.2 210.19,497.65 214.16,489.17 218.27,480.75 222.54,472.41 226.94,464.13 231.5,455.93 236.2,447.81 241.04,439.77 246.02,431.82 251.15,423.95 256.41,416.16 261.81,408.47 267.34,400.87 273.01,393.36 278.81,385.96 284.74,378.65 290.8,371.44 296.98,364.34 303.3,357.34 309.73,350.46 316.29,343.68 322.96,337.02 329.76,330.47 336.67,324.04 343.69,317.73 350.82,311.54 358.07,305.48 365.42,299.54 372.88,293.73 380.44,288.04 388.1,282.49 395.86,277.07 403.71,271.78 411.66,266.63 419.7,261.62 427.83,256.75 436.05,252.02 444.35,247.43 452.73,242.98 461.19,238.68 469.73,234.53 478.35,230.52 487.03,226.67 495.78,222.97 504.6,219.41 513.49,216.02 522.43,212.77 531.44,209.68 540.5,206.75 549.61,203.98 558.77,201.36 567.98,198.91 577.23,196.61 586.53,194.47 595.87,192.5 605.24,190.69 614.64,189.04 624.08,187.56 633.54,186.24 643.03,185.09 652.54,184.1 662.07,183.28 671.62,182.62 681.17,182.13 690.74,181.81 700.32,181.66 709.9,181.67 719.49,181.85 729.07,182.19 738.65,182.71 748.22,183.39 757.78,184.24 767.32,185.25 776.86,186.43 786.37,187.78 795.86,189.3 805.33,190.98 814.77,192.83 824.18,194.84 833.55,197.02 842.89,199.36 852.19,201.86 861.45,204.53 870.66,207.36 879.83,210.35 888.94,213.5 898,216.82 907.01,220.29 915.96,223.91 924.84,227.7 933.66,231.64 942.42,235.74 951.1,239.99 959.71,244.39 968.25,248.94 976.71,253.65 985.09,258.5 993.38,263.5 1001.59,268.64 1009.71,273.93 1017.74,279.36 1025.68,284.94 1033.52,290.65 1041.26,296.5 1048.9,302.49 1056.44,308.61 1063.88,314.86 1071.2,321.25 1078.42,327.77 1085.52,334.41 1092.51,341.18 1099.38,348.07 1106.13,355.08 1112.76,362.21 1119.27,369.46 1125.66,376.82 1131.91,384.3 1138.04,391.88 1144.03,399.58 1149.89,407.38 1155.62,415.29 1161.21,423.29 1166.66,431.4 1171.97,439.6 1177.14,447.9 1182.16,456.29 1187.04,464.77 1191.77,473.33 1196.35,481.98 1200.79,490.71 1205.07,499.52 1209.2,508.41 1213.17,517.37 1216.99,526.4 1220.65,535.5 1224.15,544.66 1227.49,553.89 1230.68,563.18 1233.7,572.52 1236.56,581.92 1239.25,591.37 1241.78,600.87 1244.15,610.42 1246.35,620.01 1248.38,629.64 1250.24,639.3 1251.94,649.01 1253.46,658.74 1254.82,668.5 1256.01,678.28 1257.02,688.09 1257.87,697.92 1258.54,707.77 1259.04,717.63 1259.37,727.5 1259.53,737.37 1259.51,747.25 1259.33,757.14 1258.97,767.02 1258.43,776.89 1257.73,786.76 1256.85,796.62 1255.8,806.47 1254.58,816.3 1253.18,826.11 1251.62,835.89 1249.88,845.66 1247.97,855.39 1245.89,865.09 1243.64,874.76 1241.23,884.39 1238.64,893.97 1235.89,903.52 1232.97,913.02 1229.88,922.47 1226.63,931.87 1223.21,941.21 1219.63,950.49 1215.89,959.72 1211.98,968.88 1207.91,977.97 1203.69,987 1199.3,995.95 1194.76,1004.82 1190.06,1013.62 1185.21,1022.34 1180.21,1030.98 1175.05,1039.53 1169.74,1047.99 1164.29,1056.36 1158.69,1064.64 1152.94,1072.82 1147.05,1080.9 1141.01,1088.88 1134.84,1096.76 1128.52,1104.52 1122.07,1112.19 1115.49,1119.74 1108.77,1127.17 1101.92,1134.49 1094.94,1141.69 1087.84,1148.77 1080.61,1155.73 1073.26,1162.57 1065.78,1169.27 1058.19,1175.85 1050.48,1182.3 1042.66,1188.61 1034.73,1194.78 1026.68,1200.82 1018.53,1206.72 1010.28,1212.48 1001.92,1218.1 993.47,1223.57 984.91,1228.89 976.27,1234.07 967.53,1239.09 958.7,1243.97 949.78,1248.69 940.78,1253.25 931.7,1257.66 922.54,1261.91 913.31,1266.01 904,1269.94 894.62,1273.71 885.18,1277.31 875.67,1280.76 866.09,1284.03 856.46,1287.15 846.77,1290.09 837.03,1292.86 827.24,1295.47 817.41,1297.9 807.52,1300.16 797.6,1302.25 787.64,1304.17 777.64,1305.92 767.61,1307.49 757.55,1308.88 747.47,1310.1 737.36,1311.15 727.23,1312.01 717.09,1312.7 706.93,1313.22 696.76,1313.55 686.59,1313.71 676.41,1313.7 666.22,1313.5 656.04,1313.12 645.87,1312.57 635.7,1311.84 625.54,1310.94 615.4,1309.85 605.27,1308.59 595.16,1307.15 585.08,1305.53 575.03,1303.74 565,1301.77 555.01,1299.63 545.05,1297.31 535.13,1294.82 525.25,1292.15 515.42,1289.31 505.63,1286.3 495.9,1283.12 486.22,1279.76 476.6,1276.24 467.03,1272.55 457.53,1268.69 448.1,1264.66 438.73,1260.47 429.44,1256.12 420.22,1251.6 411.07,1246.92 402.01,1242.08 393.03,1237.08 384.14,1231.92 375.33,1226.6 366.62,1221.14 358,1215.52 349.47,1209.74 341.05,1203.82 332.73,1197.75 324.51,1191.53 316.4,1185.17 308.4,1178.66 300.51,1172.02 292.74,1165.24 285.08,1158.31 277.54,1151.26 270.13,1144.07 262.84,1136.75 255.67,1129.3 248.64,1121.73 241.73,1114.03 234.96,1106.21 228.33,1098.27 221.83,1090.21 215.47,1082.04 209.25,1073.76 203.18,1065.36 197.25,1056.86 191.47,1048.25 185.84,1039.54 180.36,1030.73 175.03,1021.83 169.86,1012.83 164.84,1003.74 159.99,994.55 155.29,985.29 150.75,975.93 146.37,966.5 142.16,956.99 138.12,947.41 134.24,937.75 130.52,928.02 126.98,918.23 123.61,908.37 120.41,898.45 117.38,888.48 114.53,878.45 111.85,868.37 109.35,858.24 107.02,848.06 104.87,837.85 102.9,827.59 101.1,817.3 99.49,806.97 98.06,796.62 96.8,786.23 95.73,775.83 94.84,765.4 94.13,754.96 93.61,744.5 93.26,734.03 93.1,723.55 93.12,713.07 93.33,702.59 93.72,692.11 94.29,681.64 95.04,671.17 95.98,660.71 97.1,650.27 98.4,639.85 99.88,629.45 101.55,619.07 103.4,608.72 105.42,598.4 107.63,588.11 110.02,577.86 112.59,567.65 115.34,557.49 118.26,547.36 121.37,537.29 124.64,527.28 128.1,517.31 131.73,507.41 135.53,497.57 139.5,487.79 143.65,478.08 147.97,468.44 152.45,458.88 157.1,449.39 161.92,439.98 166.91,430.65 172.06,421.41 177.37,412.26 182.84,403.2 188.47,394.24 194.25,385.37 200.2,376.6 206.29,367.93 212.54,359.36 218.94,350.91 225.49,342.56 232.19,334.33 239.03,326.22 246.01,318.22 253.14,310.34 260.4,302.59 267.8,294.96 275.33,287.46 283,280.09 290.79,272.85 298.72,265.75 306.76,258.78 314.94,251.96 323.23,245.27 331.64,238.73 340.16,232.33 348.8,226.09 357.55,219.99 366.41,214.04 375.37,208.25 384.44,202.62 393.6,197.14 402.86,191.82 412.22,186.66 421.67,181.66 431.2,176.83 440.82,172.16 450.53,167.66 460.32,163.33 470.18,159.17 480.11,155.18 490.12,151.37 500.2,147.73 510.34,144.26 520.54,140.97 530.81,137.86 541.13,134.92 551.5,132.17 561.92,129.6 572.39,127.2 582.9,125 593.45,122.97 604.04,121.13 614.66,119.47"/>
<line x1="543.98" y1="508.99" x2="528.38" y2="485.88" stroke="#000" stroke-width="1.5"/>
<line x1="598.2" y1="478.09" x2="587.94" y2="450.94" stroke="#000" stroke-width="1.5"/>
<line x1="658.65" y1="460.39" x2="654.2" y2="425.92" stroke="#000" stroke-width="1.5"/>
<line x1="722.14" y1="457.1" x2="725.77" y2="422.54" stroke="#000" stroke-width="1.5"/>
<line x1="785.26" y1="468.68" x2="796.13" y2="437.68" stroke="#000" stroke-width="1.5"/>
<line x1="844.54" y1="494.75" x2="862.47" y2="466.77" stroke="#000" stroke-width="1.5"/>
<line x1="896.67" y1="534.17" x2="920.57" y2="511.08" stroke="#000" stroke-width="1.5"/>
<line x1="938.66" y1="585.02" x2="966.25" y2="568.64" stroke="#000" stroke-width="1.5"/>
<line x1="968.03" y1="644.72" x2="996.11" y2="635.95" stroke="#000" stroke-width="1.5"/>
<line x1="982.96" y1="710.16" x2="1011.91" y2="708.13" stroke="#000" stroke-width="1.5"/>
<line x1="982.36" y1="777.88" x2="1010.62" y2="782.51" stroke="#000" stroke-width="1.5"/>
<line x1="965.99" y1="844.2" x2="991.02" y2="854.64" stroke="#000" stroke-width="1.5"/>
<line x1="934.49" y1="905.47" x2="957.05" y2="921.85" stroke="#000" stroke-width="1.5"/>
<line x1="889.3" y1="958.26" x2="907.48" y2="979.4" stroke="#000" stroke-width="1.5"/>
<line x1="832.67" y1="999.54" x2="844.78" y2="1022.94" stroke="#000" stroke-width="1.5"/>
<line x1="767.49" y1="1026.85" x2="773.14" y2="1049.45" stroke="#000" stroke-width="1.5"/>
<line x1="697.19" y1="1038.47" x2="697.45" y2="1061.01" stroke="#000" stroke-width="3"/>
<line x1="625.51" y1="1033.5" x2="620.91" y2="1054" stroke="#000" stroke-width="1.5"/>
<line x1="556.34" y1="1011.95" x2="546.47" y2="1032.2" stroke="#000" stroke-width="1.5"/>
<line x1="493.52" y1="974.7" x2="478.76" y2="992.72" stroke="#000" stroke-width="1.5"/>
<line x1="440.57" y1="923.54" x2="420.53" y2="938.84" stroke="#000" stroke-width="1.5"/>
<line x1="400.55" y1="861.05" x2="367.75" y2="875.66" stroke="#000" stroke-width="1.5"/>
<line x1="375.83" y1="790.44" x2="336.43" y2="797.88" stroke="#000" stroke-width="1.5"/>
<line x1="368.03" y1="715.45" x2="321.48" y2="713.3" stroke="#000" stroke-width="1.5"/>
<line x1="377.83" y1="640.09" x2="331.93" y2="626.95" stroke="#000" stroke-width="1.5"/>
<line x1="404.96" y1="568.49" x2="363.33" y2="545.11" stroke="#000" stroke-width="1.5"/>
<line x1="448.23" y1="504.59" x2="414.52" y2="473.53" stroke="#000" stroke-width="1.5"/>
<line x1="505.52" y1="452" x2="481.16" y2="415.91" stroke="#000" stroke-width="1.5"/>
<line x1="573.91" y1="413.78" x2="558.53" y2="373.04" stroke="#000" stroke-width="1.5"/>
<line x1="649.85" y1="392.21" x2="644.33" y2="349.4" stroke="#000" stroke-width="1.5"/>
<line x1="729.31" y1="388.73" x2="733.77" y2="346.18" stroke="#000" stroke-width="1.5"/>
<line x1="808" y1="403.8" x2="820.64" y2="367.75" stroke="#000" stroke-width="1.5"/>
<line x1="881.63" y1="436.86" x2="901" y2="406.63" stroke="#000" stroke-width="1.5"/>
<line x1="946.11" y1="486.4" x2="971.65" y2="461.71" stroke="#000" stroke-width="1.5"/>
<line x1="997.78" y1="549.93" x2="1023.08" y2="534.92" stroke="#000" stroke-width="1.5"/>
<line x1="1033.65" y1="624.21" x2="1058.45" y2="616.47" stroke="#000" stroke-width="1.5"/>
<line x1="1051.54" y1="705.34" x2="1078.97" y2="703.42" stroke="#000" stroke-width="1.5"/>
<line x1="1050.2" y1="789" x2="1077.34" y2="793.46" stroke="#000" stroke-width="1.5"/>
<line x1="1029.44" y1="870.67" x2="1052.36" y2="880.23" stroke="#000" stroke-width="1.5"/>
<line x1="990.12" y1="945.86" x2="1009.6" y2="960" stroke="#000" stroke-width="1.5"/>
<line x1="934.12" y1="1010.39" x2="949.81" y2="1028.64" stroke="#000" stroke-width="1.5"/>
<line x1="864.26" y1="1060.6" x2="874.61" y2="1080.62" stroke="#000" stroke-width="1.5"/>
<line x1="784.15" y1="1093.55" x2="789.33" y2="1114.3" stroke="#000" stroke-width="1.5"/>
<line x1="698.01" y1="1107.22" x2="698.29" y2="1130.51" stroke="#000" stroke-width="3"/>
<line x1="610.45" y1="1100.59" x2="604.18" y2="1128.54" stroke="#000" stroke-width="1.5"/>
<line x1="526.23" y1="1073.75" x2="512.51" y2="1101.9" stroke="#000" stroke-width="1.5"/>
<line x1="449.96" y1="1027.89" x2="430.12" y2="1052.12" stroke="#000" stroke-width="1.5"/>
<line x1="385.92" y1="965.26" x2="361.63" y2="983.79" stroke="#000" stroke-width="1.5"/>
<line x1="337.75" y1="889.03" x2="308.44" y2="902.09" stroke="#000" stroke-width="1.5"/>
<line x1="308.28" y1="803.19" x2="274.12" y2="809.63" stroke="#000" stroke-width="1.5"/>
<line x1="299.35" y1="712.27" x2="255.09" y2="710.23" stroke="#000" stroke-width="1.5"/>
<line x1="311.73" y1="621.17" x2="265.47" y2="607.92" stroke="#000" stroke-width="1.5"/>
<line x1="345.02" y1="534.83" x2="301.72" y2="510.52" stroke="#000" stroke-width="1.5"/>
<line x1="397.66" y1="458.01" x2="361.14" y2="424.37" stroke="#000" stroke-width="1.5"/>
<line x1="467.05" y1="395.02" x2="442.48" y2="358.61" stroke="#000" stroke-width="1.5"/>
<line x1="549.63" y1="349.46" x2="534.38" y2="309.08" stroke="#000" stroke-width="1.5"/>
<line x1="641.05" y1="324.02" x2="635.63" y2="281.98" stroke="#000" stroke-width="1.5"/>
<line x1="736.47" y1="320.35" x2="740.41" y2="282.75" stroke="#000" stroke-width="1.5"/>
<line x1="830.74" y1="338.92" x2="841.23" y2="309" stroke="#000" stroke-width="1.5"/>
<line x1="918.72" y1="378.98" x2="934.38" y2="354.54" stroke="#000" stroke-width="1.5"/>
<line x1="995.55" y1="438.62" x2="1015.87" y2="418.98" stroke="#000" stroke-width="1.5"/>
<line x1="1056.91" y1="514.85" x2="1080.23" y2="501.01" stroke="#000" stroke-width="1.5"/>
<line x1="1099.28" y1="603.71" x2="1129.17" y2="594.37" stroke="#000" stroke-width="1.5"/>
<line x1="1120.12" y1="700.53" x2="1151.36" y2="698.33" stroke="#000" stroke-width="1.5"/>
<line x1="1118.04" y1="800.13" x2="1143.67" y2="804.34" stroke="#000" stroke-width="1.5"/>
<line x1="1092.89" y1="897.14" x2="1116.86" y2="907.14" stroke="#000" stroke-width="1.5"/>
<line x1="1045.76" y1="986.25" x2="1066.46" y2="1001.29" stroke="#000" stroke-width="1.5"/>
<line x1="978.94" y1="1062.53" x2="997.86" y2="1084.54" stroke="#000" stroke-width="1.5"/>
<line x1="895.85" y1="1121.66" x2="911.11" y2="1151.18" stroke="#000" stroke-width="1.5"/>
<line x1="800.8" y1="1160.25" x2="810.42" y2="1198.79" stroke="#000" stroke-width="1.5"/>
<line x1="698.83" y1="1175.96" x2="699.31" y2="1216.45" stroke="#000" stroke-width="1.5"/>
<line x1="595.4" y1="1167.67" x2="586.53" y2="1207.17" stroke="#000" stroke-width="1.5"/>
<line x1="496.11" y1="1135.55" x2="476.7" y2="1175.38" stroke="#000" stroke-width="1.5"/>
<line x1="406.41" y1="1081.08" x2="378.33" y2="1115.36" stroke="#000" stroke-width="1.5"/>
<line x1="331.27" y1="1006.97" x2="296.05" y2="1033.85" stroke="#000" stroke-width="1.5"/>
<line x1="274.95" y1="917.02" x2="235.18" y2="934.74" stroke="#000" stroke-width="1.5"/>
<line x1="240.72" y1="815.94" x2="195.68" y2="824.43" stroke="#000" stroke-width="1.5"/>
<line x1="230.68" y1="709.1" x2="184.89" y2="706.98" stroke="#000" stroke-width="1.5"/>
<line x1="245.64" y1="602.24" x2="201.95" y2="589.72" stroke="#000" stroke-width="1.5"/>
<line x1="285.07" y1="501.17" x2="245.77" y2="479.1" stroke="#000" stroke-width="1.5"/>
<line x1="347.1" y1="411.43" x2="318.44" y2="385.04" stroke="#000" stroke-width="1.5"/>
<line x1="428.59" y1="338.04" x2="408.29" y2="307.96" stroke="#000" stroke-width="1.5"/>
<line x1="525.34" y1="285.14" x2="512.52" y2="251.19" stroke="#000" stroke-width="1.5"/>
<line x1="632.25" y1="255.84" x2="626.98" y2="214.93" stroke="#000" stroke-width="1.5"/>
<line x1="743.64" y1="251.98" x2="748.41" y2="206.39" stroke="#000" stroke-width="1.5"/>
<line x1="853.48" y1="274.03" x2="868.64" y2="230.78" stroke="#000" stroke-width="1.5"/>
<line x1="955.81" y1="321.09" x2="978.06" y2="286.36" stroke="#000" stroke-width="1.5"/>
<line x1="1044.99" y1="390.85" x2="1071.63" y2="365.1" stroke="#000" stroke-width="1.5"/>
<line x1="1116.03" y1="479.76" x2="1145.27" y2="462.42" stroke="#000" stroke-width="1.5"/>
<line x1="1164.9" y1="583.2" x2="1194.79" y2="573.86" stroke="#000" stroke-width="1.5"/>
<line x1="1188.7" y1="695.71" x2="1219.94" y2="693.51" stroke="#000" stroke-width="1.5"/>
<line x1="1185.89" y1="811.26" x2="1211.89" y2="815.52" stroke="#000" stroke-width="1.5"/>
<line x1="1156.34" y1="923.61" x2="1178.9" y2="933.03" stroke="#000" stroke-width="1.5"/>
<line x1="1101.39" y1="1026.64" x2="1119.93" y2="1040.11" stroke="#000" stroke-width="1.5"/>
<line x1="1023.76" y1="1114.66" x2="1038.45" y2="1131.75" stroke="#000" stroke-width="1.5"/>
<line x1="927.43" y1="1182.73" x2="940.07" y2="1207.15" stroke="#000" stroke-width="1.5"/>
<line x1="817.45" y1="1226.96" x2="824.76" y2="1256.23" stroke="#000" stroke-width="1.5"/>
<line x1="699.65" y1="1244.71" x2="700.11" y2="1282.9" stroke="#000" stroke-width="3"/>
<line x1="580.35" y1="1234.75" x2="571.98" y2="1272.02" stroke="#000" stroke-width="1.5"/>
<line x1="465.99" y1="1197.35" x2="446.75" y2="1236.84" stroke="#000" stroke-width="1.5"/>
<line x1="362.85" y1="1134.27" x2="335.02" y2="1168.25" stroke="#000" stroke-width="1.5"/>
<line x1="276.62" y1="1048.68" x2="242.31" y2="1074.86" stroke="#000" stroke-width="1.5"/>
<line x1="212.15" y1="945" x2="172.73" y2="962.57" stroke="#000" stroke-width="1.5"/>
<line x1="173.16" y1="828.68" x2="125.12" y2="837.75" stroke="#000" stroke-width="1.5"/>
<line x1="162" y1="705.92" x2="113.16" y2="703.66" stroke="#000" stroke-width="1.5"/>
<line x1="179.55" y1="583.31" x2="130.34" y2="569.22" stroke="#000" stroke-width="1.5"/>
<line x1="225.12" y1="467.5" x2="180.5" y2="442.45" stroke="#000" stroke-width="1.5"/>
<line x1="296.53" y1="364.85" x2="260.85" y2="331.99" stroke="#000" stroke-width="1.5"/>
<line x1="390.13" y1="281.05" x2="365.98" y2="245.28" stroke="#000" stroke-width="1.5"/>
<line x1="501.06" y1="220.82" x2="486.35" y2="181.87" stroke="#000" stroke-width="1.5"/>
<line x1="623.46" y1="187.65" x2="618.72" y2="150.91" stroke="#000" stroke-width="1.5"/>
<line x1="750.8" y1="183.6" x2="754.66" y2="146.75" stroke="#000" stroke-width="1.5"/>
<line x1="876.22" y1="209.15" x2="886.96" y2="178.52" stroke="#000" stroke-width="1.5"/>
<line x1="992.9" y1="263.2" x2="1009.38" y2="237.47" stroke="#000" stroke-width="1.5"/>
<line x1="1094.43" y1="343.07" x2="1120.79" y2="317.59" stroke="#000" stroke-width="1.5"/>
<line x1="1175.16" y1="444.68" x2="1207.02" y2="425.77" stroke="#000" stroke-width="1.5"/>
<line x1="1230.52" y1="562.7" x2="1267.7" y2="551.08" stroke="#000" stroke-width="1.5"/>
<line x1="1257.28" y1="690.89" x2="1299.19" y2="687.95" stroke="#000" stroke-width="1.5"/>
<line x1="1253.73" y1="822.39" x2="1295.19" y2="829.19" stroke="#000" stroke-width="1.5"/>
<line x1="1219.79" y1="950.09" x2="1257.86" y2="965.97" stroke="#000" stroke-width="1.5"/>
<line x1="1157.02" y1="1067.04" x2="1189.78" y2="1090.82" stroke="#000" stroke-width="1.5"/>
<line x1="1068.58" y1="1166.79" x2="1095.22" y2="1197.78" stroke="#000" stroke-width="1.5"/>
<line x1="959.02" y1="1243.79" x2="977.8" y2="1280.09" stroke="#000" stroke-width="1.5"/>
<line x1="834.11" y1="1293.66" x2="843.18" y2="1329.98" stroke="#000" stroke-width="1.5"/>
<line x1="700.48" y1="1313.45" x2="700.85" y2="1344.77" stroke="#000" stroke-width="3"/>
<line x1="565.29" y1="1301.83" x2="558.43" y2="1332.39" stroke="#000" stroke-width="1.5"/>
<line x1="435.87" y1="1259.15" x2="423.33" y2="1284.9" stroke="#000" stroke-width="1.5"/>
<line x1="319.29" y1="1187.46" x2="301.14" y2="1209.62" stroke="#000" stroke-width="1.5"/>
<line x1="221.97" y1="1090.39" x2="199.81" y2="1107.31" stroke="#000" stroke-width="1.5"/>
<line x1="149.36" y1="972.98" x2="127.38" y2="982.78" stroke="#000" stroke-width="1.5"/>
<line x1="105.6" y1="841.43" x2="81.96" y2="845.89" stroke="#000" stroke-width="1.5"/>
<line x1="93.32" y1="702.74" x2="67" y2="701.53" stroke="#000" stroke-width="1.5"/>
<line x1="113.45" y1="564.38" x2="88.12" y2="557.13" stroke="#000" stroke-width="1.5"/>
<line x1="165.18" y1="433.84" x2="145.86" y2="423" stroke="#000" stroke-width="1.5"/>
<line x1="245.96" y1="318.28" x2="229.67" y2="303.27" stroke="#000" stroke-width="1.5"/>
<line x1="351.66" y1="224.07" x2="339.7" y2="206.34" stroke="#000" stroke-width="1.5"/>
<line x1="476.77" y1="156.5" x2="469.21" y2="136.49" stroke="#000" stroke-width="1.5"/>
<line x1="614.66" y1="119.47" x2="611.92" y2="98.26" stroke="#000" stroke-width="1.5"/>
<line x1="554.83" y1="506.82" x2="549.56" y2="498.32" stroke="#b4b4b4" stroke-width="1.2"/>
<line x1="609.35" y1="478.45" x2="606.18" y2="468.97" stroke="#b4b4b4" stroke-width="1.2"/>
<line x1="669.51" y1="463.3" x2="668.62" y2="453.34" stroke="#b4b4b4" stroke-width="1.2"/>
<line x1="732.14" y1="462.45" x2="733.57" y2="452.56" stroke="#b4b4b4" stroke-width="1.2"/>
<line x1="793.85" y1="476.22" x2="797.52" y2="466.92" stroke="#b4b4b4" stroke-width="1.2"/>
<line x1="851.24" y1="504.13" x2="856.96" y2="495.93" stroke="#b4b4b4" stroke-width="1.2"/>
<line x1="901.09" y1="544.91" x2="908.55" y2="538.25" stroke="#b4b4b4" stroke-width="1.2"/>
<line x1="940.53" y1="596.58" x2="949.33" y2="591.81" stroke="#b4b4b4" stroke-width="1.2"/>
<line x1="967.22" y1="656.49" x2="976.87" y2="653.88" stroke="#b4b4b4" stroke-width="1.2"/>
<line x1="979.45" y1="721.53" x2="989.45" y2="721.22" stroke="#b4b4b4" stroke-width="1.2"/>
<line x1="976.31" y1="788.23" x2="986.11" y2="790.23" stroke="#b4b4b4" stroke-width="1.2"/>
<line x1="957.68" y1="852.96" x2="966.76" y2="857.17" stroke="#b4b4b4" stroke-width="1.2"/>
<line x1="924.32" y1="912.16" x2="932.18" y2="918.35" stroke="#b4b4b4" stroke-width="1.2"/>
<line x1="877.79" y1="962.49" x2="884.01" y2="970.32" stroke="#b4b4b4" stroke-width="1.2"/>
<line x1="820.4" y1="1001.04" x2="824.65" y2="1010.09" stroke="#b4b4b4" stroke-width="1.2"/>
<line x1="755.11" y1="1025.51" x2="757.16" y2="1035.3" stroke="#b4b4b4" stroke-width="1.2"/>
<line x1="685.35" y1="1034.31" x2="685.08" y2="1044.31" stroke="#b4b4b4" stroke-width="1.2"/>
<line x1="614.85" y1="1026.7" x2="612.29" y2="1036.37" stroke="#b4b4b4" stroke-width="1.2"/>
<line x1="547.46" y1="1002.82" x2="542.73" y2="1011.64" stroke="#b4b4b4" stroke-width="1.2"/>
<line x1="486.91" y1="963.71" x2="480.28" y2="971.2" stroke="#b4b4b4" stroke-width="1.2"/>
<line x1="436.61" y1="911.25" x2="428.43" y2="917" stroke="#b4b4b4" stroke-width="1.2"/>
<line x1="399.49" y1="848.08" x2="390.2" y2="851.79" stroke="#b4b4b4" stroke-width="1.2"/>
<line x1="377.78" y1="777.48" x2="367.89" y2="778.95" stroke="#b4b4b4" stroke-width="1.2"/>
<line x1="372.92" y1="703.19" x2="362.96" y2="702.34" stroke="#b4b4b4" stroke-width="1.2"/>
<line x1="385.44" y1="629.2" x2="375.94" y2="626.07" stroke="#b4b4b4" stroke-width="1.2"/>
<line x1="414.94" y1="559.55" x2="406.41" y2="554.32" stroke="#b4b4b4" stroke-width="1.2"/>
<line x1="460.06" y1="498.12" x2="452.98" y2="491.07" stroke="#b4b4b4" stroke-width="1.2"/>
<line x1="518.61" y1="448.39" x2="513.34" y2="439.89" stroke="#b4b4b4" stroke-width="1.2"/>
<line x1="587.57" y1="413.24" x2="584.41" y2="403.76" stroke="#b4b4b4" stroke-width="1.2"/>
<line x1="663.37" y1="394.83" x2="662.47" y2="384.87" stroke="#b4b4b4" stroke-width="1.2"/>
<line x1="741.95" y1="394.41" x2="743.38" y2="384.51" stroke="#b4b4b4" stroke-width="1.2"/>
<line x1="819.09" y1="412.27" x2="822.76" y2="402.97" stroke="#b4b4b4" stroke-width="1.2"/>
<line x1="890.55" y1="447.72" x2="896.26" y2="439.52" stroke="#b4b4b4" stroke-width="1.2"/>
<line x1="952.35" y1="499.09" x2="959.8" y2="492.43" stroke="#b4b4b4" stroke-width="1.2"/>
<line x1="1000.97" y1="563.81" x2="1009.77" y2="559.04" stroke="#b4b4b4" stroke-width="1.2"/>
<line x1="1033.59" y1="638.55" x2="1043.24" y2="635.94" stroke="#b4b4b4" stroke-width="1.2"/>
<line x1="1048.17" y1="719.37" x2="1058.17" y2="719.06" stroke="#b4b4b4" stroke-width="1.2"/>
<line x1="1043.67" y1="801.98" x2="1053.47" y2="803.98" stroke="#b4b4b4" stroke-width="1.2"/>
<line x1="1020.06" y1="881.88" x2="1029.13" y2="886.08" stroke="#b4b4b4" stroke-width="1.2"/>
<line x1="978.35" y1="954.68" x2="986.21" y2="960.86" stroke="#b4b4b4" stroke-width="1.2"/>
<line x1="920.55" y1="1016.32" x2="926.77" y2="1024.15" stroke="#b4b4b4" stroke-width="1.2"/>
<line x1="849.6" y1="1063.28" x2="853.85" y2="1072.34" stroke="#b4b4b4" stroke-width="1.2"/>
<line x1="769.17" y1="1092.8" x2="771.21" y2="1102.59" stroke="#b4b4b4" stroke-width="1.2"/>
<line x1="683.51" y1="1103.03" x2="683.24" y2="1113.03" stroke="#b4b4b4" stroke-width="1.2"/>
<line x1="597.21" y1="1093.15" x2="594.64" y2="1102.81" stroke="#b4b4b4" stroke-width="1.2"/>
<line x1="514.97" y1="1063.41" x2="510.24" y2="1072.22" stroke="#b4b4b4" stroke-width="1.2"/>
<line x1="441.32" y1="1015.17" x2="434.69" y2="1022.66" stroke="#b4b4b4" stroke-width="1.2"/>
<line x1="380.38" y1="950.81" x2="372.21" y2="956.56" stroke="#b4b4b4" stroke-width="1.2"/>
<line x1="335.65" y1="873.6" x2="326.37" y2="877.32" stroke="#b4b4b4" stroke-width="1.2"/>
<line x1="309.78" y1="787.6" x2="299.89" y2="789.07" stroke="#b4b4b4" stroke-width="1.2"/>
<line x1="304.42" y1="697.35" x2="294.45" y2="696.5" stroke="#b4b4b4" stroke-width="1.2"/>
<line x1="320.13" y1="607.72" x2="310.63" y2="604.59" stroke="#b4b4b4" stroke-width="1.2"/>
<line x1="356.34" y1="523.59" x2="347.82" y2="518.36" stroke="#b4b4b4" stroke-width="1.2"/>
<line x1="411.34" y1="449.62" x2="404.25" y2="442.56" stroke="#b4b4b4" stroke-width="1.2"/>
<line x1="482.38" y1="389.95" x2="477.11" y2="381.46" stroke="#b4b4b4" stroke-width="1.2"/>
<line x1="565.8" y1="348.03" x2="562.63" y2="338.55" stroke="#b4b4b4" stroke-width="1.2"/>
<line x1="657.22" y1="326.36" x2="656.32" y2="316.4" stroke="#b4b4b4" stroke-width="1.2"/>
<line x1="751.76" y1="326.36" x2="753.19" y2="316.46" stroke="#b4b4b4" stroke-width="1.2"/>
<line x1="844.33" y1="348.32" x2="848" y2="339.02" stroke="#b4b4b4" stroke-width="1.2"/>
<line x1="929.85" y1="391.32" x2="935.57" y2="383.11" stroke="#b4b4b4" stroke-width="1.2"/>
<line x1="1003.6" y1="453.27" x2="1011.06" y2="446.61" stroke="#b4b4b4" stroke-width="1.2"/>
<line x1="1061.41" y1="531.04" x2="1070.21" y2="526.28" stroke="#b4b4b4" stroke-width="1.2"/>
<line x1="1099.95" y1="620.6" x2="1109.61" y2="617.99" stroke="#b4b4b4" stroke-width="1.2"/>
<line x1="1116.89" y1="717.22" x2="1126.88" y2="716.91" stroke="#b4b4b4" stroke-width="1.2"/>
<line x1="1111.03" y1="815.73" x2="1120.83" y2="817.73" stroke="#b4b4b4" stroke-width="1.2"/>
<line x1="1082.43" y1="910.79" x2="1091.51" y2="914.99" stroke="#b4b4b4" stroke-width="1.2"/>
<line x1="1032.37" y1="997.2" x2="1040.23" y2="1003.38" stroke="#b4b4b4" stroke-width="1.2"/>
<line x1="963.32" y1="1070.15" x2="969.54" y2="1077.98" stroke="#b4b4b4" stroke-width="1.2"/>
<line x1="878.8" y1="1125.53" x2="883.04" y2="1134.58" stroke="#b4b4b4" stroke-width="1.2"/>
<line x1="783.22" y1="1160.1" x2="785.27" y2="1169.89" stroke="#b4b4b4" stroke-width="1.2"/>
<line x1="681.66" y1="1171.76" x2="681.39" y2="1181.76" stroke="#b4b4b4" stroke-width="1.2"/>
<line x1="579.57" y1="1159.6" x2="577" y2="1169.26" stroke="#b4b4b4" stroke-width="1.2"/>
<line x1="482.48" y1="1124" x2="477.75" y2="1132.81" stroke="#b4b4b4" stroke-width="1.2"/>
<line x1="395.73" y1="1066.63" x2="389.1" y2="1074.12" stroke="#b4b4b4" stroke-width="1.2"/>
<line x1="324.16" y1="990.37" x2="315.98" y2="996.12" stroke="#b4b4b4" stroke-width="1.2"/>
<line x1="271.82" y1="899.13" x2="262.53" y2="902.85" stroke="#b4b4b4" stroke-width="1.2"/>
<line x1="241.78" y1="797.71" x2="231.89" y2="799.19" stroke="#b4b4b4" stroke-width="1.2"/>
<line x1="235.92" y1="691.51" x2="225.95" y2="690.66" stroke="#b4b4b4" stroke-width="1.2"/>
<line x1="254.82" y1="586.24" x2="245.32" y2="583.12" stroke="#b4b4b4" stroke-width="1.2"/>
<line x1="297.74" y1="487.63" x2="289.22" y2="482.4" stroke="#b4b4b4" stroke-width="1.2"/>
<line x1="362.62" y1="401.11" x2="355.53" y2="394.06" stroke="#b4b4b4" stroke-width="1.2"/>
<line x1="446.16" y1="331.52" x2="440.89" y2="323.02" stroke="#b4b4b4" stroke-width="1.2"/>
<line x1="544.03" y1="282.82" x2="540.86" y2="273.33" stroke="#b4b4b4" stroke-width="1.2"/>
<line x1="651.07" y1="257.88" x2="650.18" y2="247.92" stroke="#b4b4b4" stroke-width="1.2"/>
<line x1="761.57" y1="258.31" x2="763" y2="248.42" stroke="#b4b4b4" stroke-width="1.2"/>
<line x1="869.56" y1="284.37" x2="873.24" y2="275.07" stroke="#b4b4b4" stroke-width="1.2"/>
<line x1="969.16" y1="334.91" x2="974.88" y2="326.71" stroke="#b4b4b4" stroke-width="1.2"/>
<line x1="1054.86" y1="407.45" x2="1062.31" y2="400.78" stroke="#b4b4b4" stroke-width="1.2"/>
<line x1="1121.85" y1="498.28" x2="1130.65" y2="493.51" stroke="#b4b4b4" stroke-width="1.2"/>
<line x1="1166.32" y1="602.66" x2="1175.97" y2="600.05" stroke="#b4b4b4" stroke-width="1.2"/>
<line x1="1185.6" y1="715.06" x2="1195.6" y2="714.75" stroke="#b4b4b4" stroke-width="1.2"/>
<line x1="1178.39" y1="829.48" x2="1188.19" y2="831.48" stroke="#b4b4b4" stroke-width="1.2"/>
<line x1="1144.81" y1="939.7" x2="1153.88" y2="943.91" stroke="#b4b4b4" stroke-width="1.2"/>
<line x1="1086.4" y1="1039.72" x2="1094.26" y2="1045.9" stroke="#b4b4b4" stroke-width="1.2"/>
<line x1="1006.08" y1="1123.98" x2="1012.3" y2="1131.81" stroke="#b4b4b4" stroke-width="1.2"/>
<line x1="907.99" y1="1187.77" x2="912.24" y2="1196.82" stroke="#b4b4b4" stroke-width="1.2"/>
<line x1="797.28" y1="1227.4" x2="799.32" y2="1237.19" stroke="#b4b4b4" stroke-width="1.2"/>
<line x1="679.82" y1="1240.48" x2="679.55" y2="1250.48" stroke="#b4b4b4" stroke-width="1.2"/>
<line x1="561.92" y1="1226.04" x2="559.36" y2="1235.71" stroke="#b4b4b4" stroke-width="1.2"/>
<line x1="449.99" y1="1184.59" x2="445.26" y2="1193.4" stroke="#b4b4b4" stroke-width="1.2"/>
<line x1="350.14" y1="1118.1" x2="343.51" y2="1125.58" stroke="#b4b4b4" stroke-width="1.2"/>
<line x1="267.93" y1="1029.93" x2="259.75" y2="1035.68" stroke="#b4b4b4" stroke-width="1.2"/>
<line x1="207.98" y1="924.66" x2="198.7" y2="928.37" stroke="#b4b4b4" stroke-width="1.2"/>
<line x1="173.78" y1="807.83" x2="163.88" y2="809.31" stroke="#b4b4b4" stroke-width="1.2"/>
<line x1="167.41" y1="685.68" x2="157.45" y2="684.83" stroke="#b4b4b4" stroke-width="1.2"/>
<line x1="189.51" y1="564.76" x2="180.01" y2="561.64" stroke="#b4b4b4" stroke-width="1.2"/>
<line x1="239.15" y1="451.67" x2="230.63" y2="446.44" stroke="#b4b4b4" stroke-width="1.2"/>
<line x1="313.89" y1="352.61" x2="306.81" y2="345.56" stroke="#b4b4b4" stroke-width="1.2"/>
<line x1="409.93" y1="273.09" x2="404.66" y2="264.59" stroke="#b4b4b4" stroke-width="1.2"/>
<line x1="522.25" y1="217.61" x2="519.09" y2="208.12" stroke="#b4b4b4" stroke-width="1.2"/>
<line x1="644.92" y1="189.41" x2="644.03" y2="179.45" stroke="#b4b4b4" stroke-width="1.2"/>
<line x1="771.38" y1="190.27" x2="772.81" y2="180.37" stroke="#b4b4b4" stroke-width="1.2"/>
<line x1="894.8" y1="220.42" x2="898.47" y2="211.12" stroke="#b4b4b4" stroke-width="1.2"/>
<line x1="1008.46" y1="278.51" x2="1014.18" y2="270.3" stroke="#b4b4b4" stroke-width="1.2"/>
<line x1="1106.11" y1="361.63" x2="1113.56" y2="354.96" stroke="#b4b4b4" stroke-width="1.2"/>
<line x1="1182.29" y1="465.51" x2="1191.08" y2="460.75" stroke="#b4b4b4" stroke-width="1.2"/>
<line x1="1232.69" y1="584.71" x2="1242.34" y2="582.1" stroke="#b4b4b4" stroke-width="1.2"/>
<line x1="1254.32" y1="712.91" x2="1264.31" y2="712.59" stroke="#b4b4b4" stroke-width="1.2"/>
<line x1="1245.75" y1="843.23" x2="1255.55" y2="845.23" stroke="#b4b4b4" stroke-width="1.2"/>
<line x1="1207.18" y1="968.62" x2="1216.25" y2="972.82" stroke="#b4b4b4" stroke-width="1.2"/>
<line x1="1140.42" y1="1082.24" x2="1148.28" y2="1088.42" stroke="#b4b4b4" stroke-width="1.2"/>
<line x1="1048.84" y1="1177.82" x2="1055.06" y2="1185.65" stroke="#b4b4b4" stroke-width="1.2"/>
<line x1="937.19" y1="1250.01" x2="941.44" y2="1259.06" stroke="#b4b4b4" stroke-width="1.2"/>
<line x1="811.33" y1="1294.7" x2="813.38" y2="1304.49" stroke="#b4b4b4" stroke-width="1.2"/>
<line x1="677.98" y1="1309.21" x2="677.71" y2="1319.21" stroke="#b4b4b4" stroke-width="1.2"/>
<line x1="544.28" y1="1292.49" x2="541.71" y2="1302.16" stroke="#b4b4b4" stroke-width="1.2"/>
<line x1="417.5" y1="1245.17" x2="412.77" y2="1253.99" stroke="#b4b4b4" stroke-width="1.2"/>
<line x1="304.55" y1="1169.56" x2="297.92" y2="1177.04" stroke="#b4b4b4" stroke-width="1.2"/>
<line x1="211.7" y1="1069.49" x2="203.52" y2="1075.24" stroke="#b4b4b4" stroke-width="1.2"/>
<line x1="144.15" y1="950.19" x2="134.86" y2="953.9" stroke="#b4b4b4" stroke-width="1.2"/>
<line x1="105.77" y1="817.95" x2="95.88" y2="819.42" stroke="#b4b4b4" stroke-width="1.2"/>
<line x1="98.91" y1="679.84" x2="88.95" y2="678.99" stroke="#b4b4b4" stroke-width="1.2"/>
<line x1="124.2" y1="543.29" x2="114.7" y2="540.16" stroke="#b4b4b4" stroke-width="1.2"/>
<line x1="180.55" y1="415.71" x2="172.03" y2="410.48" stroke="#b4b4b4" stroke-width="1.2"/>
<line x1="265.17" y1="304.11" x2="258.08" y2="297.05" stroke="#b4b4b4" stroke-width="1.2"/>
<line x1="373.71" y1="214.66" x2="368.44" y2="206.16" stroke="#b4b4b4" stroke-width="1.2"/>
<line x1="500.48" y1="152.4" x2="497.31" y2="142.91" stroke="#b4b4b4" stroke-width="1.2"/>
<text x="707.3" y="471.8" transform="rotate(3.05 707.3 471.8)" class="lab" textLength="66" lengthAdjust="spacingAndGlyphs">02-Nov</text>
<text x="874.78" y="534.87" transform="rotate(42.82 874.78 534.87)" class="lab" textLength="66" lengthAdjust="spacingAndGlyphs">05-Nov</text>
<text x="965.56" y="695.15" transform="rotate(82.6 965.56 695.15)" class="lab" textLength="66" lengthAdjust="spacingAndGlyphs">08-Nov</text>
<text x="931.62" y="881.55" transform="rotate(-57.61 931.62 881.55)" class="lab" textLength="66" lengthAdjust="spacingAndGlyphs">11-Nov</text>
<text x="782.09" y="1006.25" transform="rotate(-17.81 782.09 1006.25)" class="lab" textLength="66" lengthAdjust="spacingAndGlyphs">14-Nov</text>
<text x="582.14" y="1006.12" transform="rotate(22 582.14 1006.12)" class="lab" textLength="66" lengthAdjust="spacingAndGlyphs">17-Nov</text>
<text x="424.73" y="874.48" transform="rotate(61.82 424.73 874.48)" class="lab" textLength="66" lengthAdjust="spacingAndGlyphs">20-Nov</text>
<text x="387.4" y="667.37" transform="rotate(-78.35 387.4 667.37)" class="lab" textLength="66" lengthAdjust="spacingAndGlyphs">23-Nov</text>
<text x="494.14" y="479.95" transform="rotate(-38.51 494.14 479.95)" class="lab" textLength="66" lengthAdjust="spacingAndGlyphs">26-Nov</text>
<text x="704.65" y="402.87" transform="rotate(1.95 704.65 402.87)" class="lab" textLength="66" lengthAdjust="spacingAndGlyphs">29-Nov</text>
<text x="917.04" y="480.37" transform="rotate(41.79 917.04 480.37)" class="lab" textLength="66.4" lengthAdjust="spacingAndGlyphs">02-Dec</text>
<text x="1032.95" y="680.58" transform="rotate(81.63 1032.95 680.58)" class="lab" textLength="66.4" lengthAdjust="spacingAndGlyphs">05-Dec</text>
<text x="992.6" y="913.69" transform="rotate(-58.51 992.6 913.69)" class="lab" textLength="66.4" lengthAdjust="spacingAndGlyphs">08-Dec</text>
<text x="808.13" y="1070.05" transform="rotate(-18.66 808.13 1070.05)" class="lab" textLength="66.4" lengthAdjust="spacingAndGlyphs">11-Dec</text>
<text x="561.08" y="1071.72" transform="rotate(21.21 561.08 1071.72)" class="lab" textLength="66.4" lengthAdjust="spacingAndGlyphs">14-Dec</text>
<text x="366.44" y="911.19" transform="rotate(61.08 366.44 911.19)" class="lab" textLength="66.4" lengthAdjust="spacingAndGlyphs">17-Dec</text>
<text x="319.16" y="658.03" transform="rotate(-79.04 319.16 658.03)" class="lab" textLength="66.4" lengthAdjust="spacingAndGlyphs">20-Dec</text>
<text x="447.87" y="428.94" transform="rotate(-39.16 447.87 428.94)" class="lab" textLength="66.4" lengthAdjust="spacingAndGlyphs">23-Dec</text>
<text x="702.99" y="334.04" transform="rotate(1.37 702.99 334.04)" class="lab" textLength="66.4" lengthAdjust="spacingAndGlyphs">26-Dec</text>
<text x="960.01" y="426.59" transform="rotate(41.25 960.01 426.59)" class="lab" textLength="66.4" lengthAdjust="spacingAndGlyphs">29-Dec</text>
<text x="1100.42" y="667" transform="rotate(81.13 1100.42 667)" class="lab" textLength="63" lengthAdjust="spacingAndGlyphs">01-Jan</text>
<text x="1053.01" y="946.65" transform="rotate(-58.98 1053.01 946.65)" class="lab" textLength="63" lengthAdjust="spacingAndGlyphs">04-Jan</text>
<text x="833.22" y="1134.13" transform="rotate(-19.09 833.22 1134.13)" class="lab" textLength="63" lengthAdjust="spacingAndGlyphs">07-Jan</text>
<text x="539.11" y="1136.93" transform="rotate(20.8 539.11 1136.93)" class="lab" textLength="63" lengthAdjust="spacingAndGlyphs">10-Jan</text>
<text x="307.7" y="947.02" transform="rotate(60.7 307.7 947.02)" class="lab" textLength="63" lengthAdjust="spacingAndGlyphs">13-Jan</text>
<text x="251.14" y="647.72" transform="rotate(-79.4 251.14 647.72)" class="lab" textLength="63" lengthAdjust="spacingAndGlyphs">16-Jan</text>
<text x="402.4" y="377.32" transform="rotate(-39.5 402.4 377.32)" class="lab" textLength="63" lengthAdjust="spacingAndGlyphs">19-Jan</text>
<text x="696.84" y="265.19" transform="rotate(0.41 696.84 265.19)" class="lab" textLength="63" lengthAdjust="spacingAndGlyphs">22-Jan</text>
<text x="999.54" y="369.9" transform="rotate(40.32 999.54 369.9)" class="lab" textLength="63" lengthAdjust="spacingAndGlyphs">25-Jan</text>
<text x="1167.13" y="648.99" transform="rotate(80.23 1167.13 648.99)" class="lab" textLength="63" lengthAdjust="spacingAndGlyphs">28-Jan</text>
<text x="1115.68" y="975.73" transform="rotate(-59.85 1115.68 975.73)" class="lab" textLength="63" lengthAdjust="spacingAndGlyphs">31-Jan</text>
<text x="862.53" y="1196.68" transform="rotate(-19.93 862.53 1196.68)" class="lab" textLength="63.7" lengthAdjust="spacingAndGlyphs">03-Feb</text>
<text x="521.37" y="1203.68" transform="rotate(19.99 521.37 1203.68)" class="lab" textLength="63.7" lengthAdjust="spacingAndGlyphs">06-Feb</text>
<text x="251.21" y="986.74" transform="rotate(59.91 251.21 986.74)" class="lab" textLength="63.7" lengthAdjust="spacingAndGlyphs">09-Feb</text>
<text x="182.34" y="641.84" transform="rotate(-80.16 182.34 641.84)" class="lab" textLength="63.7" lengthAdjust="spacingAndGlyphs">12-Feb</text>
<text x="353.48" y="328.61" transform="rotate(-40.23 353.48 328.61)" class="lab" textLength="63.7" lengthAdjust="spacingAndGlyphs">15-Feb</text>
<text x="690.68" y="196.44" transform="rotate(-0.3 690.68 196.44)" class="lab" textLength="63.7" lengthAdjust="spacingAndGlyphs">18-Feb</text>
<text x="1039.01" y="313.28" transform="rotate(39.63 1039.01 313.28)" class="lab" textLength="63.7" lengthAdjust="spacingAndGlyphs">21-Feb</text>
<text x="1233.76" y="630.99" transform="rotate(79.56 1233.76 630.99)" class="lab" textLength="63.7" lengthAdjust="spacingAndGlyphs">24-Feb</text>
<text x="1178.28" y="1004.77" transform="rotate(-60.5 1178.28 1004.77)" class="lab" textLength="63.7" lengthAdjust="spacingAndGlyphs">27-Feb</text>
<text x="891.82" y="1259.15" transform="rotate(-20.56 891.82 1259.15)" class="lab" textLength="66" lengthAdjust="spacingAndGlyphs">01-Mar</text>
<text x="503.65" y="1270.35" transform="rotate(19.38 503.65 1270.35)" class="lab" textLength="66" lengthAdjust="spacingAndGlyphs">04-Mar</text>
<text x="194.79" y="1026.43" transform="rotate(59.32 194.79 1026.43)" class="lab" textLength="66" lengthAdjust="spacingAndGlyphs">07-Mar</text>
<text x="113.61" y="635.97" transform="rotate(-80.74 113.61 635.97)" class="lab" textLength="66" lengthAdjust="spacingAndGlyphs">10-Mar</text>
<!-- legend -->
<circle cx="42" cy="28.3" r="15" fill="#b0b0b0"/>
<circle cx="42" cy="84.3" r="14.2" fill="none" stroke="#b4b4b4" stroke-width="1.6"/>
<text x="71" y="28" font-size="16" textLength="78" lengthAdjust="spacingAndGlyphs">New Moon</text>
<text x="71" y="84" font-size="16" textLength="73" lengthAdjust="spacingAndGlyphs">Full Moon</text>
<text x="1268" y="38" font-size="16.5" textLength="125" lengthAdjust="spacingAndGlyphs">Period: 27 days</text>
<text x="6" y="1395" font-size="16.5" textLength="104" lengthAdjust="spacingAndGlyphs">GI-UAF 2024</text>
<text x="1073.5" y="1395" font-size="16.5" textLength="318" lengthAdjust="spacingAndGlyphs">Condegram plotted Mar 16 at 09:01 UT</text>
<!-- 250/190/130 -->
<text x="700" y="50" font-size="15" textLength="27" lengthAdjust="spacingAndGlyphs">250</text>
<text x="700" y="73" font-size="15" textLength="27" lengthAdjust="spacingAndGlyphs">190</text>
<text x="700" y="96" font-size="15" textLength="27" lengthAdjust="spacingAndGlyphs">130</text>
<!-- scale bar -->
<line x1="671.5" y1="573.5" x2="707" y2="573.5" stroke="#000" stroke-width="1.5"/>
<line x1="671.5" y1="642" x2="707" y2="642" stroke="#000" stroke-width="1.5"/>
<line x1="688.6" y1="573.5" x2="688.6" y2="642" stroke="#000" stroke-width="2"/>
<text x="719.5" y="579.7" font-size="18" textLength="75" lengthAdjust="spacingAndGlyphs">250 sfu</text>
<text x="719.5" y="647.8" font-size="18" textLength="62" lengthAdjust="spacingAndGlyphs">70 sfu</text>
<!-- title -->
<text x="560" y="727" class="red ttl" textLength="271" lengthAdjust="spacingAndGlyphs">10.7 cm Solar</text>
<text x="586" y="758.5" class="red ttl" textLength="213" lengthAdjust="spacingAndGlyphs">Radio Flux</text>
<text x="638.3" y="803.7" class="red" font-size="33" textLength="108.6" lengthAdjust="spacingAndGlyphs">70 sfu</text>
<text x="571.6" y="886" class="red" font-size="29" textLength="244" lengthAdjust="spacingAndGlyphs">Latest: 20:00 UT</text>
<text x="588" y="911.7" class="red" font-size="29" textLength="209" lengthAdjust="spacingAndGlyphs">2024-Mar-15</text>
</svg>
</body></html>
